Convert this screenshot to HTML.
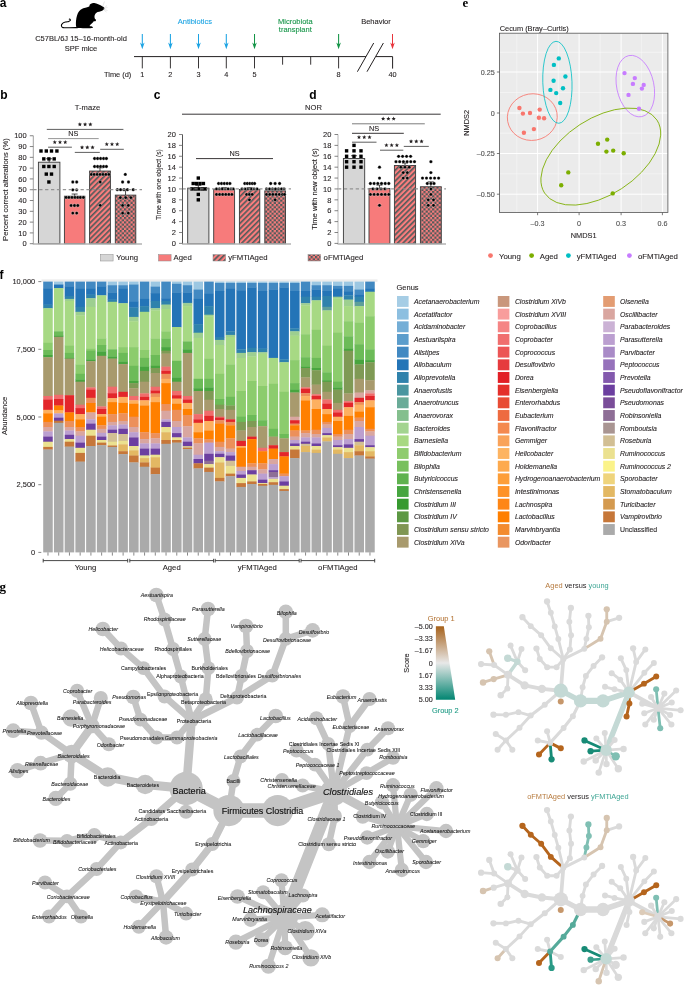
<!DOCTYPE html>
<html><head><meta charset="utf-8"><title>Figure</title>
<style>
html,body{margin:0;padding:0;background:#fff;}
body{width:685px;height:986px;overflow:hidden;}
svg{display:block;will-change:transform;}
text{font-family:"Liberation Sans",sans-serif;}
</style></head><body>
<svg width="685" height="986" viewBox="0 0 685 986" font-family="Liberation Sans, sans-serif" fill="#231f20">
<defs>
<pattern id="hatch" patternUnits="userSpaceOnUse" width="3.8" height="3.8" patternTransform="rotate(45)">
<rect width="3.8" height="3.8" fill="#fb7d7d"/><rect width="1.65" height="3.8" fill="#545b5b"/></pattern>
<pattern id="check" patternUnits="userSpaceOnUse" width="4.34" height="4.34" x="115.3" y="0">
<rect width="4.34" height="4.34" fill="#fb7d7d"/><rect width="2.17" height="2.17" fill="#505a5a"/><rect x="2.17" y="2.17" width="2.17" height="2.17" fill="#505a5a"/></pattern>
</defs>
<text x="-0.30" y="6.80" font-size="12" fill="#000" font-weight="bold">a</text>
<path d="M76.30,26.90 C75.78,25.70 75.87,22.83 76.00,20.90 C76.13,18.97 76.58,16.92 77.10,15.30 C77.62,13.68 78.23,12.30 79.10,11.20 C79.97,10.10 81.10,9.30 82.30,8.70 C83.50,8.10 85.17,7.95 86.30,7.60 C87.43,7.25 88.50,7.13 89.10,6.60 C89.70,6.07 89.37,4.97 89.90,4.40 C90.43,3.83 91.42,3.40 92.30,3.20 C93.18,3.00 93.92,2.90 95.20,3.20 C96.48,3.50 98.67,4.40 100.00,5.00 C101.33,5.60 102.47,6.23 103.20,6.80 C103.93,7.37 104.40,7.87 104.40,8.40 C104.40,8.93 103.80,9.53 103.20,10.00 C102.60,10.47 101.73,10.87 100.80,11.20 C99.87,11.53 98.47,11.62 97.60,12.00 C96.73,12.38 96.12,12.82 95.60,13.50 C95.08,14.18 94.63,15.27 94.50,16.10 C94.37,16.93 94.55,17.90 94.80,18.50 C95.05,19.10 95.90,19.25 96.00,19.70 C96.10,20.15 95.80,20.92 95.40,21.20 C95.00,21.48 94.03,21.18 93.60,21.40 C93.17,21.62 93.35,21.92 92.80,22.50 C92.25,23.08 90.83,24.32 90.30,24.90 C89.77,25.48 89.33,25.73 89.60,26.00 C89.87,26.27 91.35,26.23 91.90,26.50 C92.45,26.77 93.17,27.30 92.90,27.60 C92.63,27.90 92.60,28.22 90.30,28.30 C88.00,28.38 81.43,28.33 79.10,28.10 C76.77,27.87 76.82,28.10 76.30,26.90 Z" fill="#000"/>
<path d="M77.50,27.60 C76.17,27.63 71.92,27.80 69.50,27.80 C67.08,27.80 64.35,27.95 63.00,27.60 C61.65,27.25 61.47,26.40 61.40,25.70 C61.33,25.00 61.93,24.00 62.60,23.40 C63.27,22.80 64.38,22.43 65.40,22.10 C66.42,21.77 67.88,21.67 68.70,21.40 C69.52,21.13 70.07,20.83 70.30,20.50 C70.53,20.17 70.27,19.63 70.10,19.40 C69.93,19.17 69.43,19.15 69.30,19.10" fill="none" stroke="#000" stroke-width="1.1" stroke-linecap="round"/>
<path d="M103.5,8.3 L107,5.5 M103.8,8.6 L107.5,7.4 M103.3,9.5 L106.5,12 M103.5,9.2 L107.5,10.5 M102.5,6.8 L104.5,1.5" stroke="#bbb" stroke-width="0.35" fill="none"/>
<text x="81.00" y="41.20" font-size="7.5" text-anchor="middle" stroke="#231f20" stroke-width="0.1">C57BL/6J 15–16-month-old</text>
<text x="81.00" y="50.50" font-size="7.5" text-anchor="middle" stroke="#231f20" stroke-width="0.1">SPF mice</text>
<path d="M134,56.6 H366 M376,56.6 H392.6 V68.6" stroke="#231f20" stroke-width="1" fill="none"/>
<path d="M142.3,56.6 V68.4" stroke="#231f20" stroke-width="0.9"/>
<path d="M170.4,56.6 V68.4" stroke="#231f20" stroke-width="0.9"/>
<path d="M198.5,56.6 V68.4" stroke="#231f20" stroke-width="0.9"/>
<path d="M226.3,56.6 V68.4" stroke="#231f20" stroke-width="0.9"/>
<path d="M254.5,56.6 V68.4" stroke="#231f20" stroke-width="0.9"/>
<path d="M282.6,56.6 V64.7" stroke="#231f20" stroke-width="0.9"/>
<path d="M310.7,56.6 V64.7" stroke="#231f20" stroke-width="0.9"/>
<path d="M338.6,56.6 V68.4" stroke="#231f20" stroke-width="0.9"/>
<text x="142.30" y="77.20" font-size="7.3" text-anchor="middle" stroke="#231f20" stroke-width="0.1">1</text>
<text x="170.40" y="77.20" font-size="7.3" text-anchor="middle" stroke="#231f20" stroke-width="0.1">2</text>
<text x="198.50" y="77.20" font-size="7.3" text-anchor="middle" stroke="#231f20" stroke-width="0.1">3</text>
<text x="226.30" y="77.20" font-size="7.3" text-anchor="middle" stroke="#231f20" stroke-width="0.1">4</text>
<text x="254.50" y="77.20" font-size="7.3" text-anchor="middle" stroke="#231f20" stroke-width="0.1">5</text>
<text x="338.60" y="77.20" font-size="7.3" text-anchor="middle" stroke="#231f20" stroke-width="0.1">8</text>
<text x="392.50" y="77.20" font-size="7.3" text-anchor="middle" stroke="#231f20" stroke-width="0.1">40</text>
<text x="104.00" y="77.20" font-size="7.4" stroke="#231f20" stroke-width="0.1">Time (d)</text>
<path d="M357.4,71.7 L373.7,43 M367,71.7 L383.4,43" stroke="#231f20" stroke-width="1" fill="none"/>
<path d="M142.3,34 V46" stroke="#1ba3e3" stroke-width="1.05"/><path d="M140.0,42.5 L142.3,49.3 L144.60000000000002,42.5 L142.3,44.5 Z" fill="#1ba3e3"/>
<path d="M170.4,34 V46" stroke="#1ba3e3" stroke-width="1.05"/><path d="M168.1,42.5 L170.4,49.3 L172.70000000000002,42.5 L170.4,44.5 Z" fill="#1ba3e3"/>
<path d="M198.5,34 V46" stroke="#1ba3e3" stroke-width="1.05"/><path d="M196.2,42.5 L198.5,49.3 L200.8,42.5 L198.5,44.5 Z" fill="#1ba3e3"/>
<path d="M226.3,34 V46" stroke="#1ba3e3" stroke-width="1.05"/><path d="M224.0,42.5 L226.3,49.3 L228.60000000000002,42.5 L226.3,44.5 Z" fill="#1ba3e3"/>
<path d="M254.5,34 V46" stroke="#149447" stroke-width="1.05"/><path d="M252.2,42.5 L254.5,49.3 L256.8,42.5 L254.5,44.5 Z" fill="#149447"/>
<path d="M338.6,34 V46" stroke="#149447" stroke-width="1.05"/><path d="M336.3,42.5 L338.6,49.3 L340.90000000000003,42.5 L338.6,44.5 Z" fill="#149447"/>
<path d="M392.5,34 V46" stroke="#e8343c" stroke-width="1.05"/><path d="M390.2,42.5 L392.5,49.3 L394.8,42.5 L392.5,44.5 Z" fill="#e8343c"/>
<text x="194.80" y="24.20" font-size="7.5" text-anchor="middle" fill="#1ba3e3" stroke="#1ba3e3" stroke-width="0.1">Antibiotics</text>
<text x="295.30" y="24.00" font-size="7.5" text-anchor="middle" fill="#149447" stroke="#149447" stroke-width="0.1">Microbiota</text>
<text x="295.30" y="32.30" font-size="7.5" text-anchor="middle" fill="#149447" stroke="#149447" stroke-width="0.1">transplant</text>
<text x="376.00" y="24.00" font-size="7.5" text-anchor="middle" stroke="#231f20" stroke-width="0.1">Behavior</text><text x="0.20" y="98.70" font-size="12" fill="#000" font-weight="bold">b</text><text x="153.80" y="98.60" font-size="12" fill="#000" font-weight="bold">c</text><text x="309.20" y="98.60" font-size="12" fill="#000" font-weight="bold">d</text><text x="87.50" y="110.30" font-size="7.6" text-anchor="middle" stroke="#231f20" stroke-width="0.1">T-maze</text><text x="313.50" y="110.30" font-size="7.6" text-anchor="middle" stroke="#231f20" stroke-width="0.1">NOR</text><path d="M182,114.2 H440.7" stroke="#231f20" stroke-width="0.9"/><rect x="38.4" y="162.20" width="21.50" height="81.50" fill="#d6d6d6" stroke="#3a3a3a" stroke-width="0.9"/><rect x="64.4" y="196.20" width="20.50" height="47.50" fill="#f77b7b" stroke="#3a3a3a" stroke-width="0.9"/><rect x="89.6" y="171.05" width="20.80" height="72.65" fill="url(#hatch)" stroke="#3a3a3a" stroke-width="0.9"/><rect x="115.3" y="195.12" width="20.50" height="48.58" fill="url(#check)" stroke="#3a3a3a" stroke-width="0.9"/><path d="M49.15,162.20 V158.74 M46.15,158.74 H52.15" stroke="#231f20" stroke-width="0.8"/><path d="M74.65,196.20 V194.04 M71.65,194.04 H77.65" stroke="#231f20" stroke-width="0.8"/><path d="M100.00,171.05 V167.81 M97.00,167.81 H103.00" stroke="#231f20" stroke-width="0.8"/><path d="M125.55,195.12 V189.94 M122.55,189.94 H128.55" stroke="#231f20" stroke-width="0.8"/><rect x="39.30" y="149.30" width="3.4" height="3.4" fill="#000"/><rect x="44.60" y="149.30" width="3.4" height="3.4" fill="#000"/><rect x="49.80" y="149.30" width="3.4" height="3.4" fill="#000"/><rect x="55.20" y="149.30" width="3.4" height="3.4" fill="#000"/><rect x="42.10" y="157.20" width="3.4" height="3.4" fill="#000"/><rect x="47.20" y="157.20" width="3.4" height="3.4" fill="#000"/><rect x="52.50" y="157.20" width="3.4" height="3.4" fill="#000"/><rect x="42.10" y="164.80" width="3.4" height="3.4" fill="#000"/><rect x="47.20" y="164.80" width="3.4" height="3.4" fill="#000"/><rect x="52.50" y="164.80" width="3.4" height="3.4" fill="#000"/><rect x="44.60" y="172.40" width="3.4" height="3.4" fill="#000"/><rect x="49.80" y="172.40" width="3.4" height="3.4" fill="#000"/><rect x="47.20" y="180.30" width="3.4" height="3.4" fill="#000"/><circle cx="72.80" cy="182.00" r="1.65" fill="#000" stroke="#fff" stroke-width="0.3"/><circle cx="76.70" cy="182.00" r="1.65" fill="#000" stroke="#fff" stroke-width="0.3"/><circle cx="72.80" cy="189.80" r="1.65" fill="#000" stroke="#fff" stroke-width="0.3"/><circle cx="76.70" cy="189.80" r="1.65" fill="#000" stroke="#fff" stroke-width="0.3"/><circle cx="66.10" cy="197.40" r="1.65" fill="#000" stroke="#fff" stroke-width="0.3"/><circle cx="68.90" cy="197.40" r="1.65" fill="#000" stroke="#fff" stroke-width="0.3"/><circle cx="72.00" cy="197.40" r="1.65" fill="#000" stroke="#fff" stroke-width="0.3"/><circle cx="75.00" cy="197.40" r="1.65" fill="#000" stroke="#fff" stroke-width="0.3"/><circle cx="77.80" cy="197.40" r="1.65" fill="#000" stroke="#fff" stroke-width="0.3"/><circle cx="80.40" cy="197.40" r="1.65" fill="#000" stroke="#fff" stroke-width="0.3"/><circle cx="83.40" cy="197.40" r="1.65" fill="#000" stroke="#fff" stroke-width="0.3"/><circle cx="71.10" cy="205.50" r="1.65" fill="#000" stroke="#fff" stroke-width="0.3"/><circle cx="74.50" cy="205.50" r="1.65" fill="#000" stroke="#fff" stroke-width="0.3"/><circle cx="77.80" cy="205.50" r="1.65" fill="#000" stroke="#fff" stroke-width="0.3"/><circle cx="72.80" cy="213.10" r="1.65" fill="#000" stroke="#fff" stroke-width="0.3"/><circle cx="76.70" cy="213.10" r="1.65" fill="#000" stroke="#fff" stroke-width="0.3"/><circle cx="94.60" cy="158.50" r="1.65" fill="#000" stroke="#fff" stroke-width="0.3"/><circle cx="97.60" cy="158.50" r="1.65" fill="#000" stroke="#fff" stroke-width="0.3"/><circle cx="100.60" cy="158.50" r="1.65" fill="#000" stroke="#fff" stroke-width="0.3"/><circle cx="103.60" cy="158.50" r="1.65" fill="#000" stroke="#fff" stroke-width="0.3"/><circle cx="106.40" cy="158.50" r="1.65" fill="#000" stroke="#fff" stroke-width="0.3"/><circle cx="94.60" cy="166.50" r="1.65" fill="#000" stroke="#fff" stroke-width="0.3"/><circle cx="97.60" cy="166.50" r="1.65" fill="#000" stroke="#fff" stroke-width="0.3"/><circle cx="100.60" cy="166.50" r="1.65" fill="#000" stroke="#fff" stroke-width="0.3"/><circle cx="103.60" cy="166.50" r="1.65" fill="#000" stroke="#fff" stroke-width="0.3"/><circle cx="106.40" cy="166.50" r="1.65" fill="#000" stroke="#fff" stroke-width="0.3"/><circle cx="91.30" cy="174.40" r="1.65" fill="#000" stroke="#fff" stroke-width="0.3"/><circle cx="94.10" cy="174.40" r="1.65" fill="#000" stroke="#fff" stroke-width="0.3"/><circle cx="97.10" cy="174.40" r="1.65" fill="#000" stroke="#fff" stroke-width="0.3"/><circle cx="100.00" cy="174.40" r="1.65" fill="#000" stroke="#fff" stroke-width="0.3"/><circle cx="103.00" cy="174.40" r="1.65" fill="#000" stroke="#fff" stroke-width="0.3"/><circle cx="105.90" cy="174.40" r="1.65" fill="#000" stroke="#fff" stroke-width="0.3"/><circle cx="108.90" cy="174.40" r="1.65" fill="#000" stroke="#fff" stroke-width="0.3"/><circle cx="100.20" cy="182.00" r="1.65" fill="#000" stroke="#fff" stroke-width="0.3"/><circle cx="100.20" cy="205.30" r="1.65" fill="#000" stroke="#fff" stroke-width="0.3"/><circle cx="125.30" cy="174.40" r="1.65" fill="#000" stroke="#fff" stroke-width="0.3"/><circle cx="122.60" cy="182.00" r="1.65" fill="#000" stroke="#fff" stroke-width="0.3"/><circle cx="128.50" cy="182.00" r="1.65" fill="#000" stroke="#fff" stroke-width="0.3"/><circle cx="117.30" cy="189.70" r="1.65" fill="#000" stroke="#fff" stroke-width="0.3"/><circle cx="120.60" cy="189.70" r="1.65" fill="#000" stroke="#fff" stroke-width="0.3"/><circle cx="124.00" cy="189.70" r="1.65" fill="#000" stroke="#fff" stroke-width="0.3"/><circle cx="127.40" cy="189.70" r="1.65" fill="#000" stroke="#fff" stroke-width="0.3"/><circle cx="133.20" cy="189.70" r="1.65" fill="#000" stroke="#fff" stroke-width="0.3"/><circle cx="120.30" cy="197.60" r="1.65" fill="#000" stroke="#fff" stroke-width="0.3"/><circle cx="125.70" cy="197.60" r="1.65" fill="#000" stroke="#fff" stroke-width="0.3"/><circle cx="130.90" cy="197.60" r="1.65" fill="#000" stroke="#fff" stroke-width="0.3"/><circle cx="122.60" cy="205.40" r="1.65" fill="#000" stroke="#fff" stroke-width="0.3"/><circle cx="128.30" cy="205.40" r="1.65" fill="#000" stroke="#fff" stroke-width="0.3"/><circle cx="122.60" cy="213.10" r="1.65" fill="#000" stroke="#fff" stroke-width="0.3"/><circle cx="128.30" cy="213.10" r="1.65" fill="#000" stroke="#fff" stroke-width="0.3"/><path d="M33.3,189.72 H142" stroke="#8c8c8c" stroke-width="1.3" stroke-dasharray="3.3,2.6" opacity="0.9"/><path d="M33.3,135.75 V244" stroke="#a0a0a0" stroke-width="1"/><path d="M32.8,244.1 H142" stroke="#b3b3b3" stroke-width="1.5"/><path d="M29.799999999999997,243.70 H33.3" stroke="#666" stroke-width="0.8"/><text x="26.70" y="246.40" font-size="7.5" text-anchor="end" stroke="#231f20" stroke-width="0.1">0</text><path d="M29.799999999999997,232.91 H33.3" stroke="#666" stroke-width="0.8"/><text x="26.70" y="235.60" font-size="7.5" text-anchor="end" stroke="#231f20" stroke-width="0.1">10</text><path d="M29.799999999999997,222.11 H33.3" stroke="#666" stroke-width="0.8"/><text x="26.70" y="224.81" font-size="7.5" text-anchor="end" stroke="#231f20" stroke-width="0.1">20</text><path d="M29.799999999999997,211.31 H33.3" stroke="#666" stroke-width="0.8"/><text x="26.70" y="214.01" font-size="7.5" text-anchor="end" stroke="#231f20" stroke-width="0.1">30</text><path d="M29.799999999999997,200.52 H33.3" stroke="#666" stroke-width="0.8"/><text x="26.70" y="203.22" font-size="7.5" text-anchor="end" stroke="#231f20" stroke-width="0.1">40</text><path d="M29.799999999999997,189.72 H33.3" stroke="#666" stroke-width="0.8"/><text x="26.70" y="192.42" font-size="7.5" text-anchor="end" stroke="#231f20" stroke-width="0.1">50</text><path d="M29.799999999999997,178.93 H33.3" stroke="#666" stroke-width="0.8"/><text x="26.70" y="181.63" font-size="7.5" text-anchor="end" stroke="#231f20" stroke-width="0.1">60</text><path d="M29.799999999999997,168.13 H33.3" stroke="#666" stroke-width="0.8"/><text x="26.70" y="170.83" font-size="7.5" text-anchor="end" stroke="#231f20" stroke-width="0.1">70</text><path d="M29.799999999999997,157.34 H33.3" stroke="#666" stroke-width="0.8"/><text x="26.70" y="160.04" font-size="7.5" text-anchor="end" stroke="#231f20" stroke-width="0.1">80</text><path d="M29.799999999999997,146.55 H33.3" stroke="#666" stroke-width="0.8"/><text x="26.70" y="149.25" font-size="7.5" text-anchor="end" stroke="#231f20" stroke-width="0.1">90</text><path d="M29.799999999999997,135.75 H33.3" stroke="#666" stroke-width="0.8"/><text x="26.70" y="138.45" font-size="7.5" text-anchor="end" stroke="#231f20" stroke-width="0.1">100</text><text x="8.40" y="189.60" font-size="7.6" text-anchor="middle" stroke="#231f20" stroke-width="0.1" transform="rotate(-90 8.4 189.6)">Percent correct alterations (%)</text><path d="M46.8,129.4 H123.4" stroke="#4d4d4d" stroke-width="0.9"/><polygon points="79.85,122.15 80.43,123.61 81.99,123.70 80.78,124.70 81.17,126.22 79.85,125.38 78.53,126.22 78.92,124.70 77.71,123.70 79.27,123.61" fill="#231f20"/><polygon points="85.10,122.15 85.68,123.61 87.24,123.70 86.03,124.70 86.42,126.22 85.10,125.38 83.78,126.22 84.17,124.70 82.96,123.70 84.52,123.61" fill="#231f20"/><polygon points="90.35,122.15 90.93,123.61 92.49,123.70 91.28,124.70 91.67,126.22 90.35,125.38 89.03,126.22 89.42,124.70 88.21,123.70 89.77,123.61" fill="#231f20"/><path d="M48.1,138.6 H98.7" stroke="#8a8a8a" stroke-width="0.9"/><text x="73.40" y="136.40" font-size="7.3" text-anchor="middle" stroke="#231f20" stroke-width="0.1">NS</text><path d="M48.1,147.2 H71.9" stroke="#4d4d4d" stroke-width="0.9"/><polygon points="54.75,139.95 55.33,141.41 56.89,141.50 55.68,142.50 56.07,144.02 54.75,143.18 53.43,144.02 53.82,142.50 52.61,141.50 54.17,141.41" fill="#231f20"/><polygon points="60.00,139.95 60.58,141.41 62.14,141.50 60.93,142.50 61.32,144.02 60.00,143.18 58.68,144.02 59.07,142.50 57.86,141.50 59.42,141.41" fill="#231f20"/><polygon points="65.25,139.95 65.83,141.41 67.39,141.50 66.18,142.50 66.57,144.02 65.25,143.18 63.93,144.02 64.32,142.50 63.11,141.50 64.67,141.41" fill="#231f20"/><path d="M74.8,152.4 H99.8" stroke="#4d4d4d" stroke-width="0.9"/><polygon points="82.05,145.15 82.63,146.61 84.19,146.70 82.98,147.70 83.37,149.22 82.05,148.38 80.73,149.22 81.12,147.70 79.91,146.70 81.47,146.61" fill="#231f20"/><polygon points="87.30,145.15 87.88,146.61 89.44,146.70 88.23,147.70 88.62,149.22 87.30,148.38 85.98,149.22 86.37,147.70 85.16,146.70 86.72,146.61" fill="#231f20"/><polygon points="92.55,145.15 93.13,146.61 94.69,146.70 93.48,147.70 93.87,149.22 92.55,148.38 91.23,149.22 91.62,147.70 90.41,146.70 91.97,146.61" fill="#231f20"/><path d="M100.2,149.3 H123.8" stroke="#4d4d4d" stroke-width="0.9"/><polygon points="106.75,142.05 107.33,143.51 108.89,143.60 107.68,144.60 108.07,146.12 106.75,145.28 105.43,146.12 105.82,144.60 104.61,143.60 106.17,143.51" fill="#231f20"/><polygon points="112.00,142.05 112.58,143.51 114.14,143.60 112.93,144.60 113.32,146.12 112.00,145.28 110.68,146.12 111.07,144.60 109.86,143.60 111.42,143.51" fill="#231f20"/><polygon points="117.25,142.05 117.83,143.51 119.39,143.60 118.18,144.60 118.57,146.12 117.25,145.28 115.93,146.12 116.32,144.60 115.11,143.60 116.67,143.51" fill="#231f20"/><rect x="187.7" y="188.13" width="21.20" height="55.57" fill="#d6d6d6" stroke="#3a3a3a" stroke-width="0.9"/><rect x="213.7" y="189.49" width="20.90" height="54.21" fill="#f77b7b" stroke="#3a3a3a" stroke-width="0.9"/><rect x="239.4" y="189.49" width="20.40" height="54.21" fill="url(#hatch)" stroke="#3a3a3a" stroke-width="0.9"/><rect x="264.8" y="190.86" width="20.70" height="52.84" fill="url(#check)" stroke="#3a3a3a" stroke-width="0.9"/><path d="M198.30,188.13 V185.41 M195.30,185.41 H201.30" stroke="#231f20" stroke-width="0.8"/><path d="M224.15,189.49 V187.59 M221.15,187.59 H227.15" stroke="#231f20" stroke-width="0.8"/><path d="M249.60,189.49 V187.59 M246.60,187.59 H252.60" stroke="#231f20" stroke-width="0.8"/><path d="M275.15,190.86 V188.95 M272.15,188.95 H278.15" stroke="#231f20" stroke-width="0.8"/><rect x="196.60" y="176.36" width="3.4" height="3.4" fill="#000"/><rect x="191.50" y="181.81" width="3.4" height="3.4" fill="#000"/><rect x="194.90" y="181.81" width="3.4" height="3.4" fill="#000"/><rect x="198.30" y="181.81" width="3.4" height="3.4" fill="#000"/><rect x="201.70" y="181.81" width="3.4" height="3.4" fill="#000"/><rect x="190.30" y="187.25" width="3.4" height="3.4" fill="#000"/><rect x="193.70" y="187.25" width="3.4" height="3.4" fill="#000"/><rect x="197.10" y="187.25" width="3.4" height="3.4" fill="#000"/><rect x="200.50" y="187.25" width="3.4" height="3.4" fill="#000"/><rect x="203.50" y="187.25" width="3.4" height="3.4" fill="#000"/><rect x="196.60" y="192.70" width="3.4" height="3.4" fill="#000"/><rect x="196.60" y="198.14" width="3.4" height="3.4" fill="#000"/><circle cx="218.60" cy="183.50" r="1.65" fill="#000" stroke="#fff" stroke-width="0.3"/><circle cx="221.50" cy="183.50" r="1.65" fill="#000" stroke="#fff" stroke-width="0.3"/><circle cx="224.30" cy="183.50" r="1.65" fill="#000" stroke="#fff" stroke-width="0.3"/><circle cx="227.10" cy="183.50" r="1.65" fill="#000" stroke="#fff" stroke-width="0.3"/><circle cx="229.90" cy="183.50" r="1.65" fill="#000" stroke="#fff" stroke-width="0.3"/><circle cx="216.50" cy="188.95" r="1.65" fill="#000" stroke="#fff" stroke-width="0.3"/><circle cx="219.40" cy="188.95" r="1.65" fill="#000" stroke="#fff" stroke-width="0.3"/><circle cx="222.30" cy="188.95" r="1.65" fill="#000" stroke="#fff" stroke-width="0.3"/><circle cx="225.20" cy="188.95" r="1.65" fill="#000" stroke="#fff" stroke-width="0.3"/><circle cx="228.10" cy="188.95" r="1.65" fill="#000" stroke="#fff" stroke-width="0.3"/><circle cx="231.00" cy="188.95" r="1.65" fill="#000" stroke="#fff" stroke-width="0.3"/><circle cx="233.20" cy="188.95" r="1.65" fill="#000" stroke="#fff" stroke-width="0.3"/><circle cx="216.50" cy="194.40" r="1.65" fill="#000" stroke="#fff" stroke-width="0.3"/><circle cx="219.60" cy="194.40" r="1.65" fill="#000" stroke="#fff" stroke-width="0.3"/><circle cx="222.70" cy="194.40" r="1.65" fill="#000" stroke="#fff" stroke-width="0.3"/><circle cx="225.80" cy="194.40" r="1.65" fill="#000" stroke="#fff" stroke-width="0.3"/><circle cx="228.90" cy="194.40" r="1.65" fill="#000" stroke="#fff" stroke-width="0.3"/><circle cx="231.90" cy="194.40" r="1.65" fill="#000" stroke="#fff" stroke-width="0.3"/><circle cx="244.80" cy="183.50" r="1.65" fill="#000" stroke="#fff" stroke-width="0.3"/><circle cx="247.30" cy="183.50" r="1.65" fill="#000" stroke="#fff" stroke-width="0.3"/><circle cx="249.80" cy="183.50" r="1.65" fill="#000" stroke="#fff" stroke-width="0.3"/><circle cx="252.30" cy="183.50" r="1.65" fill="#000" stroke="#fff" stroke-width="0.3"/><circle cx="254.60" cy="183.50" r="1.65" fill="#000" stroke="#fff" stroke-width="0.3"/><circle cx="242.00" cy="188.95" r="1.65" fill="#000" stroke="#fff" stroke-width="0.3"/><circle cx="245.00" cy="188.95" r="1.65" fill="#000" stroke="#fff" stroke-width="0.3"/><circle cx="248.00" cy="188.95" r="1.65" fill="#000" stroke="#fff" stroke-width="0.3"/><circle cx="251.00" cy="188.95" r="1.65" fill="#000" stroke="#fff" stroke-width="0.3"/><circle cx="254.00" cy="188.95" r="1.65" fill="#000" stroke="#fff" stroke-width="0.3"/><circle cx="257.00" cy="188.95" r="1.65" fill="#000" stroke="#fff" stroke-width="0.3"/><circle cx="246.60" cy="194.40" r="1.65" fill="#000" stroke="#fff" stroke-width="0.3"/><circle cx="249.40" cy="194.40" r="1.65" fill="#000" stroke="#fff" stroke-width="0.3"/><circle cx="252.20" cy="194.40" r="1.65" fill="#000" stroke="#fff" stroke-width="0.3"/><circle cx="249.40" cy="199.84" r="1.65" fill="#000" stroke="#fff" stroke-width="0.3"/><circle cx="270.70" cy="183.50" r="1.65" fill="#000" stroke="#fff" stroke-width="0.3"/><circle cx="275.10" cy="183.50" r="1.65" fill="#000" stroke="#fff" stroke-width="0.3"/><circle cx="279.60" cy="183.50" r="1.65" fill="#000" stroke="#fff" stroke-width="0.3"/><circle cx="266.50" cy="188.95" r="1.65" fill="#000" stroke="#fff" stroke-width="0.3"/><circle cx="269.50" cy="188.95" r="1.65" fill="#000" stroke="#fff" stroke-width="0.3"/><circle cx="272.50" cy="188.95" r="1.65" fill="#000" stroke="#fff" stroke-width="0.3"/><circle cx="275.50" cy="188.95" r="1.65" fill="#000" stroke="#fff" stroke-width="0.3"/><circle cx="278.50" cy="188.95" r="1.65" fill="#000" stroke="#fff" stroke-width="0.3"/><circle cx="281.50" cy="188.95" r="1.65" fill="#000" stroke="#fff" stroke-width="0.3"/><circle cx="284.00" cy="188.95" r="1.65" fill="#000" stroke="#fff" stroke-width="0.3"/><circle cx="266.50" cy="194.40" r="1.65" fill="#000" stroke="#fff" stroke-width="0.3"/><circle cx="269.70" cy="194.40" r="1.65" fill="#000" stroke="#fff" stroke-width="0.3"/><circle cx="272.90" cy="194.40" r="1.65" fill="#000" stroke="#fff" stroke-width="0.3"/><circle cx="276.10" cy="194.40" r="1.65" fill="#000" stroke="#fff" stroke-width="0.3"/><circle cx="279.30" cy="194.40" r="1.65" fill="#000" stroke="#fff" stroke-width="0.3"/><circle cx="282.50" cy="194.40" r="1.65" fill="#000" stroke="#fff" stroke-width="0.3"/><circle cx="284.50" cy="194.40" r="1.65" fill="#000" stroke="#fff" stroke-width="0.3"/><circle cx="275.10" cy="199.84" r="1.65" fill="#000" stroke="#fff" stroke-width="0.3"/><path d="M182.5,188.95 H291" stroke="#8c8c8c" stroke-width="1.3" stroke-dasharray="3.3,2.6" opacity="0.9"/><path d="M182.5,134.50 V244" stroke="#555" stroke-width="1"/><path d="M182.0,244.1 H291" stroke="#b3b3b3" stroke-width="1.5"/><path d="M179.0,243.40 H182.5" stroke="#666" stroke-width="0.8"/><text x="175.90" y="246.10" font-size="7.5" text-anchor="end" stroke="#231f20" stroke-width="0.1">0</text><path d="M179.0,232.51 H182.5" stroke="#666" stroke-width="0.8"/><text x="175.90" y="235.21" font-size="7.5" text-anchor="end" stroke="#231f20" stroke-width="0.1">2</text><path d="M179.0,221.62 H182.5" stroke="#666" stroke-width="0.8"/><text x="175.90" y="224.32" font-size="7.5" text-anchor="end" stroke="#231f20" stroke-width="0.1">4</text><path d="M179.0,210.73 H182.5" stroke="#666" stroke-width="0.8"/><text x="175.90" y="213.43" font-size="7.5" text-anchor="end" stroke="#231f20" stroke-width="0.1">6</text><path d="M179.0,199.84 H182.5" stroke="#666" stroke-width="0.8"/><text x="175.90" y="202.54" font-size="7.5" text-anchor="end" stroke="#231f20" stroke-width="0.1">8</text><path d="M179.0,188.95 H182.5" stroke="#666" stroke-width="0.8"/><text x="175.90" y="191.65" font-size="7.5" text-anchor="end" stroke="#231f20" stroke-width="0.1">10</text><path d="M179.0,178.06 H182.5" stroke="#666" stroke-width="0.8"/><text x="175.90" y="180.76" font-size="7.5" text-anchor="end" stroke="#231f20" stroke-width="0.1">12</text><path d="M179.0,167.17 H182.5" stroke="#666" stroke-width="0.8"/><text x="175.90" y="169.87" font-size="7.5" text-anchor="end" stroke="#231f20" stroke-width="0.1">14</text><path d="M179.0,156.28 H182.5" stroke="#666" stroke-width="0.8"/><text x="175.90" y="158.98" font-size="7.5" text-anchor="end" stroke="#231f20" stroke-width="0.1">16</text><path d="M179.0,145.39 H182.5" stroke="#666" stroke-width="0.8"/><text x="175.90" y="148.09" font-size="7.5" text-anchor="end" stroke="#231f20" stroke-width="0.1">18</text><path d="M179.0,134.50 H182.5" stroke="#666" stroke-width="0.8"/><text x="175.90" y="137.20" font-size="7.5" text-anchor="end" stroke="#231f20" stroke-width="0.1">20</text><text x="161.20" y="184.50" font-size="6.7" text-anchor="middle" stroke="#231f20" stroke-width="0.1" transform="rotate(-90 161.2 184.5)">Time with one object (s)</text><path d="M196,158.6 H273" stroke="#231f20" stroke-width="0.9"/><text x="234.50" y="156.40" font-size="7.3" text-anchor="middle" stroke="#231f20" stroke-width="0.1">NS</text><rect x="343.4" y="158.46" width="21.30" height="85.24" fill="#d6d6d6" stroke="#3a3a3a" stroke-width="0.9"/><rect x="369" y="188.41" width="20.90" height="55.29" fill="#f77b7b" stroke="#3a3a3a" stroke-width="0.9"/><rect x="394.4" y="165.54" width="21.20" height="78.16" fill="url(#hatch)" stroke="#3a3a3a" stroke-width="0.9"/><rect x="420.4" y="186.77" width="20.90" height="56.93" fill="url(#check)" stroke="#3a3a3a" stroke-width="0.9"/><path d="M354.05,158.46 V155.74 M351.05,155.74 H357.05" stroke="#231f20" stroke-width="0.8"/><path d="M379.45,188.41 V185.14 M376.45,185.14 H382.45" stroke="#231f20" stroke-width="0.8"/><path d="M405.00,165.54 V163.09 M402.00,163.09 H408.00" stroke="#231f20" stroke-width="0.8"/><path d="M430.85,186.77 V181.87 M427.85,181.87 H433.85" stroke="#231f20" stroke-width="0.8"/><rect x="352.30" y="143.69" width="3.4" height="3.4" fill="#000"/><rect x="344.90" y="149.14" width="3.4" height="3.4" fill="#000"/><rect x="352.30" y="149.14" width="3.4" height="3.4" fill="#000"/><rect x="359.30" y="149.14" width="3.4" height="3.4" fill="#000"/><rect x="344.90" y="154.58" width="3.4" height="3.4" fill="#000"/><rect x="352.30" y="154.58" width="3.4" height="3.4" fill="#000"/><rect x="359.30" y="154.58" width="3.4" height="3.4" fill="#000"/><rect x="344.90" y="160.03" width="3.4" height="3.4" fill="#000"/><rect x="352.30" y="160.03" width="3.4" height="3.4" fill="#000"/><rect x="359.30" y="160.03" width="3.4" height="3.4" fill="#000"/><rect x="344.90" y="165.47" width="3.4" height="3.4" fill="#000"/><rect x="352.30" y="165.47" width="3.4" height="3.4" fill="#000"/><rect x="359.30" y="165.47" width="3.4" height="3.4" fill="#000"/><circle cx="379.50" cy="167.17" r="1.65" fill="#000" stroke="#fff" stroke-width="0.3"/><circle cx="379.50" cy="178.06" r="1.65" fill="#000" stroke="#fff" stroke-width="0.3"/><circle cx="370.40" cy="183.50" r="1.65" fill="#000" stroke="#fff" stroke-width="0.3"/><circle cx="374.10" cy="183.50" r="1.65" fill="#000" stroke="#fff" stroke-width="0.3"/><circle cx="377.80" cy="183.50" r="1.65" fill="#000" stroke="#fff" stroke-width="0.3"/><circle cx="381.50" cy="183.50" r="1.65" fill="#000" stroke="#fff" stroke-width="0.3"/><circle cx="385.20" cy="183.50" r="1.65" fill="#000" stroke="#fff" stroke-width="0.3"/><circle cx="388.80" cy="183.50" r="1.65" fill="#000" stroke="#fff" stroke-width="0.3"/><circle cx="373.00" cy="188.95" r="1.65" fill="#000" stroke="#fff" stroke-width="0.3"/><circle cx="377.00" cy="188.95" r="1.65" fill="#000" stroke="#fff" stroke-width="0.3"/><circle cx="381.00" cy="188.95" r="1.65" fill="#000" stroke="#fff" stroke-width="0.3"/><circle cx="385.00" cy="188.95" r="1.65" fill="#000" stroke="#fff" stroke-width="0.3"/><circle cx="370.40" cy="194.40" r="1.65" fill="#000" stroke="#fff" stroke-width="0.3"/><circle cx="374.10" cy="194.40" r="1.65" fill="#000" stroke="#fff" stroke-width="0.3"/><circle cx="377.80" cy="194.40" r="1.65" fill="#000" stroke="#fff" stroke-width="0.3"/><circle cx="381.50" cy="194.40" r="1.65" fill="#000" stroke="#fff" stroke-width="0.3"/><circle cx="385.20" cy="194.40" r="1.65" fill="#000" stroke="#fff" stroke-width="0.3"/><circle cx="388.80" cy="194.40" r="1.65" fill="#000" stroke="#fff" stroke-width="0.3"/><circle cx="379.50" cy="205.28" r="1.65" fill="#000" stroke="#fff" stroke-width="0.3"/><circle cx="398.60" cy="156.28" r="1.65" fill="#000" stroke="#fff" stroke-width="0.3"/><circle cx="402.60" cy="156.28" r="1.65" fill="#000" stroke="#fff" stroke-width="0.3"/><circle cx="406.60" cy="156.28" r="1.65" fill="#000" stroke="#fff" stroke-width="0.3"/><circle cx="410.60" cy="156.28" r="1.65" fill="#000" stroke="#fff" stroke-width="0.3"/><circle cx="396.00" cy="161.72" r="1.65" fill="#000" stroke="#fff" stroke-width="0.3"/><circle cx="399.70" cy="161.72" r="1.65" fill="#000" stroke="#fff" stroke-width="0.3"/><circle cx="403.40" cy="161.72" r="1.65" fill="#000" stroke="#fff" stroke-width="0.3"/><circle cx="407.10" cy="161.72" r="1.65" fill="#000" stroke="#fff" stroke-width="0.3"/><circle cx="410.80" cy="161.72" r="1.65" fill="#000" stroke="#fff" stroke-width="0.3"/><circle cx="414.50" cy="161.72" r="1.65" fill="#000" stroke="#fff" stroke-width="0.3"/><circle cx="400.80" cy="167.17" r="1.65" fill="#000" stroke="#fff" stroke-width="0.3"/><circle cx="405.00" cy="167.17" r="1.65" fill="#000" stroke="#fff" stroke-width="0.3"/><circle cx="409.20" cy="167.17" r="1.65" fill="#000" stroke="#fff" stroke-width="0.3"/><circle cx="403.20" cy="172.62" r="1.65" fill="#000" stroke="#fff" stroke-width="0.3"/><circle cx="407.30" cy="172.62" r="1.65" fill="#000" stroke="#fff" stroke-width="0.3"/><circle cx="403.20" cy="178.06" r="1.65" fill="#000" stroke="#fff" stroke-width="0.3"/><circle cx="407.30" cy="178.06" r="1.65" fill="#000" stroke="#fff" stroke-width="0.3"/><circle cx="430.90" cy="161.72" r="1.65" fill="#000" stroke="#fff" stroke-width="0.3"/><circle cx="430.90" cy="172.62" r="1.65" fill="#000" stroke="#fff" stroke-width="0.3"/><circle cx="422.50" cy="178.06" r="1.65" fill="#000" stroke="#fff" stroke-width="0.3"/><circle cx="426.50" cy="178.06" r="1.65" fill="#000" stroke="#fff" stroke-width="0.3"/><circle cx="430.60" cy="178.06" r="1.65" fill="#000" stroke="#fff" stroke-width="0.3"/><circle cx="434.60" cy="178.06" r="1.65" fill="#000" stroke="#fff" stroke-width="0.3"/><circle cx="438.60" cy="178.06" r="1.65" fill="#000" stroke="#fff" stroke-width="0.3"/><circle cx="427.30" cy="183.50" r="1.65" fill="#000" stroke="#fff" stroke-width="0.3"/><circle cx="430.90" cy="183.50" r="1.65" fill="#000" stroke="#fff" stroke-width="0.3"/><circle cx="434.00" cy="183.50" r="1.65" fill="#000" stroke="#fff" stroke-width="0.3"/><circle cx="430.90" cy="188.95" r="1.65" fill="#000" stroke="#fff" stroke-width="0.3"/><circle cx="430.90" cy="194.40" r="1.65" fill="#000" stroke="#fff" stroke-width="0.3"/><circle cx="428.20" cy="199.84" r="1.65" fill="#000" stroke="#fff" stroke-width="0.3"/><circle cx="433.50" cy="199.84" r="1.65" fill="#000" stroke="#fff" stroke-width="0.3"/><circle cx="428.20" cy="205.28" r="1.65" fill="#000" stroke="#fff" stroke-width="0.3"/><circle cx="433.50" cy="205.28" r="1.65" fill="#000" stroke="#fff" stroke-width="0.3"/><path d="M338,188.95 H446" stroke="#8c8c8c" stroke-width="1.3" stroke-dasharray="3.3,2.6" opacity="0.9"/><path d="M338,134.50 V244" stroke="#b5b5b5" stroke-width="1"/><path d="M337.5,244.1 H446" stroke="#b3b3b3" stroke-width="1.5"/><path d="M334.5,243.40 H338" stroke="#666" stroke-width="0.8"/><text x="331.40" y="246.10" font-size="7.5" text-anchor="end" stroke="#231f20" stroke-width="0.1">0</text><path d="M334.5,232.51 H338" stroke="#666" stroke-width="0.8"/><text x="331.40" y="235.21" font-size="7.5" text-anchor="end" stroke="#231f20" stroke-width="0.1">2</text><path d="M334.5,221.62 H338" stroke="#666" stroke-width="0.8"/><text x="331.40" y="224.32" font-size="7.5" text-anchor="end" stroke="#231f20" stroke-width="0.1">4</text><path d="M334.5,210.73 H338" stroke="#666" stroke-width="0.8"/><text x="331.40" y="213.43" font-size="7.5" text-anchor="end" stroke="#231f20" stroke-width="0.1">6</text><path d="M334.5,199.84 H338" stroke="#666" stroke-width="0.8"/><text x="331.40" y="202.54" font-size="7.5" text-anchor="end" stroke="#231f20" stroke-width="0.1">8</text><path d="M334.5,188.95 H338" stroke="#666" stroke-width="0.8"/><text x="331.40" y="191.65" font-size="7.5" text-anchor="end" stroke="#231f20" stroke-width="0.1">10</text><path d="M334.5,178.06 H338" stroke="#666" stroke-width="0.8"/><text x="331.40" y="180.76" font-size="7.5" text-anchor="end" stroke="#231f20" stroke-width="0.1">12</text><path d="M334.5,167.17 H338" stroke="#666" stroke-width="0.8"/><text x="331.40" y="169.87" font-size="7.5" text-anchor="end" stroke="#231f20" stroke-width="0.1">14</text><path d="M334.5,156.28 H338" stroke="#666" stroke-width="0.8"/><text x="331.40" y="158.98" font-size="7.5" text-anchor="end" stroke="#231f20" stroke-width="0.1">16</text><path d="M334.5,145.39 H338" stroke="#666" stroke-width="0.8"/><text x="331.40" y="148.09" font-size="7.5" text-anchor="end" stroke="#231f20" stroke-width="0.1">18</text><path d="M334.5,134.50 H338" stroke="#666" stroke-width="0.8"/><text x="331.40" y="137.20" font-size="7.5" text-anchor="end" stroke="#231f20" stroke-width="0.1">20</text><text x="316.80" y="189.00" font-size="7.6" text-anchor="middle" stroke="#231f20" stroke-width="0.1" transform="rotate(-90 316.8 189)">Time with new object (s)</text><path d="M352,123.8 H424.8" stroke="#6e6e6e" stroke-width="0.9"/><polygon points="383.15,116.55 383.73,118.01 385.29,118.10 384.08,119.10 384.47,120.62 383.15,119.78 381.83,120.62 382.22,119.10 381.01,118.10 382.57,118.01" fill="#231f20"/><polygon points="388.40,116.55 388.98,118.01 390.54,118.10 389.33,119.10 389.72,120.62 388.40,119.78 387.08,120.62 387.47,119.10 386.26,118.10 387.82,118.01" fill="#231f20"/><polygon points="393.65,116.55 394.23,118.01 395.79,118.10 394.58,119.10 394.97,120.62 393.65,119.78 392.33,120.62 392.72,119.10 391.51,118.10 393.07,118.01" fill="#231f20"/><path d="M352,133.3 H403.8" stroke="#231f20" stroke-width="0.9"/><text x="374.10" y="131.10" font-size="7.3" text-anchor="middle" stroke="#231f20" stroke-width="0.1">NS</text><path d="M352,142.2 H376.5" stroke="#4d4d4d" stroke-width="0.9"/><polygon points="359.00,134.95 359.58,136.41 361.14,136.50 359.93,137.50 360.32,139.02 359.00,138.18 357.68,139.02 358.07,137.50 356.86,136.50 358.42,136.41" fill="#231f20"/><polygon points="364.25,134.95 364.83,136.41 366.39,136.50 365.18,137.50 365.57,139.02 364.25,138.18 362.93,139.02 363.32,137.50 362.11,136.50 363.67,136.41" fill="#231f20"/><polygon points="369.50,134.95 370.08,136.41 371.64,136.50 370.43,137.50 370.82,139.02 369.50,138.18 368.18,139.02 368.57,137.50 367.36,136.50 368.92,136.41" fill="#231f20"/><path d="M380,150.2 H403.3" stroke="#4d4d4d" stroke-width="0.9"/><polygon points="386.40,142.95 386.98,144.41 388.54,144.50 387.33,145.50 387.72,147.02 386.40,146.18 385.08,147.02 385.47,145.50 384.26,144.50 385.82,144.41" fill="#231f20"/><polygon points="391.65,142.95 392.23,144.41 393.79,144.50 392.58,145.50 392.97,147.02 391.65,146.18 390.33,147.02 390.72,145.50 389.51,144.50 391.07,144.41" fill="#231f20"/><polygon points="396.90,142.95 397.48,144.41 399.04,144.50 397.83,145.50 398.22,147.02 396.90,146.18 395.58,147.02 395.97,145.50 394.76,144.50 396.32,144.41" fill="#231f20"/><path d="M403.8,146.4 H428.8" stroke="#4d4d4d" stroke-width="0.9"/><polygon points="411.05,139.15 411.63,140.61 413.19,140.70 411.98,141.70 412.37,143.22 411.05,142.38 409.73,143.22 410.12,141.70 408.91,140.70 410.47,140.61" fill="#231f20"/><polygon points="416.30,139.15 416.88,140.61 418.44,140.70 417.23,141.70 417.62,143.22 416.30,142.38 414.98,143.22 415.37,141.70 414.16,140.70 415.72,140.61" fill="#231f20"/><polygon points="421.55,139.15 422.13,140.61 423.69,140.70 422.48,141.70 422.87,143.22 421.55,142.38 420.23,143.22 420.62,141.70 419.41,140.70 420.97,140.61" fill="#231f20"/><rect x="100.5" y="254.6" width="12.6" height="6.4" fill="#d6d6d6" stroke="#8a8a8a" stroke-width="0.5"/><text x="116.30" y="260.30" font-size="7.75" stroke="#231f20" stroke-width="0.1">Young</text><rect x="158.5" y="254.6" width="12.6" height="6.4" fill="#f77b7b" stroke="#8a8a8a" stroke-width="0.5"/><text x="173.60" y="260.30" font-size="7.75" stroke="#231f20" stroke-width="0.1">Aged</text><rect x="213" y="254.6" width="12.6" height="6.4" fill="url(#hatch)" stroke="#8a8a8a" stroke-width="0.5"/><text x="228.20" y="260.30" font-size="7.75" stroke="#231f20" stroke-width="0.1">yFMTiAged</text><rect x="308" y="254.6" width="12.6" height="6.4" fill="url(#check)" stroke="#8a8a8a" stroke-width="0.5"/><text x="323.60" y="260.30" font-size="7.75" stroke="#231f20" stroke-width="0.1">oFMTiAged</text><text x="462.4" y="6.9" font-size="12.8" font-weight="bold" style="font-family:Liberation Serif,serif" fill="#000">e</text><text x="499.70" y="30.90" font-size="7.4" stroke="#231f20" stroke-width="0.1">Cecum (Bray–Curtis)</text><rect x="499.5" y="33.2" width="168.39999999999998" height="179.39999999999998" fill="#ebebeb"/><path d="M516.8,33.2 V212.6" stroke="#fafafa" stroke-width="0.5"/><path d="M558.3,33.2 V212.6" stroke="#fafafa" stroke-width="0.5"/><path d="M600.1,33.2 V212.6" stroke="#fafafa" stroke-width="0.5"/><path d="M641.7,33.2 V212.6" stroke="#fafafa" stroke-width="0.5"/><path d="M499.5,52.3 H667.9" stroke="#fafafa" stroke-width="0.5"/><path d="M499.5,92.5 H667.9" stroke="#fafafa" stroke-width="0.5"/><path d="M499.5,133.2 H667.9" stroke="#fafafa" stroke-width="0.5"/><path d="M499.5,173.8 H667.9" stroke="#fafafa" stroke-width="0.5"/><path d="M537.6,33.2 V212.6" stroke="#fff" stroke-width="1"/><path d="M579.1,33.2 V212.6" stroke="#fff" stroke-width="1"/><path d="M621.1,33.2 V212.6" stroke="#fff" stroke-width="1"/><path d="M662.4,33.2 V212.6" stroke="#fff" stroke-width="1"/><path d="M499.5,72 H667.9" stroke="#fff" stroke-width="1"/><path d="M499.5,113 H667.9" stroke="#fff" stroke-width="1"/><path d="M499.5,153.5 H667.9" stroke="#fff" stroke-width="1"/><path d="M499.5,194.2 H667.9" stroke="#fff" stroke-width="1"/><rect x="499.5" y="33.2" width="168.39999999999998" height="179.39999999999998" fill="none" stroke="#555" stroke-width="0.8"/><path d="M537.6,212.6 V215.2" stroke="#444" stroke-width="0.7"/><path d="M579.1,212.6 V215.2" stroke="#444" stroke-width="0.7"/><path d="M621.1,212.6 V215.2" stroke="#444" stroke-width="0.7"/><path d="M662.4,212.6 V215.2" stroke="#444" stroke-width="0.7"/><path d="M496.9,72 H499.5" stroke="#444" stroke-width="0.7"/><path d="M496.9,113 H499.5" stroke="#444" stroke-width="0.7"/><path d="M496.9,153.5 H499.5" stroke="#444" stroke-width="0.7"/><path d="M496.9,194.2 H499.5" stroke="#444" stroke-width="0.7"/><text x="537.60" y="225.60" font-size="7.2" text-anchor="middle" fill="#4d4d4d" stroke="#4d4d4d" stroke-width="0.1">–0.3</text><text x="579.10" y="225.60" font-size="7.2" text-anchor="middle" fill="#4d4d4d" stroke="#4d4d4d" stroke-width="0.1">0</text><text x="621.10" y="225.60" font-size="7.2" text-anchor="middle" fill="#4d4d4d" stroke="#4d4d4d" stroke-width="0.1">0.3</text><text x="662.40" y="225.60" font-size="7.2" text-anchor="middle" fill="#4d4d4d" stroke="#4d4d4d" stroke-width="0.1">0.6</text><text x="494.80" y="74.60" font-size="7.2" text-anchor="end" fill="#4d4d4d" stroke="#4d4d4d" stroke-width="0.1">0.25</text><text x="494.80" y="115.60" font-size="7.2" text-anchor="end" fill="#4d4d4d" stroke="#4d4d4d" stroke-width="0.1">0</text><text x="494.80" y="156.10" font-size="7.2" text-anchor="end" fill="#4d4d4d" stroke="#4d4d4d" stroke-width="0.1">–0.25</text><text x="494.80" y="196.80" font-size="7.2" text-anchor="end" fill="#4d4d4d" stroke="#4d4d4d" stroke-width="0.1">–0.50</text><text x="583.70" y="238.40" font-size="7.4" text-anchor="middle" stroke="#231f20" stroke-width="0.1">NMDS1</text><text x="469.30" y="122.90" font-size="7.4" text-anchor="middle" stroke="#231f20" stroke-width="0.1" transform="rotate(-90 469.3 122.9)">NMDS2</text><ellipse cx="532.3" cy="117.1" rx="25" ry="23.3" transform="rotate(-10 532.3 117.1)" fill="none" stroke="#f8766d" stroke-width="0.8"/><ellipse cx="557.4" cy="82.3" rx="14.6" ry="41" transform="rotate(-2 557.4 82.3)" fill="none" stroke="#00bfc4" stroke-width="0.8"/><ellipse cx="635.3" cy="86.1" rx="18.6" ry="31.2" transform="rotate(-12 635.3 86.1)" fill="none" stroke="#c77cff" stroke-width="0.8"/><ellipse cx="600.8" cy="156.6" rx="67" ry="38.2" transform="rotate(-33 600.8 156.6)" fill="none" stroke="#7cae00" stroke-width="0.8"/><circle cx="519.4" cy="108" r="2.2" fill="#f8766d"/><circle cx="522.9" cy="113.6" r="2.2" fill="#f8766d"/><circle cx="530" cy="113" r="2.2" fill="#f8766d"/><circle cx="539.7" cy="109.6" r="2.2" fill="#f8766d"/><circle cx="538.9" cy="117.8" r="2.2" fill="#f8766d"/><circle cx="544.1" cy="118.3" r="2.2" fill="#f8766d"/><circle cx="533.9" cy="129.1" r="2.2" fill="#f8766d"/><circle cx="523.9" cy="132.7" r="2.2" fill="#f8766d"/><circle cx="558.8" cy="58.4" r="2.2" fill="#00bfc4"/><circle cx="553.9" cy="64.9" r="2.2" fill="#00bfc4"/><circle cx="565.4" cy="76.5" r="2.2" fill="#00bfc4"/><circle cx="553.6" cy="80.7" r="2.2" fill="#00bfc4"/><circle cx="563" cy="88.3" r="2.2" fill="#00bfc4"/><circle cx="550.4" cy="89.9" r="2.2" fill="#00bfc4"/><circle cx="556.2" cy="93.1" r="2.2" fill="#00bfc4"/><circle cx="560.2" cy="103" r="2.2" fill="#00bfc4"/><circle cx="624.5" cy="73.1" r="2.2" fill="#c77cff"/><circle cx="634.8" cy="78.1" r="2.2" fill="#c77cff"/><circle cx="632.9" cy="83.9" r="2.2" fill="#c77cff"/><circle cx="643.7" cy="84.9" r="2.2" fill="#c77cff"/><circle cx="641.9" cy="88.6" r="2.2" fill="#c77cff"/><circle cx="628.5" cy="94.9" r="2.2" fill="#c77cff"/><circle cx="639" cy="108.8" r="2.2" fill="#c77cff"/><circle cx="598" cy="143.8" r="2.2" fill="#7cae00"/><circle cx="607.2" cy="139.6" r="2.2" fill="#7cae00"/><circle cx="606.4" cy="151.6" r="2.2" fill="#7cae00"/><circle cx="613.2" cy="150.6" r="2.2" fill="#7cae00"/><circle cx="623.7" cy="153.2" r="2.2" fill="#7cae00"/><circle cx="568.3" cy="172.4" r="2.2" fill="#7cae00"/><circle cx="561.2" cy="185.3" r="2.2" fill="#7cae00"/><circle cx="612.7" cy="193.4" r="2.2" fill="#7cae00"/><circle cx="490.5" cy="255.6" r="2.4" fill="#f8766d"/><text x="498.90" y="258.80" font-size="7.8" stroke="#231f20" stroke-width="0.1">Young</text><circle cx="531.6" cy="255.6" r="2.4" fill="#7cae00"/><text x="539.70" y="258.80" font-size="7.8" stroke="#231f20" stroke-width="0.1">Aged</text><circle cx="568.4" cy="255.6" r="2.4" fill="#00bfc4"/><text x="576.70" y="258.80" font-size="7.8" stroke="#231f20" stroke-width="0.1">yFMTiAged</text><circle cx="629.4" cy="255.6" r="2.4" fill="#c77cff"/><text x="637.90" y="258.80" font-size="7.8" stroke="#231f20" stroke-width="0.1">oFMTiAged</text><text x="-0.40" y="279.40" font-size="12" fill="#000" font-weight="bold">f</text><rect x="41.5" y="279.4" width="336" height="2.4" fill="#ececec"/><rect x="43.20" y="281.60" width="9.55" height="7.50" fill="#4289c2"/><rect x="43.20" y="288.80" width="9.55" height="16.10" fill="#2474b7"/><rect x="43.20" y="304.60" width="9.55" height="3.90" fill="#2f82ac"/><rect x="43.20" y="308.20" width="9.55" height="34.90" fill="#a7d984"/><rect x="43.20" y="342.80" width="9.55" height="7.50" fill="#8ccc6d"/><rect x="43.20" y="350.00" width="9.55" height="5.30" fill="#6cbb58"/><rect x="43.20" y="355.00" width="9.55" height="2.50" fill="#48a53f"/><rect x="43.20" y="357.20" width="9.55" height="39.10" fill="#a89a6d"/><rect x="43.20" y="396.00" width="9.55" height="3.80" fill="#f06c6c"/><rect x="43.20" y="399.50" width="9.55" height="10.60" fill="#e3262a"/><rect x="43.20" y="409.80" width="9.55" height="3.80" fill="#fdb060"/><rect x="43.20" y="413.30" width="9.55" height="8.90" fill="#ff8000"/><rect x="43.20" y="421.90" width="9.55" height="5.40" fill="#ec905a"/><rect x="43.20" y="427.00" width="9.55" height="4.70" fill="#d9a6a0"/><rect x="43.20" y="431.40" width="9.55" height="5.50" fill="#bb9fd0"/><rect x="43.20" y="436.60" width="9.55" height="5.40" fill="#6c3fa0"/><rect x="43.20" y="441.70" width="9.55" height="5.50" fill="#ebe190"/><rect x="43.20" y="446.90" width="9.55" height="2.90" fill="#c67739"/><rect x="43.20" y="449.50" width="9.55" height="102.90" fill="#aaaaaa"/><path d="M47.98,552.4 V555.6" stroke="#555" stroke-width="0.7"/><rect x="53.93" y="281.60" width="9.55" height="3.20" fill="#9cc7e2"/><rect x="53.93" y="284.50" width="9.55" height="3.90" fill="#2474b7"/><rect x="53.93" y="288.10" width="9.55" height="43.50" fill="#a7d984"/><rect x="53.93" y="331.30" width="9.55" height="4.60" fill="#6cbb58"/><rect x="53.93" y="335.60" width="9.55" height="1.50" fill="#48a53f"/><rect x="53.93" y="336.80" width="9.55" height="58.30" fill="#a89a6d"/><rect x="53.93" y="394.80" width="9.55" height="4.50" fill="#f06c6c"/><rect x="53.93" y="399.00" width="9.55" height="6.80" fill="#e3262a"/><rect x="53.93" y="405.50" width="9.55" height="5.20" fill="#ff8000"/><rect x="53.93" y="410.40" width="9.55" height="3.30" fill="#fdb060"/><rect x="53.93" y="413.40" width="9.55" height="4.60" fill="#bb9fd0"/><rect x="53.93" y="417.70" width="9.55" height="3.30" fill="#6c3fa0"/><rect x="53.93" y="420.70" width="9.55" height="2.40" fill="#c67739"/><rect x="53.93" y="422.80" width="9.55" height="129.60" fill="#aaaaaa"/><path d="M58.71,552.4 V555.6" stroke="#555" stroke-width="0.7"/><rect x="64.67" y="281.60" width="9.55" height="5.30" fill="#4289c2"/><rect x="64.67" y="286.60" width="9.55" height="9.70" fill="#2474b7"/><rect x="64.67" y="296.00" width="9.55" height="3.20" fill="#2f82ac"/><rect x="64.67" y="298.90" width="9.55" height="2.40" fill="#9dcf90"/><rect x="64.67" y="301.00" width="9.55" height="45.00" fill="#a7d984"/><rect x="64.67" y="345.70" width="9.55" height="7.50" fill="#8ccc6d"/><rect x="64.67" y="352.90" width="9.55" height="5.30" fill="#6cbb58"/><rect x="64.67" y="357.90" width="9.55" height="1.00" fill="#48a53f"/><rect x="64.67" y="358.60" width="9.55" height="36.90" fill="#a89a6d"/><rect x="64.67" y="395.20" width="9.55" height="17.50" fill="#e3262a"/><rect x="64.67" y="412.40" width="9.55" height="8.90" fill="#ff8000"/><rect x="64.67" y="421.00" width="9.55" height="6.30" fill="#ec905a"/><rect x="64.67" y="427.00" width="9.55" height="3.80" fill="#d9a6a0"/><rect x="64.67" y="430.50" width="9.55" height="4.60" fill="#bb9fd0"/><rect x="64.67" y="434.80" width="9.55" height="4.60" fill="#6c3fa0"/><rect x="64.67" y="439.10" width="9.55" height="2.90" fill="#ebe190"/><rect x="64.67" y="441.70" width="9.55" height="5.20" fill="#c67739"/><rect x="64.67" y="446.60" width="9.55" height="105.80" fill="#aaaaaa"/><path d="M69.44,552.4 V555.6" stroke="#555" stroke-width="0.7"/><rect x="75.40" y="281.60" width="9.55" height="7.50" fill="#4289c2"/><rect x="75.40" y="288.80" width="9.55" height="18.30" fill="#2474b7"/><rect x="75.40" y="306.80" width="9.55" height="5.30" fill="#2f82ac"/><rect x="75.40" y="311.80" width="9.55" height="3.90" fill="#9dcf90"/><rect x="75.40" y="315.40" width="9.55" height="49.30" fill="#a7d984"/><rect x="75.40" y="364.40" width="9.55" height="9.70" fill="#8ccc6d"/><rect x="75.40" y="373.80" width="9.55" height="6.00" fill="#6cbb58"/><rect x="75.40" y="379.50" width="9.55" height="2.50" fill="#48a53f"/><rect x="75.40" y="381.70" width="9.55" height="23.30" fill="#a89a6d"/><rect x="75.40" y="404.70" width="9.55" height="3.70" fill="#f06c6c"/><rect x="75.40" y="408.10" width="9.55" height="6.30" fill="#e3262a"/><rect x="75.40" y="414.10" width="9.55" height="5.50" fill="#fdb060"/><rect x="75.40" y="419.30" width="9.55" height="8.00" fill="#ff8000"/><rect x="75.40" y="427.00" width="9.55" height="4.70" fill="#ec905a"/><rect x="75.40" y="431.40" width="9.55" height="4.60" fill="#d9a6a0"/><rect x="75.40" y="435.70" width="9.55" height="7.20" fill="#bb9fd0"/><rect x="75.40" y="442.60" width="9.55" height="5.50" fill="#6c3fa0"/><rect x="75.40" y="447.80" width="9.55" height="5.40" fill="#ebe190"/><rect x="75.40" y="452.90" width="9.55" height="9.00" fill="#c67739"/><rect x="75.40" y="461.60" width="9.55" height="90.80" fill="#aaaaaa"/><path d="M80.17,552.4 V555.6" stroke="#555" stroke-width="0.7"/><rect x="86.13" y="281.60" width="9.55" height="7.50" fill="#4289c2"/><rect x="86.13" y="288.80" width="9.55" height="6.10" fill="#2474b7"/><rect x="86.13" y="294.60" width="9.55" height="3.90" fill="#2f82ac"/><rect x="86.13" y="298.20" width="9.55" height="8.90" fill="#9dcf90"/><rect x="86.13" y="306.80" width="9.55" height="42.10" fill="#a7d984"/><rect x="86.13" y="348.60" width="9.55" height="2.40" fill="#8ccc6d"/><rect x="86.13" y="350.70" width="9.55" height="9.00" fill="#6cbb58"/><rect x="86.13" y="359.40" width="9.55" height="2.10" fill="#48a53f"/><rect x="86.13" y="361.20" width="9.55" height="26.50" fill="#a89a6d"/><rect x="86.13" y="387.40" width="9.55" height="2.50" fill="#f06c6c"/><rect x="86.13" y="389.60" width="9.55" height="8.50" fill="#e3262a"/><rect x="86.13" y="397.80" width="9.55" height="5.50" fill="#ec905a"/><rect x="86.13" y="403.00" width="9.55" height="9.70" fill="#ff8000"/><rect x="86.13" y="412.40" width="9.55" height="7.20" fill="#d9a6a0"/><rect x="86.13" y="419.30" width="9.55" height="4.60" fill="#bb9fd0"/><rect x="86.13" y="423.60" width="9.55" height="6.40" fill="#6c3fa0"/><rect x="86.13" y="429.70" width="9.55" height="6.30" fill="#ebe190"/><rect x="86.13" y="435.70" width="9.55" height="10.60" fill="#c67739"/><rect x="86.13" y="446.00" width="9.55" height="106.40" fill="#aaaaaa"/><path d="M90.91,552.4 V555.6" stroke="#555" stroke-width="0.7"/><rect x="96.87" y="281.60" width="9.55" height="5.30" fill="#4289c2"/><rect x="96.87" y="286.60" width="9.55" height="9.00" fill="#2474b7"/><rect x="96.87" y="295.30" width="9.55" height="43.50" fill="#a7d984"/><rect x="96.87" y="338.50" width="9.55" height="6.80" fill="#8ccc6d"/><rect x="96.87" y="345.00" width="9.55" height="6.70" fill="#6cbb58"/><rect x="96.87" y="351.40" width="9.55" height="4.70" fill="#48a53f"/><rect x="96.87" y="355.80" width="9.55" height="50.90" fill="#a89a6d"/><rect x="96.87" y="406.40" width="9.55" height="2.90" fill="#f06c6c"/><rect x="96.87" y="409.00" width="9.55" height="5.40" fill="#e3262a"/><rect x="96.87" y="414.10" width="9.55" height="2.90" fill="#fdb060"/><rect x="96.87" y="416.70" width="9.55" height="8.90" fill="#ff8000"/><rect x="96.87" y="425.30" width="9.55" height="3.80" fill="#ec905a"/><rect x="96.87" y="428.80" width="9.55" height="4.30" fill="#d9a6a0"/><rect x="96.87" y="432.80" width="9.55" height="4.10" fill="#bb9fd0"/><rect x="96.87" y="436.60" width="9.55" height="3.70" fill="#6c3fa0"/><rect x="96.87" y="440.00" width="9.55" height="2.90" fill="#ebe190"/><rect x="96.87" y="442.60" width="9.55" height="2.90" fill="#c67739"/><rect x="96.87" y="445.20" width="9.55" height="107.20" fill="#aaaaaa"/><path d="M101.64,552.4 V555.6" stroke="#555" stroke-width="0.7"/><rect x="107.60" y="281.60" width="9.55" height="3.90" fill="#9cc7e2"/><rect x="107.60" y="285.20" width="9.55" height="7.50" fill="#4289c2"/><rect x="107.60" y="292.40" width="9.55" height="7.50" fill="#2474b7"/><rect x="107.60" y="299.60" width="9.55" height="2.50" fill="#2f82ac"/><rect x="107.60" y="301.80" width="9.55" height="47.80" fill="#a7d984"/><rect x="107.60" y="349.30" width="9.55" height="7.50" fill="#6cbb58"/><rect x="107.60" y="356.50" width="9.55" height="2.40" fill="#48a53f"/><rect x="107.60" y="358.60" width="9.55" height="28.40" fill="#a89a6d"/><rect x="107.60" y="386.70" width="9.55" height="6.80" fill="#f06c6c"/><rect x="107.60" y="393.20" width="9.55" height="5.30" fill="#e3262a"/><rect x="107.60" y="398.20" width="9.55" height="4.20" fill="#fdb060"/><rect x="107.60" y="402.10" width="9.55" height="12.30" fill="#ff8000"/><rect x="107.60" y="414.10" width="9.55" height="8.10" fill="#ec905a"/><rect x="107.60" y="421.90" width="9.55" height="3.70" fill="#d9a6a0"/><rect x="107.60" y="425.30" width="9.55" height="4.70" fill="#bb9fd0"/><rect x="107.60" y="429.70" width="9.55" height="3.70" fill="#6c3fa0"/><rect x="107.60" y="433.10" width="9.55" height="8.90" fill="#d2bf94"/><rect x="107.60" y="441.70" width="9.55" height="4.10" fill="#ebe190"/><rect x="107.60" y="445.50" width="9.55" height="1.70" fill="#c67739"/><rect x="107.60" y="446.90" width="9.55" height="105.50" fill="#aaaaaa"/><path d="M112.37,552.4 V555.6" stroke="#555" stroke-width="0.7"/><rect x="118.33" y="281.60" width="9.55" height="3.90" fill="#9cc7e2"/><rect x="118.33" y="285.20" width="9.55" height="3.90" fill="#4289c2"/><rect x="118.33" y="288.80" width="9.55" height="14.70" fill="#2474b7"/><rect x="118.33" y="303.20" width="9.55" height="44.20" fill="#a7d984"/><rect x="118.33" y="347.10" width="9.55" height="6.10" fill="#8ccc6d"/><rect x="118.33" y="352.90" width="9.55" height="8.90" fill="#6cbb58"/><rect x="118.33" y="361.50" width="9.55" height="2.90" fill="#48a53f"/><rect x="118.33" y="364.10" width="9.55" height="28.00" fill="#a89a6d"/><rect x="118.33" y="391.80" width="9.55" height="5.40" fill="#e3262a"/><rect x="118.33" y="396.90" width="9.55" height="6.30" fill="#fdb060"/><rect x="118.33" y="402.90" width="9.55" height="10.70" fill="#ff8000"/><rect x="118.33" y="413.30" width="9.55" height="8.00" fill="#ec905a"/><rect x="118.33" y="421.00" width="9.55" height="3.80" fill="#d9a6a0"/><rect x="118.33" y="424.50" width="9.55" height="4.60" fill="#bb9fd0"/><rect x="118.33" y="428.80" width="9.55" height="5.50" fill="#6c3fa0"/><rect x="118.33" y="434.00" width="9.55" height="7.20" fill="#d2bf94"/><rect x="118.33" y="440.90" width="9.55" height="3.70" fill="#ebe190"/><rect x="118.33" y="444.30" width="9.55" height="7.20" fill="#e3b863"/><rect x="118.33" y="451.20" width="9.55" height="3.20" fill="#c67739"/><rect x="118.33" y="454.10" width="9.55" height="98.30" fill="#aaaaaa"/><path d="M123.11,552.4 V555.6" stroke="#555" stroke-width="0.7"/><rect x="129.06" y="281.60" width="9.55" height="3.20" fill="#9cc7e2"/><rect x="129.06" y="284.50" width="9.55" height="17.60" fill="#4289c2"/><rect x="129.06" y="301.80" width="9.55" height="6.00" fill="#2474b7"/><rect x="129.06" y="307.50" width="9.55" height="9.70" fill="#2f82ac"/><rect x="129.06" y="316.90" width="9.55" height="4.60" fill="#9dcf90"/><rect x="129.06" y="321.20" width="9.55" height="26.20" fill="#a7d984"/><rect x="129.06" y="347.10" width="9.55" height="19.00" fill="#8ccc6d"/><rect x="129.06" y="365.80" width="9.55" height="15.50" fill="#6cbb58"/><rect x="129.06" y="381.00" width="9.55" height="2.40" fill="#48a53f"/><rect x="129.06" y="383.10" width="9.55" height="5.40" fill="#7f9a55"/><rect x="129.06" y="388.20" width="9.55" height="8.10" fill="#a89a6d"/><rect x="129.06" y="396.00" width="9.55" height="4.60" fill="#f06c6c"/><rect x="129.06" y="400.30" width="9.55" height="3.80" fill="#fdb060"/><rect x="129.06" y="403.80" width="9.55" height="13.20" fill="#ff8000"/><rect x="129.06" y="416.70" width="9.55" height="10.60" fill="#ec905a"/><rect x="129.06" y="427.00" width="9.55" height="5.50" fill="#d9a6a0"/><rect x="129.06" y="432.20" width="9.55" height="5.50" fill="#bb9fd0"/><rect x="129.06" y="437.40" width="9.55" height="8.90" fill="#6c3fa0"/><rect x="129.06" y="446.00" width="9.55" height="4.60" fill="#ebe190"/><rect x="129.06" y="450.30" width="9.55" height="5.50" fill="#e3b863"/><rect x="129.06" y="455.50" width="9.55" height="7.20" fill="#c67739"/><rect x="129.06" y="462.40" width="9.55" height="90.00" fill="#aaaaaa"/><path d="M133.84,552.4 V555.6" stroke="#555" stroke-width="0.7"/><rect x="139.80" y="281.60" width="9.55" height="17.60" fill="#4289c2"/><rect x="139.80" y="298.90" width="9.55" height="7.50" fill="#2474b7"/><rect x="139.80" y="306.10" width="9.55" height="6.00" fill="#2f82ac"/><rect x="139.80" y="311.80" width="9.55" height="38.50" fill="#a7d984"/><rect x="139.80" y="350.00" width="9.55" height="8.20" fill="#8ccc6d"/><rect x="139.80" y="357.90" width="9.55" height="9.00" fill="#6cbb58"/><rect x="139.80" y="366.60" width="9.55" height="4.60" fill="#48a53f"/><rect x="139.80" y="370.90" width="9.55" height="11.10" fill="#7f9a55"/><rect x="139.80" y="381.70" width="9.55" height="12.00" fill="#a89a6d"/><rect x="139.80" y="393.40" width="9.55" height="3.80" fill="#f06c6c"/><rect x="139.80" y="396.90" width="9.55" height="3.70" fill="#e3262a"/><rect x="139.80" y="400.30" width="9.55" height="5.50" fill="#fdb060"/><rect x="139.80" y="405.50" width="9.55" height="27.00" fill="#ff8000"/><rect x="139.80" y="432.20" width="9.55" height="7.20" fill="#ec905a"/><rect x="139.80" y="439.10" width="9.55" height="4.60" fill="#d9a6a0"/><rect x="139.80" y="443.40" width="9.55" height="5.50" fill="#bb9fd0"/><rect x="139.80" y="448.60" width="9.55" height="7.20" fill="#6c3fa0"/><rect x="139.80" y="455.50" width="9.55" height="2.90" fill="#ebe190"/><rect x="139.80" y="458.10" width="9.55" height="4.60" fill="#e3b863"/><rect x="139.80" y="462.40" width="9.55" height="4.60" fill="#c67739"/><rect x="139.80" y="466.70" width="9.55" height="85.70" fill="#aaaaaa"/><path d="M144.57,552.4 V555.6" stroke="#555" stroke-width="0.7"/><rect x="150.53" y="281.60" width="9.55" height="5.30" fill="#9cc7e2"/><rect x="150.53" y="286.60" width="9.55" height="6.80" fill="#4289c2"/><rect x="150.53" y="293.10" width="9.55" height="8.20" fill="#2474b7"/><rect x="150.53" y="301.00" width="9.55" height="7.50" fill="#2f82ac"/><rect x="150.53" y="308.20" width="9.55" height="2.50" fill="#9dcf90"/><rect x="150.53" y="310.40" width="9.55" height="28.40" fill="#a7d984"/><rect x="150.53" y="338.50" width="9.55" height="16.80" fill="#8ccc6d"/><rect x="150.53" y="355.00" width="9.55" height="11.10" fill="#6cbb58"/><rect x="150.53" y="365.80" width="9.55" height="2.50" fill="#48a53f"/><rect x="150.53" y="368.00" width="9.55" height="5.30" fill="#7f9a55"/><rect x="150.53" y="373.00" width="9.55" height="14.00" fill="#a89a6d"/><rect x="150.53" y="386.70" width="9.55" height="4.10" fill="#f06c6c"/><rect x="150.53" y="390.50" width="9.55" height="3.30" fill="#e3262a"/><rect x="150.53" y="393.50" width="9.55" height="3.70" fill="#ec905a"/><rect x="150.53" y="396.90" width="9.55" height="5.50" fill="#fdb060"/><rect x="150.53" y="402.10" width="9.55" height="31.30" fill="#ff8000"/><rect x="150.53" y="433.10" width="9.55" height="5.50" fill="#ec905a"/><rect x="150.53" y="438.30" width="9.55" height="5.40" fill="#d9a6a0"/><rect x="150.53" y="443.40" width="9.55" height="5.50" fill="#bb9fd0"/><rect x="150.53" y="448.60" width="9.55" height="6.40" fill="#6c3fa0"/><rect x="150.53" y="454.70" width="9.55" height="2.80" fill="#ebe190"/><rect x="150.53" y="457.20" width="9.55" height="10.70" fill="#e3b863"/><rect x="150.53" y="467.60" width="9.55" height="6.80" fill="#c67739"/><rect x="150.53" y="474.10" width="9.55" height="78.30" fill="#aaaaaa"/><path d="M155.31,552.4 V555.6" stroke="#555" stroke-width="0.7"/><rect x="161.26" y="281.60" width="9.55" height="16.90" fill="#4289c2"/><rect x="161.26" y="298.20" width="9.55" height="3.10" fill="#2474b7"/><rect x="161.26" y="301.00" width="9.55" height="3.90" fill="#2f82ac"/><rect x="161.26" y="304.60" width="9.55" height="4.70" fill="#9dcf90"/><rect x="161.26" y="309.00" width="9.55" height="22.60" fill="#a7d984"/><rect x="161.26" y="331.30" width="9.55" height="7.50" fill="#8ccc6d"/><rect x="161.26" y="338.50" width="9.55" height="8.90" fill="#6cbb58"/><rect x="161.26" y="347.10" width="9.55" height="3.90" fill="#48a53f"/><rect x="161.26" y="350.70" width="9.55" height="3.20" fill="#7f9a55"/><rect x="161.26" y="353.60" width="9.55" height="13.30" fill="#a89a6d"/><rect x="161.26" y="366.60" width="9.55" height="4.60" fill="#f06c6c"/><rect x="161.26" y="370.90" width="9.55" height="3.20" fill="#e3262a"/><rect x="161.26" y="373.80" width="9.55" height="5.30" fill="#ec905a"/><rect x="161.26" y="378.80" width="9.55" height="4.60" fill="#fdb060"/><rect x="161.26" y="383.10" width="9.55" height="21.20" fill="#ff8000"/><rect x="161.26" y="404.00" width="9.55" height="7.00" fill="#ec905a"/><rect x="161.26" y="410.70" width="9.55" height="8.90" fill="#d9a6a0"/><rect x="161.26" y="419.30" width="9.55" height="2.90" fill="#bb9fd0"/><rect x="161.26" y="421.90" width="9.55" height="5.40" fill="#6c3fa0"/><rect x="161.26" y="427.00" width="9.55" height="5.50" fill="#ebe190"/><rect x="161.26" y="432.20" width="9.55" height="8.10" fill="#e3b863"/><rect x="161.26" y="440.00" width="9.55" height="4.10" fill="#c67739"/><rect x="161.26" y="443.80" width="9.55" height="108.60" fill="#aaaaaa"/><path d="M166.04,552.4 V555.6" stroke="#555" stroke-width="0.7"/><rect x="172.00" y="281.60" width="9.55" height="2.50" fill="#9cc7e2"/><rect x="172.00" y="283.80" width="9.55" height="8.90" fill="#4289c2"/><rect x="172.00" y="292.40" width="9.55" height="34.90" fill="#2474b7"/><rect x="172.00" y="327.00" width="9.55" height="34.10" fill="#a7d984"/><rect x="172.00" y="360.80" width="9.55" height="16.90" fill="#6cbb58"/><rect x="172.00" y="377.40" width="9.55" height="4.60" fill="#48a53f"/><rect x="172.00" y="381.70" width="9.55" height="9.60" fill="#a89a6d"/><rect x="172.00" y="391.00" width="9.55" height="4.50" fill="#f06c6c"/><rect x="172.00" y="395.20" width="9.55" height="3.70" fill="#e3262a"/><rect x="172.00" y="398.60" width="9.55" height="5.50" fill="#fdb060"/><rect x="172.00" y="403.80" width="9.55" height="6.30" fill="#ff8000"/><rect x="172.00" y="409.80" width="9.55" height="11.50" fill="#ec905a"/><rect x="172.00" y="421.00" width="9.55" height="6.30" fill="#d9a6a0"/><rect x="172.00" y="427.00" width="9.55" height="6.40" fill="#bb9fd0"/><rect x="172.00" y="433.10" width="9.55" height="4.60" fill="#6c3fa0"/><rect x="172.00" y="437.40" width="9.55" height="2.90" fill="#ebe190"/><rect x="172.00" y="440.00" width="9.55" height="2.90" fill="#c67739"/><rect x="172.00" y="442.60" width="9.55" height="109.80" fill="#aaaaaa"/><path d="M176.77,552.4 V555.6" stroke="#555" stroke-width="0.7"/><rect x="182.73" y="281.60" width="9.55" height="3.90" fill="#9cc7e2"/><rect x="182.73" y="285.20" width="9.55" height="7.50" fill="#4289c2"/><rect x="182.73" y="292.40" width="9.55" height="9.70" fill="#2474b7"/><rect x="182.73" y="301.80" width="9.55" height="1.70" fill="#2f82ac"/><rect x="182.73" y="303.20" width="9.55" height="3.20" fill="#9dcf90"/><rect x="182.73" y="306.10" width="9.55" height="35.60" fill="#a7d984"/><rect x="182.73" y="341.40" width="9.55" height="8.20" fill="#6cbb58"/><rect x="182.73" y="349.30" width="9.55" height="3.90" fill="#48a53f"/><rect x="182.73" y="352.90" width="9.55" height="43.40" fill="#a89a6d"/><rect x="182.73" y="396.00" width="9.55" height="3.80" fill="#f06c6c"/><rect x="182.73" y="399.50" width="9.55" height="3.70" fill="#e3262a"/><rect x="182.73" y="402.90" width="9.55" height="6.40" fill="#fdb060"/><rect x="182.73" y="409.00" width="9.55" height="6.30" fill="#ff8000"/><rect x="182.73" y="415.00" width="9.55" height="11.50" fill="#ec905a"/><rect x="182.73" y="426.20" width="9.55" height="11.50" fill="#d9a6a0"/><rect x="182.73" y="437.40" width="9.55" height="4.60" fill="#bb9fd0"/><rect x="182.73" y="441.70" width="9.55" height="4.60" fill="#6c3fa0"/><rect x="182.73" y="446.00" width="9.55" height="2.10" fill="#d2bf94"/><rect x="182.73" y="447.80" width="9.55" height="1.60" fill="#c67739"/><rect x="182.73" y="449.10" width="9.55" height="103.30" fill="#aaaaaa"/><path d="M187.50,552.4 V555.6" stroke="#555" stroke-width="0.7"/><rect x="193.46" y="281.60" width="9.55" height="8.20" fill="#9cc7e2"/><rect x="193.46" y="289.50" width="9.55" height="9.70" fill="#4289c2"/><rect x="193.46" y="298.90" width="9.55" height="25.50" fill="#2474b7"/><rect x="193.46" y="324.10" width="9.55" height="8.90" fill="#2f82ac"/><rect x="193.46" y="332.70" width="9.55" height="5.40" fill="#9dcf90"/><rect x="193.46" y="337.80" width="9.55" height="41.30" fill="#a7d984"/><rect x="193.46" y="378.80" width="9.55" height="9.70" fill="#6cbb58"/><rect x="193.46" y="388.20" width="9.55" height="3.10" fill="#48a53f"/><rect x="193.46" y="391.00" width="9.55" height="23.40" fill="#a89a6d"/><rect x="193.46" y="414.10" width="9.55" height="5.50" fill="#f06c6c"/><rect x="193.46" y="419.30" width="9.55" height="3.80" fill="#e3262a"/><rect x="193.46" y="422.80" width="9.55" height="9.70" fill="#fdb060"/><rect x="193.46" y="432.20" width="9.55" height="6.40" fill="#ff8000"/><rect x="193.46" y="438.30" width="9.55" height="5.40" fill="#ec905a"/><rect x="193.46" y="443.40" width="9.55" height="11.60" fill="#d9a6a0"/><rect x="193.46" y="454.70" width="9.55" height="4.60" fill="#bb9fd0"/><rect x="193.46" y="459.00" width="9.55" height="4.60" fill="#6c3fa0"/><rect x="193.46" y="463.30" width="9.55" height="5.40" fill="#c67739"/><rect x="193.46" y="468.40" width="9.55" height="84.00" fill="#aaaaaa"/><path d="M198.24,552.4 V555.6" stroke="#555" stroke-width="0.7"/><rect x="204.19" y="281.60" width="9.55" height="12.50" fill="#4289c2"/><rect x="204.19" y="293.80" width="9.55" height="12.60" fill="#2474b7"/><rect x="204.19" y="306.10" width="9.55" height="8.90" fill="#2f82ac"/><rect x="204.19" y="314.70" width="9.55" height="1.80" fill="#9dcf90"/><rect x="204.19" y="316.20" width="9.55" height="42.70" fill="#a7d984"/><rect x="204.19" y="358.60" width="9.55" height="20.50" fill="#8ccc6d"/><rect x="204.19" y="378.80" width="9.55" height="8.90" fill="#6cbb58"/><rect x="204.19" y="387.40" width="9.55" height="3.90" fill="#48a53f"/><rect x="204.19" y="391.00" width="9.55" height="9.00" fill="#7f9a55"/><rect x="204.19" y="399.70" width="9.55" height="11.30" fill="#a89a6d"/><rect x="204.19" y="410.70" width="9.55" height="5.50" fill="#f06c6c"/><rect x="204.19" y="415.90" width="9.55" height="5.40" fill="#e3262a"/><rect x="204.19" y="421.00" width="9.55" height="9.80" fill="#fdb060"/><rect x="204.19" y="430.50" width="9.55" height="8.90" fill="#ff8000"/><rect x="204.19" y="439.10" width="9.55" height="3.80" fill="#ec905a"/><rect x="204.19" y="442.60" width="9.55" height="11.50" fill="#bb9fd0"/><rect x="204.19" y="453.80" width="9.55" height="7.20" fill="#6c3fa0"/><rect x="204.19" y="460.70" width="9.55" height="3.70" fill="#8e6e96"/><rect x="204.19" y="464.10" width="9.55" height="3.80" fill="#ebe190"/><rect x="204.19" y="467.60" width="9.55" height="4.60" fill="#c67739"/><rect x="204.19" y="471.90" width="9.55" height="80.50" fill="#aaaaaa"/><path d="M208.97,552.4 V555.6" stroke="#555" stroke-width="0.7"/><rect x="214.93" y="281.60" width="9.55" height="1.70" fill="#9cc7e2"/><rect x="214.93" y="283.00" width="9.55" height="8.30" fill="#4289c2"/><rect x="214.93" y="291.00" width="9.55" height="46.30" fill="#2474b7"/><rect x="214.93" y="337.00" width="9.55" height="3.20" fill="#2f82ac"/><rect x="214.93" y="339.90" width="9.55" height="5.40" fill="#9dcf90"/><rect x="214.93" y="345.00" width="9.55" height="29.10" fill="#a7d984"/><rect x="214.93" y="373.80" width="9.55" height="25.50" fill="#8ccc6d"/><rect x="214.93" y="399.00" width="9.55" height="6.00" fill="#6cbb58"/><rect x="214.93" y="404.70" width="9.55" height="4.60" fill="#7f9a55"/><rect x="214.93" y="409.00" width="9.55" height="8.00" fill="#a89a6d"/><rect x="214.93" y="416.70" width="9.55" height="1.20" fill="#f06c6c"/><rect x="214.93" y="417.60" width="9.55" height="2.90" fill="#e3262a"/><rect x="214.93" y="420.20" width="9.55" height="3.70" fill="#ec905a"/><rect x="214.93" y="423.60" width="9.55" height="18.40" fill="#ff8000"/><rect x="214.93" y="441.70" width="9.55" height="5.50" fill="#ec905a"/><rect x="214.93" y="446.90" width="9.55" height="4.60" fill="#d9a6a0"/><rect x="214.93" y="451.20" width="9.55" height="2.90" fill="#bb9fd0"/><rect x="214.93" y="453.80" width="9.55" height="3.70" fill="#6c3fa0"/><rect x="214.93" y="457.20" width="9.55" height="5.50" fill="#ebe190"/><rect x="214.93" y="462.40" width="9.55" height="15.80" fill="#e3b863"/><rect x="214.93" y="477.90" width="9.55" height="3.80" fill="#c67739"/><rect x="214.93" y="481.40" width="9.55" height="71.00" fill="#aaaaaa"/><path d="M219.70,552.4 V555.6" stroke="#555" stroke-width="0.7"/><rect x="225.66" y="281.60" width="9.55" height="1.70" fill="#9cc7e2"/><rect x="225.66" y="283.00" width="9.55" height="6.10" fill="#4289c2"/><rect x="225.66" y="288.80" width="9.55" height="42.80" fill="#2474b7"/><rect x="225.66" y="331.30" width="9.55" height="3.90" fill="#2f82ac"/><rect x="225.66" y="334.90" width="9.55" height="2.40" fill="#9dcf90"/><rect x="225.66" y="337.00" width="9.55" height="27.70" fill="#a7d984"/><rect x="225.66" y="364.40" width="9.55" height="32.70" fill="#8ccc6d"/><rect x="225.66" y="396.80" width="9.55" height="9.00" fill="#6cbb58"/><rect x="225.66" y="405.50" width="9.55" height="4.60" fill="#7f9a55"/><rect x="225.66" y="409.80" width="9.55" height="9.80" fill="#a89a6d"/><rect x="225.66" y="419.30" width="9.55" height="2.90" fill="#e3262a"/><rect x="225.66" y="421.90" width="9.55" height="3.70" fill="#ec905a"/><rect x="225.66" y="425.30" width="9.55" height="13.30" fill="#ff8000"/><rect x="225.66" y="438.30" width="9.55" height="10.60" fill="#ec905a"/><rect x="225.66" y="448.60" width="9.55" height="3.80" fill="#d9a6a0"/><rect x="225.66" y="452.10" width="9.55" height="3.70" fill="#bb9fd0"/><rect x="225.66" y="455.50" width="9.55" height="5.50" fill="#6c3fa0"/><rect x="225.66" y="460.70" width="9.55" height="5.50" fill="#d2bf94"/><rect x="225.66" y="465.90" width="9.55" height="8.00" fill="#ebe190"/><rect x="225.66" y="473.60" width="9.55" height="2.90" fill="#c67739"/><rect x="225.66" y="476.20" width="9.55" height="76.20" fill="#aaaaaa"/><path d="M230.44,552.4 V555.6" stroke="#555" stroke-width="0.7"/><rect x="236.39" y="281.60" width="9.55" height="1.70" fill="#9cc7e2"/><rect x="236.39" y="283.00" width="9.55" height="7.50" fill="#4289c2"/><rect x="236.39" y="290.20" width="9.55" height="59.40" fill="#2474b7"/><rect x="236.39" y="349.30" width="9.55" height="3.90" fill="#2f82ac"/><rect x="236.39" y="352.90" width="9.55" height="5.30" fill="#9dcf90"/><rect x="236.39" y="357.90" width="9.55" height="33.40" fill="#a7d984"/><rect x="236.39" y="391.00" width="9.55" height="26.00" fill="#8ccc6d"/><rect x="236.39" y="416.70" width="9.55" height="5.50" fill="#6cbb58"/><rect x="236.39" y="421.90" width="9.55" height="8.90" fill="#7f9a55"/><rect x="236.39" y="430.50" width="9.55" height="10.70" fill="#a89a6d"/><rect x="236.39" y="440.90" width="9.55" height="5.40" fill="#e3262a"/><rect x="236.39" y="446.00" width="9.55" height="2.10" fill="#fdb060"/><rect x="236.39" y="447.80" width="9.55" height="19.20" fill="#ff8000"/><rect x="236.39" y="466.70" width="9.55" height="4.60" fill="#d9a6a0"/><rect x="236.39" y="471.00" width="9.55" height="3.80" fill="#bb9fd0"/><rect x="236.39" y="474.50" width="9.55" height="3.70" fill="#6c3fa0"/><rect x="236.39" y="477.90" width="9.55" height="5.50" fill="#ebe190"/><rect x="236.39" y="483.10" width="9.55" height="4.10" fill="#c67739"/><rect x="236.39" y="486.90" width="9.55" height="65.50" fill="#aaaaaa"/><path d="M241.17,552.4 V555.6" stroke="#555" stroke-width="0.7"/><rect x="247.13" y="281.60" width="9.55" height="1.70" fill="#9cc7e2"/><rect x="247.13" y="283.00" width="9.55" height="4.70" fill="#4289c2"/><rect x="247.13" y="287.40" width="9.55" height="60.70" fill="#2474b7"/><rect x="247.13" y="347.80" width="9.55" height="4.70" fill="#2f82ac"/><rect x="247.13" y="352.20" width="9.55" height="4.60" fill="#9dcf90"/><rect x="247.13" y="356.50" width="9.55" height="24.80" fill="#a7d984"/><rect x="247.13" y="381.00" width="9.55" height="34.30" fill="#8ccc6d"/><rect x="247.13" y="415.00" width="9.55" height="6.30" fill="#6cbb58"/><rect x="247.13" y="421.00" width="9.55" height="6.30" fill="#7f9a55"/><rect x="247.13" y="427.00" width="9.55" height="9.90" fill="#a89a6d"/><rect x="247.13" y="436.60" width="9.55" height="2.80" fill="#e3262a"/><rect x="247.13" y="439.10" width="9.55" height="24.50" fill="#ff8000"/><rect x="247.13" y="463.30" width="9.55" height="3.70" fill="#ec905a"/><rect x="247.13" y="466.70" width="9.55" height="3.80" fill="#d9a6a0"/><rect x="247.13" y="470.20" width="9.55" height="4.60" fill="#6c3fa0"/><rect x="247.13" y="474.50" width="9.55" height="7.20" fill="#ebe190"/><rect x="247.13" y="481.40" width="9.55" height="2.90" fill="#c67739"/><rect x="247.13" y="484.00" width="9.55" height="68.40" fill="#aaaaaa"/><path d="M251.90,552.4 V555.6" stroke="#555" stroke-width="0.7"/><rect x="257.86" y="281.60" width="9.55" height="1.70" fill="#9cc7e2"/><rect x="257.86" y="283.00" width="9.55" height="8.30" fill="#4289c2"/><rect x="257.86" y="291.00" width="9.55" height="57.90" fill="#2474b7"/><rect x="257.86" y="348.60" width="9.55" height="3.90" fill="#2f82ac"/><rect x="257.86" y="352.20" width="9.55" height="1.70" fill="#9dcf90"/><rect x="257.86" y="353.60" width="9.55" height="32.70" fill="#a7d984"/><rect x="257.86" y="386.00" width="9.55" height="34.50" fill="#8ccc6d"/><rect x="257.86" y="420.20" width="9.55" height="6.30" fill="#6cbb58"/><rect x="257.86" y="426.20" width="9.55" height="21.90" fill="#a89a6d"/><rect x="257.86" y="447.80" width="9.55" height="3.70" fill="#f06c6c"/><rect x="257.86" y="451.20" width="9.55" height="12.40" fill="#ff8000"/><rect x="257.86" y="463.30" width="9.55" height="6.30" fill="#ec905a"/><rect x="257.86" y="469.30" width="9.55" height="4.60" fill="#d9a6a0"/><rect x="257.86" y="473.60" width="9.55" height="6.40" fill="#bb9fd0"/><rect x="257.86" y="479.70" width="9.55" height="3.70" fill="#6c3fa0"/><rect x="257.86" y="483.10" width="9.55" height="1.20" fill="#ebe190"/><rect x="257.86" y="484.00" width="9.55" height="2.00" fill="#c67739"/><rect x="257.86" y="485.70" width="9.55" height="66.70" fill="#aaaaaa"/><path d="M262.63,552.4 V555.6" stroke="#555" stroke-width="0.7"/><rect x="268.59" y="281.60" width="9.55" height="1.70" fill="#9cc7e2"/><rect x="268.59" y="283.00" width="9.55" height="6.80" fill="#4289c2"/><rect x="268.59" y="289.50" width="9.55" height="68.70" fill="#2474b7"/><rect x="268.59" y="357.90" width="9.55" height="26.20" fill="#a7d984"/><rect x="268.59" y="383.80" width="9.55" height="45.30" fill="#8ccc6d"/><rect x="268.59" y="428.80" width="9.55" height="8.10" fill="#6cbb58"/><rect x="268.59" y="436.60" width="9.55" height="8.90" fill="#a89a6d"/><rect x="268.59" y="445.20" width="9.55" height="3.70" fill="#e3262a"/><rect x="268.59" y="448.60" width="9.55" height="10.70" fill="#ff8000"/><rect x="268.59" y="459.00" width="9.55" height="5.40" fill="#d9a6a0"/><rect x="268.59" y="464.10" width="9.55" height="6.40" fill="#bb9fd0"/><rect x="268.59" y="470.20" width="9.55" height="2.00" fill="#6c3fa0"/><rect x="268.59" y="471.90" width="9.55" height="5.50" fill="#8e6e96"/><rect x="268.59" y="477.10" width="9.55" height="2.00" fill="#bb9fd0"/><rect x="268.59" y="478.80" width="9.55" height="3.70" fill="#ebe190"/><rect x="268.59" y="482.20" width="9.55" height="2.90" fill="#c67739"/><rect x="268.59" y="484.80" width="9.55" height="67.60" fill="#aaaaaa"/><path d="M273.37,552.4 V555.6" stroke="#555" stroke-width="0.7"/><rect x="279.33" y="281.60" width="9.55" height="1.70" fill="#9cc7e2"/><rect x="279.33" y="283.00" width="9.55" height="4.70" fill="#4289c2"/><rect x="279.33" y="287.40" width="9.55" height="72.30" fill="#2474b7"/><rect x="279.33" y="359.40" width="9.55" height="3.10" fill="#2f82ac"/><rect x="279.33" y="362.20" width="9.55" height="29.90" fill="#a7d984"/><rect x="279.33" y="391.80" width="9.55" height="42.50" fill="#8ccc6d"/><rect x="279.33" y="434.00" width="9.55" height="4.60" fill="#6cbb58"/><rect x="279.33" y="438.30" width="9.55" height="14.10" fill="#a89a6d"/><rect x="279.33" y="452.10" width="9.55" height="4.60" fill="#e3262a"/><rect x="279.33" y="456.40" width="9.55" height="17.50" fill="#ff8000"/><rect x="279.33" y="473.60" width="9.55" height="2.90" fill="#ec905a"/><rect x="279.33" y="476.20" width="9.55" height="5.50" fill="#bb9fd0"/><rect x="279.33" y="481.40" width="9.55" height="4.60" fill="#6c3fa0"/><rect x="279.33" y="485.70" width="9.55" height="3.70" fill="#ebe190"/><rect x="279.33" y="489.10" width="9.55" height="2.10" fill="#c67739"/><rect x="279.33" y="490.90" width="9.55" height="61.50" fill="#aaaaaa"/><path d="M284.10,552.4 V555.6" stroke="#555" stroke-width="0.7"/><rect x="290.06" y="281.60" width="9.55" height="1.70" fill="#9cc7e2"/><rect x="290.06" y="283.00" width="9.55" height="8.30" fill="#4289c2"/><rect x="290.06" y="291.00" width="9.55" height="37.70" fill="#2474b7"/><rect x="290.06" y="328.40" width="9.55" height="3.20" fill="#2f82ac"/><rect x="290.06" y="331.30" width="9.55" height="4.60" fill="#9dcf90"/><rect x="290.06" y="335.60" width="9.55" height="24.80" fill="#a7d984"/><rect x="290.06" y="360.10" width="9.55" height="23.30" fill="#8ccc6d"/><rect x="290.06" y="383.10" width="9.55" height="6.80" fill="#6cbb58"/><rect x="290.06" y="389.60" width="9.55" height="3.20" fill="#48a53f"/><rect x="290.06" y="392.50" width="9.55" height="24.50" fill="#a89a6d"/><rect x="290.06" y="416.70" width="9.55" height="3.80" fill="#d9a6a0"/><rect x="290.06" y="420.20" width="9.55" height="3.70" fill="#e3262a"/><rect x="290.06" y="423.60" width="9.55" height="2.00" fill="#ec905a"/><rect x="290.06" y="425.30" width="9.55" height="5.50" fill="#ff8000"/><rect x="290.06" y="430.50" width="9.55" height="6.40" fill="#ec905a"/><rect x="290.06" y="436.60" width="9.55" height="3.70" fill="#d9a6a0"/><rect x="290.06" y="440.00" width="9.55" height="3.70" fill="#bb9fd0"/><rect x="290.06" y="443.40" width="9.55" height="2.90" fill="#6c3fa0"/><rect x="290.06" y="446.00" width="9.55" height="3.80" fill="#ebe190"/><rect x="290.06" y="449.50" width="9.55" height="8.90" fill="#c67739"/><rect x="290.06" y="458.10" width="9.55" height="94.30" fill="#aaaaaa"/><path d="M294.83,552.4 V555.6" stroke="#555" stroke-width="0.7"/><rect x="300.79" y="281.60" width="9.55" height="9.70" fill="#4289c2"/><rect x="300.79" y="291.00" width="9.55" height="6.00" fill="#2474b7"/><rect x="300.79" y="296.70" width="9.55" height="6.80" fill="#2f82ac"/><rect x="300.79" y="303.20" width="9.55" height="2.50" fill="#9dcf90"/><rect x="300.79" y="305.40" width="9.55" height="29.10" fill="#a7d984"/><rect x="300.79" y="334.20" width="9.55" height="23.30" fill="#8ccc6d"/><rect x="300.79" y="357.20" width="9.55" height="9.70" fill="#6cbb58"/><rect x="300.79" y="366.60" width="9.55" height="1.70" fill="#48a53f"/><rect x="300.79" y="368.00" width="9.55" height="9.70" fill="#7f9a55"/><rect x="300.79" y="377.40" width="9.55" height="10.30" fill="#a89a6d"/><rect x="300.79" y="387.40" width="9.55" height="1.80" fill="#f06c6c"/><rect x="300.79" y="388.90" width="9.55" height="4.60" fill="#e3262a"/><rect x="300.79" y="393.20" width="9.55" height="3.20" fill="#ec905a"/><rect x="300.79" y="396.10" width="9.55" height="4.60" fill="#fdb060"/><rect x="300.79" y="400.40" width="9.55" height="30.40" fill="#ff8000"/><rect x="300.79" y="430.50" width="9.55" height="2.90" fill="#ec905a"/><rect x="300.79" y="433.10" width="9.55" height="4.60" fill="#d9a6a0"/><rect x="300.79" y="437.40" width="9.55" height="4.60" fill="#bb9fd0"/><rect x="300.79" y="441.70" width="9.55" height="2.40" fill="#6c3fa0"/><rect x="300.79" y="443.80" width="9.55" height="2.50" fill="#d2bf94"/><rect x="300.79" y="446.00" width="9.55" height="6.40" fill="#e3b863"/><rect x="300.79" y="452.10" width="9.55" height="100.30" fill="#aaaaaa"/><path d="M305.57,552.4 V555.6" stroke="#555" stroke-width="0.7"/><rect x="311.52" y="281.60" width="9.55" height="3.90" fill="#9cc7e2"/><rect x="311.52" y="285.20" width="9.55" height="4.60" fill="#4289c2"/><rect x="311.52" y="289.50" width="9.55" height="7.50" fill="#2474b7"/><rect x="311.52" y="296.70" width="9.55" height="3.90" fill="#2f82ac"/><rect x="311.52" y="300.30" width="9.55" height="29.80" fill="#a7d984"/><rect x="311.52" y="329.80" width="9.55" height="28.40" fill="#8ccc6d"/><rect x="311.52" y="357.90" width="9.55" height="10.40" fill="#6cbb58"/><rect x="311.52" y="368.00" width="9.55" height="2.50" fill="#48a53f"/><rect x="311.52" y="370.20" width="9.55" height="14.70" fill="#7f9a55"/><rect x="311.52" y="384.60" width="9.55" height="10.00" fill="#a89a6d"/><rect x="311.52" y="394.30" width="9.55" height="2.00" fill="#f06c6c"/><rect x="311.52" y="396.00" width="9.55" height="3.80" fill="#e3262a"/><rect x="311.52" y="399.50" width="9.55" height="9.80" fill="#fdb060"/><rect x="311.52" y="409.00" width="9.55" height="21.00" fill="#ff8000"/><rect x="311.52" y="429.70" width="9.55" height="4.60" fill="#ec905a"/><rect x="311.52" y="434.00" width="9.55" height="3.70" fill="#d9a6a0"/><rect x="311.52" y="437.40" width="9.55" height="6.30" fill="#bb9fd0"/><rect x="311.52" y="443.40" width="9.55" height="2.90" fill="#6c3fa0"/><rect x="311.52" y="446.00" width="9.55" height="3.80" fill="#ebe190"/><rect x="311.52" y="449.50" width="9.55" height="3.70" fill="#e3b863"/><rect x="311.52" y="452.90" width="9.55" height="99.50" fill="#aaaaaa"/><path d="M316.30,552.4 V555.6" stroke="#555" stroke-width="0.7"/><rect x="322.26" y="281.60" width="9.55" height="3.90" fill="#9cc7e2"/><rect x="322.26" y="285.20" width="9.55" height="6.10" fill="#4289c2"/><rect x="322.26" y="291.00" width="9.55" height="5.30" fill="#2474b7"/><rect x="322.26" y="296.00" width="9.55" height="11.10" fill="#2f82ac"/><rect x="322.26" y="306.80" width="9.55" height="3.90" fill="#5e9f9a"/><rect x="322.26" y="310.40" width="9.55" height="35.60" fill="#a7d984"/><rect x="322.26" y="345.70" width="9.55" height="26.90" fill="#8ccc6d"/><rect x="322.26" y="372.30" width="9.55" height="8.20" fill="#6cbb58"/><rect x="322.26" y="380.20" width="9.55" height="1.80" fill="#48a53f"/><rect x="322.26" y="381.70" width="9.55" height="10.40" fill="#7f9a55"/><rect x="322.26" y="391.80" width="9.55" height="8.00" fill="#a89a6d"/><rect x="322.26" y="399.50" width="9.55" height="4.60" fill="#f06c6c"/><rect x="322.26" y="403.80" width="9.55" height="5.50" fill="#e3262a"/><rect x="322.26" y="409.00" width="9.55" height="5.40" fill="#fdb060"/><rect x="322.26" y="414.10" width="9.55" height="8.10" fill="#ff8000"/><rect x="322.26" y="421.90" width="9.55" height="2.90" fill="#ec905a"/><rect x="322.26" y="424.50" width="9.55" height="3.70" fill="#d9a6a0"/><rect x="322.26" y="427.90" width="9.55" height="5.50" fill="#bb9fd0"/><rect x="322.26" y="433.10" width="9.55" height="2.40" fill="#6c3fa0"/><rect x="322.26" y="435.20" width="9.55" height="2.50" fill="#ebe190"/><rect x="322.26" y="437.40" width="9.55" height="4.30" fill="#e3b863"/><rect x="322.26" y="441.40" width="9.55" height="111.00" fill="#aaaaaa"/><path d="M327.03,552.4 V555.6" stroke="#555" stroke-width="0.7"/><rect x="332.99" y="281.60" width="9.55" height="4.60" fill="#9cc7e2"/><rect x="332.99" y="285.90" width="9.55" height="3.20" fill="#4289c2"/><rect x="332.99" y="288.80" width="9.55" height="8.20" fill="#2474b7"/><rect x="332.99" y="296.70" width="9.55" height="1.80" fill="#9dcf90"/><rect x="332.99" y="298.20" width="9.55" height="34.80" fill="#a7d984"/><rect x="332.99" y="332.70" width="9.55" height="49.30" fill="#8ccc6d"/><rect x="332.99" y="381.70" width="9.55" height="6.00" fill="#6cbb58"/><rect x="332.99" y="387.40" width="9.55" height="2.50" fill="#48a53f"/><rect x="332.99" y="389.60" width="9.55" height="13.60" fill="#7f9a55"/><rect x="332.99" y="402.90" width="9.55" height="7.20" fill="#a89a6d"/><rect x="332.99" y="409.80" width="9.55" height="2.90" fill="#f06c6c"/><rect x="332.99" y="412.40" width="9.55" height="4.60" fill="#e3262a"/><rect x="332.99" y="416.70" width="9.55" height="4.60" fill="#fdb060"/><rect x="332.99" y="421.00" width="9.55" height="13.30" fill="#ff8000"/><rect x="332.99" y="434.00" width="9.55" height="2.90" fill="#ec905a"/><rect x="332.99" y="436.60" width="9.55" height="3.70" fill="#d9a6a0"/><rect x="332.99" y="440.00" width="9.55" height="5.50" fill="#bb9fd0"/><rect x="332.99" y="445.20" width="9.55" height="2.30" fill="#6c3fa0"/><rect x="332.99" y="447.20" width="9.55" height="2.60" fill="#ebe190"/><rect x="332.99" y="449.50" width="9.55" height="4.60" fill="#e3b863"/><rect x="332.99" y="453.80" width="9.55" height="98.60" fill="#aaaaaa"/><path d="M337.77,552.4 V555.6" stroke="#555" stroke-width="0.7"/><rect x="343.72" y="281.60" width="9.55" height="4.60" fill="#9cc7e2"/><rect x="343.72" y="285.90" width="9.55" height="6.10" fill="#4289c2"/><rect x="343.72" y="291.70" width="9.55" height="3.90" fill="#2474b7"/><rect x="343.72" y="295.30" width="9.55" height="4.60" fill="#2f82ac"/><rect x="343.72" y="299.60" width="9.55" height="6.80" fill="#9dcf90"/><rect x="343.72" y="306.10" width="9.55" height="15.40" fill="#a7d984"/><rect x="343.72" y="321.20" width="9.55" height="15.40" fill="#8ccc6d"/><rect x="343.72" y="336.30" width="9.55" height="12.60" fill="#6cbb58"/><rect x="343.72" y="348.60" width="9.55" height="2.40" fill="#48a53f"/><rect x="343.72" y="350.70" width="9.55" height="43.00" fill="#7f9a55"/><rect x="343.72" y="393.40" width="9.55" height="8.10" fill="#a89a6d"/><rect x="343.72" y="401.20" width="9.55" height="2.00" fill="#f06c6c"/><rect x="343.72" y="402.90" width="9.55" height="4.60" fill="#e3262a"/><rect x="343.72" y="407.20" width="9.55" height="9.00" fill="#fdb060"/><rect x="343.72" y="415.90" width="9.55" height="14.10" fill="#ff8000"/><rect x="343.72" y="429.70" width="9.55" height="4.60" fill="#ec905a"/><rect x="343.72" y="434.00" width="9.55" height="5.40" fill="#d9a6a0"/><rect x="343.72" y="439.10" width="9.55" height="5.50" fill="#bb9fd0"/><rect x="343.72" y="444.30" width="9.55" height="3.80" fill="#6c3fa0"/><rect x="343.72" y="447.80" width="9.55" height="4.60" fill="#ebe190"/><rect x="343.72" y="452.10" width="9.55" height="6.30" fill="#e3b863"/><rect x="343.72" y="458.10" width="9.55" height="94.30" fill="#aaaaaa"/><path d="M348.50,552.4 V555.6" stroke="#555" stroke-width="0.7"/><rect x="354.46" y="281.60" width="9.55" height="8.20" fill="#9cc7e2"/><rect x="354.46" y="289.50" width="9.55" height="5.40" fill="#4289c2"/><rect x="354.46" y="294.60" width="9.55" height="2.40" fill="#2474b7"/><rect x="354.46" y="296.70" width="9.55" height="5.40" fill="#2f82ac"/><rect x="354.46" y="301.80" width="9.55" height="4.60" fill="#5e9f9a"/><rect x="354.46" y="306.10" width="9.55" height="16.80" fill="#a7d984"/><rect x="354.46" y="322.60" width="9.55" height="21.90" fill="#8ccc6d"/><rect x="354.46" y="344.20" width="9.55" height="15.50" fill="#6cbb58"/><rect x="354.46" y="359.40" width="9.55" height="5.30" fill="#48a53f"/><rect x="354.46" y="364.40" width="9.55" height="14.70" fill="#7f9a55"/><rect x="354.46" y="378.80" width="9.55" height="14.10" fill="#a89a6d"/><rect x="354.46" y="392.60" width="9.55" height="5.50" fill="#d9a6a0"/><rect x="354.46" y="397.80" width="9.55" height="4.60" fill="#e3262a"/><rect x="354.46" y="402.10" width="9.55" height="2.90" fill="#ec905a"/><rect x="354.46" y="404.70" width="9.55" height="7.20" fill="#fdb060"/><rect x="354.46" y="411.60" width="9.55" height="6.30" fill="#ff8000"/><rect x="354.46" y="417.60" width="9.55" height="3.70" fill="#ec905a"/><rect x="354.46" y="421.00" width="9.55" height="6.30" fill="#d9a6a0"/><rect x="354.46" y="427.00" width="9.55" height="12.40" fill="#bb9fd0"/><rect x="354.46" y="439.10" width="9.55" height="2.90" fill="#6c3fa0"/><rect x="354.46" y="441.70" width="9.55" height="3.80" fill="#d2bf94"/><rect x="354.46" y="445.20" width="9.55" height="6.30" fill="#e3b863"/><rect x="354.46" y="451.20" width="9.55" height="4.60" fill="#c67739"/><rect x="354.46" y="455.50" width="9.55" height="96.90" fill="#aaaaaa"/><path d="M359.23,552.4 V555.6" stroke="#555" stroke-width="0.7"/><rect x="365.19" y="281.60" width="9.55" height="7.50" fill="#4289c2"/><rect x="365.19" y="288.80" width="9.55" height="3.20" fill="#2474b7"/><rect x="365.19" y="291.70" width="9.55" height="24.80" fill="#a7d984"/><rect x="365.19" y="316.20" width="9.55" height="33.40" fill="#8ccc6d"/><rect x="365.19" y="349.30" width="9.55" height="11.10" fill="#6cbb58"/><rect x="365.19" y="360.10" width="9.55" height="2.40" fill="#48a53f"/><rect x="365.19" y="362.20" width="9.55" height="18.30" fill="#7f9a55"/><rect x="365.19" y="380.20" width="9.55" height="10.40" fill="#a89a6d"/><rect x="365.19" y="390.30" width="9.55" height="3.40" fill="#d9a6a0"/><rect x="365.19" y="393.40" width="9.55" height="2.90" fill="#f06c6c"/><rect x="365.19" y="396.00" width="9.55" height="4.60" fill="#e3262a"/><rect x="365.19" y="400.30" width="9.55" height="7.20" fill="#fdb060"/><rect x="365.19" y="407.20" width="9.55" height="21.90" fill="#ff8000"/><rect x="365.19" y="428.80" width="9.55" height="2.90" fill="#ec905a"/><rect x="365.19" y="431.40" width="9.55" height="4.60" fill="#d9a6a0"/><rect x="365.19" y="435.70" width="9.55" height="9.80" fill="#bb9fd0"/><rect x="365.19" y="445.20" width="9.55" height="2.30" fill="#6c3fa0"/><rect x="365.19" y="447.20" width="9.55" height="4.30" fill="#ebe190"/><rect x="365.19" y="451.20" width="9.55" height="5.50" fill="#e3b863"/><rect x="365.19" y="456.40" width="9.55" height="2.50" fill="#c67739"/><rect x="365.19" y="458.60" width="9.55" height="93.80" fill="#aaaaaa"/><path d="M369.96,552.4 V555.6" stroke="#555" stroke-width="0.7"/><text x="35.20" y="284.30" font-size="7.45" text-anchor="end" stroke="#231f20" stroke-width="0.1">10,000</text><path d="M38.3,281.6 H41.3" stroke="#555" stroke-width="0.7"/><text x="35.20" y="352.00" font-size="7.45" text-anchor="end" stroke="#231f20" stroke-width="0.1">7,500</text><path d="M38.3,349.3 H41.3" stroke="#555" stroke-width="0.7"/><text x="35.20" y="419.70" font-size="7.45" text-anchor="end" stroke="#231f20" stroke-width="0.1">5,000</text><path d="M38.3,417 H41.3" stroke="#555" stroke-width="0.7"/><text x="35.20" y="487.40" font-size="7.45" text-anchor="end" stroke="#231f20" stroke-width="0.1">2,500</text><path d="M38.3,484.7 H41.3" stroke="#555" stroke-width="0.7"/><text x="35.20" y="555.10" font-size="7.45" text-anchor="end" stroke="#231f20" stroke-width="0.1">0</text><path d="M38.3,552.4 H41.3" stroke="#555" stroke-width="0.7"/><text x="7.00" y="415.90" font-size="7.6" text-anchor="middle" stroke="#231f20" stroke-width="0.1" transform="rotate(-90 7 415.9)">Abundance</text><path d="M43.2,560.6 H127.7 M43.2,558.8 V562.5 M127.7,558.8 V562.5" stroke="#333" stroke-width="0.9" fill="none"/><text x="85.45" y="569.90" font-size="7.7" text-anchor="middle" stroke="#231f20" stroke-width="0.1">Young</text><path d="M129.8,560.6 H213.6 M129.8,558.8 V562.5 M213.6,558.8 V562.5" stroke="#333" stroke-width="0.9" fill="none"/><text x="171.70" y="569.90" font-size="7.7" text-anchor="middle" stroke="#231f20" stroke-width="0.1">Aged</text><path d="M215.2,560.6 H299.2 M215.2,558.8 V562.5 M299.2,558.8 V562.5" stroke="#333" stroke-width="0.9" fill="none"/><text x="257.20" y="569.90" font-size="7.7" text-anchor="middle" stroke="#231f20" stroke-width="0.1">yFMTiAged</text><path d="M301,560.6 H374.7 M301,558.8 V562.5 M374.7,558.8 V562.5" stroke="#333" stroke-width="0.9" fill="none"/><text x="337.85" y="569.90" font-size="7.7" text-anchor="middle" stroke="#231f20" stroke-width="0.1">oFMTiAged</text><text x="396.50" y="290.30" font-size="7.5" stroke="#231f20" stroke-width="0.1">Genus</text><rect x="397" y="296.00" width="11.6" height="10.9" fill="#a6cde5"/><text x="413.90" y="304.00" font-size="6.9" font-style="italic" stroke="#231f20" stroke-width="0.1">Acetanaerobacterium</text><rect x="397" y="308.67" width="11.6" height="10.9" fill="#8dbfe0"/><text x="413.90" y="316.67" font-size="6.9" font-style="italic" stroke="#231f20" stroke-width="0.1">Acetatifactor</text><rect x="397" y="321.34" width="11.6" height="10.9" fill="#74aed6"/><text x="413.90" y="329.34" font-size="6.9" font-style="italic" stroke="#231f20" stroke-width="0.1">Acidaminobacter</text><rect x="397" y="334.01" width="11.6" height="10.9" fill="#5b9dcc"/><text x="413.90" y="342.01" font-size="6.9" font-style="italic" stroke="#231f20" stroke-width="0.1">Aestuariispira</text><rect x="397" y="346.68" width="11.6" height="10.9" fill="#4289c2"/><text x="413.90" y="354.68" font-size="6.9" font-style="italic" stroke="#231f20" stroke-width="0.1">Alistipes</text><rect x="397" y="359.35" width="11.6" height="10.9" fill="#2475b7"/><text x="413.90" y="367.35" font-size="6.9" font-style="italic" stroke="#231f20" stroke-width="0.1">Allobaculum</text><rect x="397" y="372.02" width="11.6" height="10.9" fill="#2f82ac"/><text x="413.90" y="380.02" font-size="6.9" font-style="italic" stroke="#231f20" stroke-width="0.1">Alloprevotella</text><rect x="397" y="384.69" width="11.6" height="10.9" fill="#4a96a0"/><text x="413.90" y="392.69" font-size="6.9" font-style="italic" stroke="#231f20" stroke-width="0.1">Anaerofustis</text><rect x="397" y="397.36" width="11.6" height="10.9" fill="#6aab98"/><text x="413.90" y="405.36" font-size="6.9" font-style="italic" stroke="#231f20" stroke-width="0.1">Anaerotruncus</text><rect x="397" y="410.03" width="11.6" height="10.9" fill="#84bf8e"/><text x="413.90" y="418.03" font-size="6.9" font-style="italic" stroke="#231f20" stroke-width="0.1">Anaerovorax</text><rect x="397" y="422.70" width="11.6" height="10.9" fill="#a3d490"/><text x="413.90" y="430.70" font-size="6.9" font-style="italic" stroke="#231f20" stroke-width="0.1">Bacteroides</text><rect x="397" y="435.37" width="11.6" height="10.9" fill="#a8d982"/><text x="413.90" y="443.37" font-size="6.9" font-style="italic" stroke="#231f20" stroke-width="0.1">Barnesiella</text><rect x="397" y="448.04" width="11.6" height="10.9" fill="#8fcc6e"/><text x="413.90" y="456.04" font-size="6.9" font-style="italic" stroke="#231f20" stroke-width="0.1">Bifidobacterium</text><rect x="397" y="460.71" width="11.6" height="10.9" fill="#78c05e"/><text x="413.90" y="468.71" font-size="6.9" font-style="italic" stroke="#231f20" stroke-width="0.1">Bilophila</text><rect x="397" y="473.38" width="11.6" height="10.9" fill="#5fb24f"/><text x="413.90" y="481.38" font-size="6.9" font-style="italic" stroke="#231f20" stroke-width="0.1">Butyricicoccus</text><rect x="397" y="486.05" width="11.6" height="10.9" fill="#47a640"/><text x="413.90" y="494.05" font-size="6.9" font-style="italic" stroke="#231f20" stroke-width="0.1">Christensenella</text><rect x="397" y="498.72" width="11.6" height="10.9" fill="#379a30"/><text x="413.90" y="506.72" font-size="6.9" font-style="italic" stroke="#231f20" stroke-width="0.1">Clostridium III</text><rect x="397" y="511.39" width="11.6" height="10.9" fill="#5c9843"/><text x="413.90" y="519.39" font-size="6.9" font-style="italic" stroke="#231f20" stroke-width="0.1">Clostridium IV</text><rect x="397" y="524.06" width="11.6" height="10.9" fill="#809653"/><text x="413.90" y="532.06" font-size="6.9" font-style="italic" stroke="#231f20" stroke-width="0.1">Clostridium sensu stricto</text><rect x="397" y="536.73" width="11.6" height="10.9" fill="#a89a6d"/><text x="413.90" y="544.73" font-size="6.9" font-style="italic" stroke="#231f20" stroke-width="0.1">Clostridium XlVa</text><rect x="497.8" y="296.00" width="11.6" height="10.9" fill="#c9977c"/><text x="514.90" y="304.00" font-size="6.9" font-style="italic" stroke="#231f20" stroke-width="0.1">Clostridium XlVb</text><rect x="497.8" y="308.67" width="11.6" height="10.9" fill="#f89d9c"/><text x="514.90" y="316.67" font-size="6.9" font-style="italic" stroke="#231f20" stroke-width="0.1">Clostridium XVIII</text><rect x="497.8" y="321.34" width="11.6" height="10.9" fill="#f58585"/><text x="514.90" y="329.34" font-size="6.9" font-style="italic" stroke="#231f20" stroke-width="0.1">Coprobacillus</text><rect x="497.8" y="334.01" width="11.6" height="10.9" fill="#f06e6e"/><text x="514.90" y="342.01" font-size="6.9" font-style="italic" stroke="#231f20" stroke-width="0.1">Coprobacter</text><rect x="497.8" y="346.68" width="11.6" height="10.9" fill="#ec5556"/><text x="514.90" y="354.68" font-size="6.9" font-style="italic" stroke="#231f20" stroke-width="0.1">Coprococcus</text><rect x="497.8" y="359.35" width="11.6" height="10.9" fill="#e63b3e"/><text x="514.90" y="367.35" font-size="6.9" font-style="italic" stroke="#231f20" stroke-width="0.1">Desulfovibrio</text><rect x="497.8" y="372.02" width="11.6" height="10.9" fill="#e21f26"/><text x="514.90" y="380.02" font-size="6.9" font-style="italic" stroke="#231f20" stroke-width="0.1">Dorea</text><rect x="497.8" y="384.69" width="11.6" height="10.9" fill="#e4302b"/><text x="514.90" y="392.69" font-size="6.9" font-style="italic" stroke="#231f20" stroke-width="0.1">Eisenbergiella</text><rect x="497.8" y="397.36" width="11.6" height="10.9" fill="#e84c35"/><text x="514.90" y="405.36" font-size="6.9" font-style="italic" stroke="#231f20" stroke-width="0.1">Enterorhabdus</text><rect x="497.8" y="410.03" width="11.6" height="10.9" fill="#ee6b40"/><text x="514.90" y="418.03" font-size="6.9" font-style="italic" stroke="#231f20" stroke-width="0.1">Eubacterium</text><rect x="497.8" y="422.70" width="11.6" height="10.9" fill="#f4894f"/><text x="514.90" y="430.70" font-size="6.9" font-style="italic" stroke="#231f20" stroke-width="0.1">Flavonifractor</text><rect x="497.8" y="435.37" width="11.6" height="10.9" fill="#f9a35a"/><text x="514.90" y="443.37" font-size="6.9" font-style="italic" stroke="#231f20" stroke-width="0.1">Gemmiger</text><rect x="497.8" y="448.04" width="11.6" height="10.9" fill="#fdb462"/><text x="514.90" y="456.04" font-size="6.9" font-style="italic" stroke="#231f20" stroke-width="0.1">Helicobacter</text><rect x="497.8" y="460.71" width="11.6" height="10.9" fill="#fdaa4e"/><text x="514.90" y="468.71" font-size="6.9" font-style="italic" stroke="#231f20" stroke-width="0.1">Holdemanella</text><rect x="497.8" y="473.38" width="11.6" height="10.9" fill="#fd9e38"/><text x="514.90" y="481.38" font-size="6.9" font-style="italic" stroke="#231f20" stroke-width="0.1">Hydrogenoanaerobacterium</text><rect x="497.8" y="486.05" width="11.6" height="10.9" fill="#fe9227"/><text x="514.90" y="494.05" font-size="6.9" font-style="italic" stroke="#231f20" stroke-width="0.1">Intestinimonas</text><rect x="497.8" y="498.72" width="11.6" height="10.9" fill="#fe8616"/><text x="514.90" y="506.72" font-size="6.9" font-style="italic" stroke="#231f20" stroke-width="0.1">Lachnospira</text><rect x="497.8" y="511.39" width="11.6" height="10.9" fill="#ff7f00"/><text x="514.90" y="519.39" font-size="6.9" font-style="italic" stroke="#231f20" stroke-width="0.1">Lactobacillus</text><rect x="497.8" y="524.06" width="11.6" height="10.9" fill="#f38b2e"/><text x="514.90" y="532.06" font-size="6.9" font-style="italic" stroke="#231f20" stroke-width="0.1">Marvinbryantia</text><rect x="497.8" y="536.73" width="11.6" height="10.9" fill="#e99660"/><text x="514.90" y="544.73" font-size="6.9" font-style="italic" stroke="#231f20" stroke-width="0.1">Odoribacter</text><rect x="603.2" y="296.00" width="11.6" height="10.9" fill="#e39c72"/><text x="620.00" y="304.00" font-size="6.9" font-style="italic" stroke="#231f20" stroke-width="0.1">Olsenella</text><rect x="603.2" y="308.67" width="11.6" height="10.9" fill="#d9a6a0"/><text x="620.00" y="316.67" font-size="6.9" font-style="italic" stroke="#231f20" stroke-width="0.1">Oscillibacter</text><rect x="603.2" y="321.34" width="11.6" height="10.9" fill="#cbb2d5"/><text x="620.00" y="329.34" font-size="6.9" font-style="italic" stroke="#231f20" stroke-width="0.1">Parabacteroides</text><rect x="603.2" y="334.01" width="11.6" height="10.9" fill="#bb9fd0"/><text x="620.00" y="342.01" font-size="6.9" font-style="italic" stroke="#231f20" stroke-width="0.1">Parasutterella</text><rect x="603.2" y="346.68" width="11.6" height="10.9" fill="#a98bc7"/><text x="620.00" y="354.68" font-size="6.9" font-style="italic" stroke="#231f20" stroke-width="0.1">Parvibacter</text><rect x="603.2" y="359.35" width="11.6" height="10.9" fill="#9672bb"/><text x="620.00" y="367.35" font-size="6.9" font-style="italic" stroke="#231f20" stroke-width="0.1">Peptococcus</text><rect x="603.2" y="372.02" width="11.6" height="10.9" fill="#8359ad"/><text x="620.00" y="380.02" font-size="6.9" font-style="italic" stroke="#231f20" stroke-width="0.1">Prevotella</text><rect x="603.2" y="384.69" width="11.6" height="10.9" fill="#6c3fa0"/><text x="620.00" y="392.69" font-size="6.9" font-style="italic" stroke="#231f20" stroke-width="0.1">Pseudoflavonifractor</text><rect x="603.2" y="397.36" width="11.6" height="10.9" fill="#7a4d99"/><text x="620.00" y="405.36" font-size="6.9" font-style="italic" stroke="#231f20" stroke-width="0.1">Pseudomonas</text><rect x="603.2" y="410.03" width="11.6" height="10.9" fill="#8e6e96"/><text x="620.00" y="418.03" font-size="6.9" font-style="italic" stroke="#231f20" stroke-width="0.1">Robinsoniella</text><rect x="603.2" y="422.70" width="11.6" height="10.9" fill="#a99592"/><text x="620.00" y="430.70" font-size="6.9" font-style="italic" stroke="#231f20" stroke-width="0.1">Romboutsia</text><rect x="603.2" y="435.37" width="11.6" height="10.9" fill="#d2bf94"/><text x="620.00" y="443.37" font-size="6.9" font-style="italic" stroke="#231f20" stroke-width="0.1">Roseburia</text><rect x="603.2" y="448.04" width="11.6" height="10.9" fill="#ebe190"/><text x="620.00" y="456.04" font-size="6.9" font-style="italic" stroke="#231f20" stroke-width="0.1">Ruminococcus</text><rect x="603.2" y="460.71" width="11.6" height="10.9" fill="#fbf38a"/><text x="620.00" y="468.71" font-size="6.9" font-style="italic" stroke="#231f20" stroke-width="0.1">Ruminococcus 2</text><rect x="603.2" y="473.38" width="11.6" height="10.9" fill="#efd47c"/><text x="620.00" y="481.38" font-size="6.9" font-style="italic" stroke="#231f20" stroke-width="0.1">Sporobacter</text><rect x="603.2" y="486.05" width="11.6" height="10.9" fill="#e3b863"/><text x="620.00" y="494.05" font-size="6.9" font-style="italic" stroke="#231f20" stroke-width="0.1">Stomatobaculum</text><rect x="603.2" y="498.72" width="11.6" height="10.9" fill="#d49a4f"/><text x="620.00" y="506.72" font-size="6.9" font-style="italic" stroke="#231f20" stroke-width="0.1">Turicibacter</text><rect x="603.2" y="511.39" width="11.6" height="10.9" fill="#c67739"/><text x="620.00" y="519.39" font-size="6.9" font-style="italic" stroke="#231f20" stroke-width="0.1">Vampirovibrio</text><rect x="603.2" y="524.06" width="11.6" height="10.9" fill="#aaaaaa"/><text x="620.00" y="532.06" font-size="6.9" stroke="#231f20" stroke-width="0.1">Unclassified</text><text x="-0.6" y="590.9" font-size="13" font-weight="bold" style="font-family:Liberation Serif,serif" fill="#000">g</text><path d="M186.20,788.50 L228.90,810.60" stroke="#c4c4c4" stroke-width="12.00" stroke-linecap="round"/><path d="M228.90,810.60 L277.70,810.60" stroke="#c4c4c4" stroke-width="14.50" stroke-linecap="round"/><path d="M277.70,810.60 L334.00,792.00" stroke="#c4c4c4" stroke-width="13.00" stroke-linecap="round"/><path d="M186.20,788.50 L191.60,720.30" stroke="#c4c4c4" stroke-width="8.50" stroke-linecap="round"/><path d="M191.60,720.30 L164.50,696.50" stroke="#c4c4c4" stroke-width="6.50" stroke-linecap="round"/><path d="M164.50,696.50 L143.50,668.10" stroke="#c4c4c4" stroke-width="6.50" stroke-linecap="round"/><path d="M143.50,668.10 L121.00,648.50" stroke="#c4c4c4" stroke-width="6.50" stroke-linecap="round"/><path d="M121.00,648.50 L102.90,629.00" stroke="#c4c4c4" stroke-width="6.50" stroke-linecap="round"/><path d="M191.60,720.30 L180.80,676.50" stroke="#c4c4c4" stroke-width="6.50" stroke-linecap="round"/><path d="M180.80,676.50 L173.00,649.00" stroke="#c4c4c4" stroke-width="6.50" stroke-linecap="round"/><path d="M173.00,649.00 L164.50,619.50" stroke="#c4c4c4" stroke-width="6.50" stroke-linecap="round"/><path d="M164.50,619.50 L156.30,595.00" stroke="#c4c4c4" stroke-width="6.50" stroke-linecap="round"/><path d="M191.60,720.30 L205.80,699.20" stroke="#c4c4c4" stroke-width="6.50" stroke-linecap="round"/><path d="M205.80,699.20 L208.40,668.10" stroke="#c4c4c4" stroke-width="6.50" stroke-linecap="round"/><path d="M208.40,668.10 L204.70,639.00" stroke="#c4c4c4" stroke-width="6.50" stroke-linecap="round"/><path d="M204.70,639.00 L208.00,609.00" stroke="#c4c4c4" stroke-width="6.50" stroke-linecap="round"/><path d="M191.60,720.30 L237.00,697.70" stroke="#c4c4c4" stroke-width="6.89" stroke-linecap="round"/><path d="M237.00,697.70 L241.70,676.00" stroke="#c4c4c4" stroke-width="6.50" stroke-linecap="round"/><path d="M241.70,676.00 L247.00,651.00" stroke="#c4c4c4" stroke-width="6.50" stroke-linecap="round"/><path d="M247.00,651.00 L246.00,626.00" stroke="#c4c4c4" stroke-width="6.50" stroke-linecap="round"/><path d="M237.00,697.70 L272.30,675.70" stroke="#c4c4c4" stroke-width="6.50" stroke-linecap="round"/><path d="M272.30,675.70 L285.80,638.80" stroke="#c4c4c4" stroke-width="6.50" stroke-linecap="round"/><path d="M285.80,638.80 L285.80,611.90" stroke="#c4c4c4" stroke-width="6.50" stroke-linecap="round"/><path d="M285.80,638.80 L312.60,630.40" stroke="#c4c4c4" stroke-width="6.50" stroke-linecap="round"/><path d="M191.60,720.30 L177.00,737.50" stroke="#c4c4c4" stroke-width="6.50" stroke-linecap="round"/><path d="M177.00,737.50 L156.50,737.50" stroke="#c4c4c4" stroke-width="6.50" stroke-linecap="round"/><path d="M156.50,737.50 L140.50,719.60" stroke="#c4c4c4" stroke-width="6.50" stroke-linecap="round"/><path d="M140.50,719.60 L133.30,697.00" stroke="#c4c4c4" stroke-width="6.50" stroke-linecap="round"/><path d="M186.20,788.50 L145.20,784.50" stroke="#c4c4c4" stroke-width="9.00" stroke-linecap="round"/><path d="M145.20,784.50 L107.70,777.00" stroke="#c4c4c4" stroke-width="9.00" stroke-linecap="round"/><path d="M107.70,777.00 L71.70,754.00" stroke="#c4c4c4" stroke-width="8.50" stroke-linecap="round"/><path d="M71.70,754.00 L41.50,732.70" stroke="#c4c4c4" stroke-width="6.50" stroke-linecap="round"/><path d="M41.50,732.70 L13.20,730.70" stroke="#c4c4c4" stroke-width="6.50" stroke-linecap="round"/><path d="M41.50,732.70 L30.90,703.00" stroke="#c4c4c4" stroke-width="6.50" stroke-linecap="round"/><path d="M71.70,754.00 L92.00,725.80" stroke="#c4c4c4" stroke-width="8.10" stroke-linecap="round"/><path d="M92.00,725.80 L77.10,690.70" stroke="#c4c4c4" stroke-width="6.50" stroke-linecap="round"/><path d="M92.00,725.80 L100.80,698.00" stroke="#c4c4c4" stroke-width="6.50" stroke-linecap="round"/><path d="M92.00,725.80 L71.00,718.00" stroke="#c4c4c4" stroke-width="7.15" stroke-linecap="round"/><path d="M92.00,725.80 L108.80,744.30" stroke="#c4c4c4" stroke-width="6.50" stroke-linecap="round"/><path d="M71.70,754.00 L40.60,763.20" stroke="#c4c4c4" stroke-width="6.50" stroke-linecap="round"/><path d="M40.60,763.20 L17.50,770.60" stroke="#c4c4c4" stroke-width="6.50" stroke-linecap="round"/><path d="M71.70,754.00 L70.30,783.80" stroke="#c4c4c4" stroke-width="6.50" stroke-linecap="round"/><path d="M70.30,783.80 L55.80,798.40" stroke="#c4c4c4" stroke-width="6.50" stroke-linecap="round"/><path d="M186.20,788.50 L151.30,819.00" stroke="#c4c4c4" stroke-width="7.15" stroke-linecap="round"/><path d="M151.30,819.00 L120.80,842.40" stroke="#c4c4c4" stroke-width="7.15" stroke-linecap="round"/><path d="M120.80,842.40 L94.30,835.00" stroke="#c4c4c4" stroke-width="6.50" stroke-linecap="round"/><path d="M94.30,835.00 L67.00,840.80" stroke="#c4c4c4" stroke-width="6.50" stroke-linecap="round"/><path d="M67.00,840.80 L40.00,840.50" stroke="#c4c4c4" stroke-width="6.50" stroke-linecap="round"/><path d="M120.80,842.40 L96.60,869.00" stroke="#c4c4c4" stroke-width="6.50" stroke-linecap="round"/><path d="M96.60,869.00 L67.00,896.30" stroke="#c4c4c4" stroke-width="6.50" stroke-linecap="round"/><path d="M67.00,896.30 L45.00,882.50" stroke="#c4c4c4" stroke-width="6.50" stroke-linecap="round"/><path d="M67.00,896.30 L49.00,916.50" stroke="#c4c4c4" stroke-width="6.50" stroke-linecap="round"/><path d="M67.00,896.30 L81.00,916.50" stroke="#c4c4c4" stroke-width="6.50" stroke-linecap="round"/><path d="M228.90,810.60 L233.40,781.00" stroke="#c4c4c4" stroke-width="6.50" stroke-linecap="round"/><path d="M233.40,781.00 L240.50,756.50" stroke="#c4c4c4" stroke-width="6.50" stroke-linecap="round"/><path d="M240.50,756.50 L257.20,734.70" stroke="#c4c4c4" stroke-width="6.50" stroke-linecap="round"/><path d="M257.20,734.70 L275.70,716.00" stroke="#c4c4c4" stroke-width="6.50" stroke-linecap="round"/><path d="M228.90,810.60 L212.30,844.00" stroke="#c4c4c4" stroke-width="7.15" stroke-linecap="round"/><path d="M212.30,844.00 L192.20,869.50" stroke="#c4c4c4" stroke-width="7.15" stroke-linecap="round"/><path d="M192.20,869.50 L163.00,901.70" stroke="#c4c4c4" stroke-width="7.15" stroke-linecap="round"/><path d="M163.00,901.70 L156.40,876.30" stroke="#c4c4c4" stroke-width="6.50" stroke-linecap="round"/><path d="M163.00,901.70 L136.10,896.50" stroke="#c4c4c4" stroke-width="6.50" stroke-linecap="round"/><path d="M163.00,901.70 L186.10,913.60" stroke="#c4c4c4" stroke-width="6.50" stroke-linecap="round"/><path d="M163.00,901.70 L138.80,926.70" stroke="#c4c4c4" stroke-width="6.50" stroke-linecap="round"/><path d="M163.00,901.70 L166.10,937.40" stroke="#c4c4c4" stroke-width="6.50" stroke-linecap="round"/><path d="M334.00,792.00 L302.60,785.50" stroke="#c4c4c4" stroke-width="6.50" stroke-linecap="round"/><path d="M302.60,785.50 L282.00,780.00" stroke="#c4c4c4" stroke-width="6.50" stroke-linecap="round"/><path d="M334.00,792.00 L349.60,726.00" stroke="#c4c4c4" stroke-width="6.50" stroke-linecap="round"/><path d="M349.60,726.00 L343.00,696.50" stroke="#c4c4c4" stroke-width="6.50" stroke-linecap="round"/><path d="M349.60,726.00 L369.50,699.00" stroke="#c4c4c4" stroke-width="6.50" stroke-linecap="round"/><path d="M334.00,792.00 L328.20,743.80" stroke="#c4c4c4" stroke-width="6.50" stroke-linecap="round"/><path d="M328.20,743.80 L316.40,718.30" stroke="#c4c4c4" stroke-width="6.50" stroke-linecap="round"/><path d="M334.00,792.00 L367.30,749.60" stroke="#c4c4c4" stroke-width="6.50" stroke-linecap="round"/><path d="M367.30,749.60 L388.00,728.20" stroke="#c4c4c4" stroke-width="6.50" stroke-linecap="round"/><path d="M334.00,792.00 L315.00,764.60" stroke="#c4c4c4" stroke-width="6.50" stroke-linecap="round"/><path d="M315.00,764.60 L296.50,750.50" stroke="#c4c4c4" stroke-width="6.50" stroke-linecap="round"/><path d="M334.00,792.00 L366.50,773.20" stroke="#c4c4c4" stroke-width="6.50" stroke-linecap="round"/><path d="M366.50,773.20 L393.10,757.80" stroke="#c4c4c4" stroke-width="6.50" stroke-linecap="round"/><path d="M334.00,792.00 L335.00,816.00" stroke="#c4c4c4" stroke-width="6.50" stroke-linecap="round"/><path d="M335.00,816.00 L328.80,844.20" stroke="#c4c4c4" stroke-width="6.50" stroke-linecap="round"/><path d="M334.00,792.00 L397.00,826.40" stroke="#c4c4c4" stroke-width="9.00" stroke-linecap="round"/><path d="M397.00,826.40 L393.00,785.20" stroke="#c4c4c4" stroke-width="6.24" stroke-linecap="round"/><path d="M397.00,826.40 L410.70,794.80" stroke="#c4c4c4" stroke-width="6.24" stroke-linecap="round"/><path d="M397.00,826.40 L436.40,788.20" stroke="#c4c4c4" stroke-width="6.24" stroke-linecap="round"/><path d="M397.00,826.40 L382.00,802.30" stroke="#c4c4c4" stroke-width="6.24" stroke-linecap="round"/><path d="M397.00,826.40 L362.70,816.60" stroke="#c4c4c4" stroke-width="6.24" stroke-linecap="round"/><path d="M397.00,826.40 L426.80,814.00" stroke="#c4c4c4" stroke-width="6.24" stroke-linecap="round"/><path d="M397.00,826.40 L446.00,831.00" stroke="#c4c4c4" stroke-width="6.24" stroke-linecap="round"/><path d="M397.00,826.40 L367.20,837.50" stroke="#c4c4c4" stroke-width="6.24" stroke-linecap="round"/><path d="M397.00,826.40 L423.20,841.20" stroke="#c4c4c4" stroke-width="6.24" stroke-linecap="round"/><path d="M397.00,826.40 L387.80,851.50" stroke="#c4c4c4" stroke-width="6.24" stroke-linecap="round"/><path d="M397.00,826.40 L369.40,862.00" stroke="#c4c4c4" stroke-width="6.24" stroke-linecap="round"/><path d="M397.00,826.40 L426.00,862.00" stroke="#c4c4c4" stroke-width="6.24" stroke-linecap="round"/><path d="M397.00,826.40 L401.80,870.00" stroke="#c4c4c4" stroke-width="6.24" stroke-linecap="round"/><path d="M334.00,792.00 L284.40,917.50" stroke="#c4c4c4" stroke-width="12.50" stroke-linecap="round"/><path d="M284.40,917.50 L281.50,880.30" stroke="#c4c4c4" stroke-width="6.24" stroke-linecap="round"/><path d="M284.40,917.50 L263.20,892.30" stroke="#c4c4c4" stroke-width="6.24" stroke-linecap="round"/><path d="M284.40,917.50 L302.90,895.50" stroke="#c4c4c4" stroke-width="6.24" stroke-linecap="round"/><path d="M284.40,917.50 L237.50,896.50" stroke="#c4c4c4" stroke-width="6.24" stroke-linecap="round"/><path d="M284.40,917.50 L322.20,914.80" stroke="#c4c4c4" stroke-width="6.24" stroke-linecap="round"/><path d="M284.40,917.50 L250.70,919.60" stroke="#c4c4c4" stroke-width="6.24" stroke-linecap="round"/><path d="M284.40,917.50 L305.30,930.80" stroke="#c4c4c4" stroke-width="6.24" stroke-linecap="round"/><path d="M284.40,917.50 L235.90,942.10" stroke="#c4c4c4" stroke-width="6.24" stroke-linecap="round"/><path d="M284.40,917.50 L261.90,939.70" stroke="#c4c4c4" stroke-width="6.24" stroke-linecap="round"/><path d="M284.40,917.50 L285.20,947.70" stroke="#c4c4c4" stroke-width="6.24" stroke-linecap="round"/><path d="M284.40,917.50 L310.90,957.80" stroke="#c4c4c4" stroke-width="6.24" stroke-linecap="round"/><path d="M284.40,917.50 L268.40,966.20" stroke="#c4c4c4" stroke-width="6.24" stroke-linecap="round"/><circle cx="186.20" cy="788.50" r="16.63" fill="#c4c4c4"/><circle cx="228.90" cy="810.60" r="15.55" fill="#c4c4c4"/><circle cx="277.70" cy="810.60" r="15.55" fill="#c4c4c4"/><circle cx="334.00" cy="792.00" r="13.50" fill="#c4c4c4"/><circle cx="191.60" cy="720.30" r="7.02" fill="#c4c4c4"/><circle cx="164.50" cy="696.50" r="6.91" fill="#c4c4c4"/><circle cx="143.50" cy="668.10" r="6.91" fill="#c4c4c4"/><circle cx="121.00" cy="648.50" r="6.91" fill="#c4c4c4"/><circle cx="102.90" cy="629.00" r="7.34" fill="#c4c4c4"/><circle cx="180.80" cy="676.50" r="6.91" fill="#c4c4c4"/><circle cx="173.00" cy="649.00" r="6.91" fill="#c4c4c4"/><circle cx="164.50" cy="619.50" r="6.91" fill="#c4c4c4"/><circle cx="156.30" cy="595.00" r="7.34" fill="#c4c4c4"/><circle cx="205.80" cy="699.20" r="6.91" fill="#c4c4c4"/><circle cx="208.40" cy="668.10" r="6.91" fill="#c4c4c4"/><circle cx="204.70" cy="639.00" r="6.91" fill="#c4c4c4"/><circle cx="208.00" cy="609.00" r="7.34" fill="#c4c4c4"/><circle cx="237.00" cy="697.70" r="6.91" fill="#c4c4c4"/><circle cx="241.70" cy="676.00" r="6.91" fill="#c4c4c4"/><circle cx="247.00" cy="651.00" r="6.91" fill="#c4c4c4"/><circle cx="246.00" cy="626.00" r="7.34" fill="#c4c4c4"/><circle cx="272.30" cy="675.70" r="6.91" fill="#c4c4c4"/><circle cx="285.80" cy="638.80" r="6.91" fill="#c4c4c4"/><circle cx="285.80" cy="611.90" r="7.34" fill="#c4c4c4"/><circle cx="312.60" cy="630.40" r="7.34" fill="#c4c4c4"/><circle cx="177.00" cy="737.50" r="6.91" fill="#c4c4c4"/><circle cx="156.50" cy="737.50" r="6.91" fill="#c4c4c4"/><circle cx="140.50" cy="719.60" r="6.91" fill="#c4c4c4"/><circle cx="133.30" cy="697.00" r="7.34" fill="#c4c4c4"/><circle cx="145.20" cy="784.50" r="9.72" fill="#c4c4c4"/><circle cx="107.70" cy="777.00" r="9.72" fill="#c4c4c4"/><circle cx="71.70" cy="754.00" r="9.18" fill="#c4c4c4"/><circle cx="41.50" cy="732.70" r="7.13" fill="#c4c4c4"/><circle cx="13.20" cy="730.70" r="7.34" fill="#c4c4c4"/><circle cx="30.90" cy="703.00" r="7.34" fill="#c4c4c4"/><circle cx="92.00" cy="725.80" r="7.56" fill="#c4c4c4"/><circle cx="77.10" cy="690.70" r="7.02" fill="#c4c4c4"/><circle cx="100.80" cy="698.00" r="7.02" fill="#c4c4c4"/><circle cx="71.00" cy="718.00" r="8.64" fill="#c4c4c4"/><circle cx="108.80" cy="744.30" r="7.02" fill="#c4c4c4"/><circle cx="40.60" cy="763.20" r="7.34" fill="#c4c4c4"/><circle cx="17.50" cy="770.60" r="7.56" fill="#c4c4c4"/><circle cx="70.30" cy="783.80" r="7.02" fill="#c4c4c4"/><circle cx="55.80" cy="798.40" r="7.56" fill="#c4c4c4"/><circle cx="186.00" cy="811.70" r="7.02" fill="#c4c4c4"/><circle cx="151.30" cy="819.00" r="7.02" fill="#c4c4c4"/><circle cx="120.80" cy="842.40" r="7.02" fill="#c4c4c4"/><circle cx="94.30" cy="835.00" r="6.91" fill="#c4c4c4"/><circle cx="67.00" cy="840.80" r="6.91" fill="#c4c4c4"/><circle cx="40.00" cy="840.50" r="7.34" fill="#c4c4c4"/><circle cx="96.60" cy="869.00" r="6.91" fill="#c4c4c4"/><circle cx="67.00" cy="896.30" r="6.91" fill="#c4c4c4"/><circle cx="45.00" cy="882.50" r="7.02" fill="#c4c4c4"/><circle cx="49.00" cy="916.50" r="7.02" fill="#c4c4c4"/><circle cx="81.00" cy="916.50" r="7.02" fill="#c4c4c4"/><circle cx="233.40" cy="781.00" r="6.91" fill="#c4c4c4"/><circle cx="240.50" cy="756.50" r="6.91" fill="#c4c4c4"/><circle cx="257.20" cy="734.70" r="6.91" fill="#c4c4c4"/><circle cx="275.70" cy="716.00" r="7.34" fill="#c4c4c4"/><circle cx="212.30" cy="844.00" r="6.91" fill="#c4c4c4"/><circle cx="192.20" cy="869.50" r="6.91" fill="#c4c4c4"/><circle cx="163.00" cy="901.70" r="6.91" fill="#c4c4c4"/><circle cx="156.40" cy="876.30" r="7.02" fill="#c4c4c4"/><circle cx="136.10" cy="896.50" r="7.02" fill="#c4c4c4"/><circle cx="186.10" cy="913.60" r="7.02" fill="#c4c4c4"/><circle cx="138.80" cy="926.70" r="7.02" fill="#c4c4c4"/><circle cx="166.10" cy="937.40" r="7.34" fill="#c4c4c4"/><circle cx="302.60" cy="785.50" r="6.91" fill="#c4c4c4"/><circle cx="282.00" cy="780.00" r="7.02" fill="#c4c4c4"/><circle cx="349.60" cy="726.00" r="6.91" fill="#c4c4c4"/><circle cx="343.00" cy="696.50" r="7.34" fill="#c4c4c4"/><circle cx="369.50" cy="699.00" r="7.02" fill="#c4c4c4"/><circle cx="328.20" cy="743.80" r="6.91" fill="#c4c4c4"/><circle cx="316.40" cy="718.30" r="7.02" fill="#c4c4c4"/><circle cx="367.30" cy="749.60" r="6.91" fill="#c4c4c4"/><circle cx="388.00" cy="728.20" r="7.02" fill="#c4c4c4"/><circle cx="315.00" cy="764.60" r="6.91" fill="#c4c4c4"/><circle cx="296.50" cy="750.50" r="7.02" fill="#c4c4c4"/><circle cx="366.50" cy="773.20" r="6.91" fill="#c4c4c4"/><circle cx="393.10" cy="757.80" r="7.02" fill="#c4c4c4"/><circle cx="335.00" cy="816.00" r="6.91" fill="#c4c4c4"/><circle cx="328.80" cy="844.20" r="7.02" fill="#c4c4c4"/><circle cx="397.00" cy="826.40" r="8.64" fill="#c4c4c4"/><circle cx="393.00" cy="785.20" r="7.13" fill="#c4c4c4"/><circle cx="410.70" cy="794.80" r="7.13" fill="#c4c4c4"/><circle cx="436.40" cy="788.20" r="7.13" fill="#c4c4c4"/><circle cx="382.00" cy="802.30" r="7.13" fill="#c4c4c4"/><circle cx="362.70" cy="816.60" r="7.13" fill="#c4c4c4"/><circle cx="426.80" cy="814.00" r="7.13" fill="#c4c4c4"/><circle cx="446.00" cy="831.00" r="7.13" fill="#c4c4c4"/><circle cx="367.20" cy="837.50" r="7.13" fill="#c4c4c4"/><circle cx="423.20" cy="841.20" r="7.13" fill="#c4c4c4"/><circle cx="387.80" cy="851.50" r="7.13" fill="#c4c4c4"/><circle cx="369.40" cy="862.00" r="7.13" fill="#c4c4c4"/><circle cx="426.00" cy="862.00" r="7.13" fill="#c4c4c4"/><circle cx="401.80" cy="870.00" r="7.13" fill="#c4c4c4"/><circle cx="284.40" cy="917.50" r="13.50" fill="#c4c4c4"/><circle cx="281.50" cy="880.30" r="7.02" fill="#c4c4c4"/><circle cx="263.20" cy="892.30" r="7.02" fill="#c4c4c4"/><circle cx="302.90" cy="895.50" r="7.02" fill="#c4c4c4"/><circle cx="237.50" cy="896.50" r="7.34" fill="#c4c4c4"/><circle cx="322.20" cy="914.80" r="7.56" fill="#c4c4c4"/><circle cx="250.70" cy="919.60" r="7.34" fill="#c4c4c4"/><circle cx="305.30" cy="930.80" r="9.72" fill="#c4c4c4"/><circle cx="235.90" cy="942.10" r="7.56" fill="#c4c4c4"/><circle cx="261.90" cy="939.70" r="7.56" fill="#c4c4c4"/><circle cx="285.20" cy="947.70" r="7.56" fill="#c4c4c4"/><circle cx="310.90" cy="957.80" r="8.64" fill="#c4c4c4"/><circle cx="268.40" cy="966.20" r="7.56" fill="#c4c4c4"/><text x="156.80" y="596.90" font-size="5.3" text-anchor="middle" fill="#111" font-style="italic" stroke="#111" stroke-width="0.05">Aestuariispira</text><text x="208.30" y="611.30" font-size="5.3" text-anchor="middle" fill="#111" font-style="italic" stroke="#111" stroke-width="0.05">Parasutterella</text><text x="164.70" y="621.10" font-size="5.3" text-anchor="middle" fill="#111" font-style="italic" stroke="#111" stroke-width="0.05">Rhodospirillaceae</text><text x="103.20" y="631.20" font-size="5.3" text-anchor="middle" fill="#111" font-style="italic" stroke="#111" stroke-width="0.05">Helicobacter</text><text x="204.20" y="641.20" font-size="5.3" text-anchor="middle" fill="#111" font-style="italic" stroke="#111" stroke-width="0.05">Sutterellaceae</text><text x="121.70" y="650.60" font-size="5.3" text-anchor="middle" fill="#111" font-style="italic" stroke="#111" stroke-width="0.05">Helicobacteraceae</text><text x="173.20" y="650.60" font-size="5.3" text-anchor="middle" fill="#111" stroke="#111" stroke-width="0.05">Rhodospirillales</text><text x="143.60" y="669.80" font-size="5.3" text-anchor="middle" fill="#111" stroke="#111" stroke-width="0.05">Campylobacterales</text><text x="209.70" y="670.10" font-size="5.3" text-anchor="middle" fill="#111" stroke="#111" stroke-width="0.05">Burkholderiales</text><text x="180.00" y="678.20" font-size="5.3" text-anchor="middle" fill="#111" stroke="#111" stroke-width="0.05">Alphaproteobacteria</text><text x="77.60" y="692.60" font-size="5.3" text-anchor="middle" fill="#111" font-style="italic" stroke="#111" stroke-width="0.05">Coprobacter</text><text x="129.20" y="699.30" font-size="5.3" text-anchor="middle" fill="#111" font-style="italic" stroke="#111" stroke-width="0.05">Pseudomonas</text><text x="172.50" y="696.00" font-size="5.3" text-anchor="middle" fill="#111" stroke="#111" stroke-width="0.05">Epsilonproteobacteria</text><text x="92.00" y="704.20" font-size="5.3" text-anchor="middle" fill="#111" font-style="italic" stroke="#111" stroke-width="0.05">Parabacteroides</text><text x="32.10" y="705.00" font-size="5.3" text-anchor="middle" fill="#111" font-style="italic" stroke="#111" stroke-width="0.05">Alloprevotella</text><text x="203.50" y="704.10" font-size="5.3" text-anchor="middle" fill="#111" stroke="#111" stroke-width="0.05">Betaproteobacteria</text><text x="70.00" y="720.10" font-size="5.3" text-anchor="middle" fill="#111" font-style="italic" stroke="#111" stroke-width="0.05">Barnesiella</text><text x="143.00" y="721.20" font-size="5.3" text-anchor="middle" fill="#111" font-style="italic" stroke="#111" stroke-width="0.05">Pseudomonadaceae</text><text x="194.00" y="722.80" font-size="5.3" text-anchor="middle" fill="#111" stroke="#111" stroke-width="0.05">Proteobacteria</text><text x="98.90" y="727.90" font-size="5.3" text-anchor="middle" fill="#111" font-style="italic" stroke="#111" stroke-width="0.05">Porphyromonadaceae</text><text x="14.40" y="732.90" font-size="5.3" text-anchor="middle" fill="#111" font-style="italic" stroke="#111" stroke-width="0.05">Prevotella</text><text x="44.50" y="734.60" font-size="5.3" text-anchor="middle" fill="#111" font-style="italic" stroke="#111" stroke-width="0.05">Prevotellaceae</text><text x="142.00" y="739.60" font-size="5.3" text-anchor="middle" fill="#111" stroke="#111" stroke-width="0.05">Pseudomonadales</text><text x="191.00" y="739.60" font-size="5.3" text-anchor="middle" fill="#111" font-style="italic" stroke="#111" stroke-width="0.05">Gammaproteobacteria</text><text x="110.50" y="747.00" font-size="5.3" text-anchor="middle" fill="#111" font-style="italic" stroke="#111" stroke-width="0.05">Odoribacter</text><text x="73.50" y="757.80" font-size="5.3" text-anchor="middle" fill="#111" font-style="italic" stroke="#111" stroke-width="0.05">Bacteroidales</text><text x="41.60" y="765.80" font-size="5.3" text-anchor="middle" fill="#111" font-style="italic" stroke="#111" stroke-width="0.05">Rikenellaceae</text><text x="18.50" y="772.50" font-size="5.3" text-anchor="middle" fill="#111" font-style="italic" stroke="#111" stroke-width="0.05">Alistipes</text><text x="107.10" y="778.80" font-size="5.3" text-anchor="middle" fill="#111" stroke="#111" stroke-width="0.05">Bacteroidia</text><text x="69.70" y="785.50" font-size="5.3" text-anchor="middle" fill="#111" font-style="italic" stroke="#111" stroke-width="0.05">Bacteroidaceae</text><text x="142.90" y="786.50" font-size="5.3" text-anchor="middle" fill="#111" stroke="#111" stroke-width="0.05">Bacteroidetes</text><text x="56.40" y="800.60" font-size="5.3" text-anchor="middle" fill="#111" font-style="italic" stroke="#111" stroke-width="0.05">Bacteroides</text><text x="172.30" y="813.30" font-size="5.3" text-anchor="middle" fill="#111" stroke="#111" stroke-width="0.05">Candidatus Saccharibacteria</text><text x="151.40" y="820.70" font-size="5.3" text-anchor="middle" fill="#111" stroke="#111" stroke-width="0.05">Actinobacteria</text><text x="96.20" y="837.50" font-size="5.3" text-anchor="middle" fill="#111" stroke="#111" stroke-width="0.05">Bifidobacteriales</text><text x="31.60" y="841.90" font-size="5.3" text-anchor="middle" fill="#111" font-style="italic" stroke="#111" stroke-width="0.05">Bifidobacterium</text><text x="74.70" y="844.20" font-size="5.3" text-anchor="middle" fill="#111" font-style="italic" stroke="#111" stroke-width="0.05">Bifidobacteriaceae</text><text x="121.20" y="844.90" font-size="5.3" text-anchor="middle" fill="#111" stroke="#111" stroke-width="0.05">Actinobacteria</text><text x="213.30" y="845.90" font-size="5.3" text-anchor="middle" fill="#111" stroke="#111" stroke-width="0.05">Erysipelotrichia</text><text x="97.30" y="871.10" font-size="5.3" text-anchor="middle" fill="#111" font-style="italic" stroke="#111" stroke-width="0.05">Coriobacteriales</text><text x="192.60" y="872.80" font-size="5.3" text-anchor="middle" fill="#111" stroke="#111" stroke-width="0.05">Erysipelotrichales</text><text x="155.60" y="878.80" font-size="5.3" text-anchor="middle" fill="#111" font-style="italic" stroke="#111" stroke-width="0.05">Clostridium XVIII</text><text x="45.30" y="884.50" font-size="5.3" text-anchor="middle" fill="#111" font-style="italic" stroke="#111" stroke-width="0.05">Parvibacter</text><text x="68.20" y="898.60" font-size="5.3" text-anchor="middle" fill="#111" font-style="italic" stroke="#111" stroke-width="0.05">Coriobacteriaceae</text><text x="136.50" y="899.00" font-size="5.3" text-anchor="middle" fill="#111" font-style="italic" stroke="#111" stroke-width="0.05">Coprobacillus</text><text x="163.40" y="905.30" font-size="5.3" text-anchor="middle" fill="#111" font-style="italic" stroke="#111" stroke-width="0.05">Erysipelotrichaceae</text><text x="187.60" y="915.80" font-size="5.3" text-anchor="middle" fill="#111" font-style="italic" stroke="#111" stroke-width="0.05">Turicibacter</text><text x="49.40" y="918.80" font-size="5.3" text-anchor="middle" fill="#111" font-style="italic" stroke="#111" stroke-width="0.05">Enterorhabdus</text><text x="81.90" y="918.80" font-size="5.3" text-anchor="middle" fill="#111" font-style="italic" stroke="#111" stroke-width="0.05">Olsenella</text><text x="139.70" y="929.20" font-size="5.3" text-anchor="middle" fill="#111" font-style="italic" stroke="#111" stroke-width="0.05">Holdemanella</text><text x="165.40" y="939.90" font-size="5.3" text-anchor="middle" fill="#111" font-style="italic" stroke="#111" stroke-width="0.05">Allobaculum</text><text x="286.80" y="614.70" font-size="5.3" text-anchor="middle" fill="#111" font-style="italic" stroke="#111" stroke-width="0.05">Bilophila</text><text x="246.70" y="628.10" font-size="5.3" text-anchor="middle" fill="#111" font-style="italic" stroke="#111" stroke-width="0.05">Vampirovibrio</text><text x="314.00" y="634.00" font-size="5.3" text-anchor="middle" fill="#111" font-style="italic" stroke="#111" stroke-width="0.05">Desulfovibrio</text><text x="287.00" y="642.20" font-size="5.3" text-anchor="middle" fill="#111" font-style="italic" stroke="#111" stroke-width="0.05">Desulfovibrionaceae</text><text x="247.60" y="653.00" font-size="5.3" text-anchor="middle" fill="#111" font-style="italic" stroke="#111" stroke-width="0.05">Bdellovibrionaceae</text><text x="236.00" y="678.20" font-size="5.3" text-anchor="middle" fill="#111" stroke="#111" stroke-width="0.05">Bdellovibrionales</text><text x="279.40" y="677.50" font-size="5.3" text-anchor="middle" fill="#111" font-style="italic" stroke="#111" stroke-width="0.05">Desulfovibrionales</text><text x="243.30" y="698.00" font-size="5.3" text-anchor="middle" fill="#111" stroke="#111" stroke-width="0.05">Deltaproteobacteria</text><text x="341.50" y="699.00" font-size="5.3" text-anchor="middle" fill="#111" font-style="italic" stroke="#111" stroke-width="0.05">Eubacterium</text><text x="372.20" y="702.00" font-size="5.3" text-anchor="middle" fill="#111" font-style="italic" stroke="#111" stroke-width="0.05">Anaerofustis</text><text x="275.40" y="719.50" font-size="5.3" text-anchor="middle" fill="#111" font-style="italic" stroke="#111" stroke-width="0.05">Lactobacillus</text><text x="317.20" y="721.20" font-size="5.3" text-anchor="middle" fill="#111" font-style="italic" stroke="#111" stroke-width="0.05">Acidaminobacter</text><text x="350.90" y="728.60" font-size="5.3" text-anchor="middle" fill="#111" font-style="italic" stroke="#111" stroke-width="0.05">Eubacteriaceae</text><text x="389.00" y="730.90" font-size="5.3" text-anchor="middle" fill="#111" font-style="italic" stroke="#111" stroke-width="0.05">Anaerovorax</text><text x="258.10" y="737.00" font-size="5.3" text-anchor="middle" fill="#111" font-style="italic" stroke="#111" stroke-width="0.05">Lactobacillaceae</text><text x="324.20" y="746.00" font-size="5.3" text-anchor="middle" fill="#111" stroke="#111" stroke-width="0.05">Clostridiales Incertae Sedis XI</text><text x="363.30" y="751.70" font-size="5.3" text-anchor="middle" fill="#111" stroke="#111" stroke-width="0.05">Clostridiales Incertae Sedis XIII</text><text x="298.20" y="752.70" font-size="5.3" text-anchor="middle" fill="#111" font-style="italic" stroke="#111" stroke-width="0.05">Peptococcus</text><text x="241.30" y="759.10" font-size="5.3" text-anchor="middle" fill="#111" font-style="italic" stroke="#111" stroke-width="0.05">Lactobacillales</text><text x="393.30" y="759.40" font-size="5.3" text-anchor="middle" fill="#111" font-style="italic" stroke="#111" stroke-width="0.05">Romboutsia</text><text x="317.60" y="766.80" font-size="5.3" text-anchor="middle" fill="#111" font-style="italic" stroke="#111" stroke-width="0.05">Peptococcaceae 1</text><text x="366.90" y="774.90" font-size="5.3" text-anchor="middle" fill="#111" font-style="italic" stroke="#111" stroke-width="0.05">Peptostreptococcaceae</text><text x="233.40" y="783.30" font-size="5.3" text-anchor="middle" fill="#111" stroke="#111" stroke-width="0.05">Bacilli</text><text x="278.60" y="782.10" font-size="5.3" text-anchor="middle" fill="#111" font-style="italic" stroke="#111" stroke-width="0.05">Christensenella</text><text x="291.60" y="787.80" font-size="5.3" text-anchor="middle" fill="#111" font-style="italic" stroke="#111" stroke-width="0.05">Christensenellaceae</text><text x="397.30" y="787.50" font-size="5.3" text-anchor="middle" fill="#111" font-style="italic" stroke="#111" stroke-width="0.05">Ruminococcus</text><text x="436.60" y="792.20" font-size="5.3" text-anchor="middle" fill="#111" font-style="italic" stroke="#111" stroke-width="0.05">Flavonifractor</text><text x="411.20" y="798.20" font-size="5.3" text-anchor="middle" fill="#111" font-style="italic" stroke="#111" stroke-width="0.05">Hydrogenoanaerobacterium</text><text x="381.80" y="804.90" font-size="5.3" text-anchor="middle" fill="#111" font-style="italic" stroke="#111" stroke-width="0.05">Butyricicoccus</text><text x="369.80" y="818.40" font-size="5.3" text-anchor="middle" fill="#111" stroke="#111" stroke-width="0.05">Clostridium IV</text><text x="426.30" y="816.30" font-size="5.3" text-anchor="middle" fill="#111" stroke="#111" stroke-width="0.05">Clostridium III</text><text x="326.50" y="821.00" font-size="5.3" text-anchor="middle" fill="#111" font-style="italic" stroke="#111" stroke-width="0.05">Clostridiaceae 1</text><text x="393.20" y="827.80" font-size="5.3" text-anchor="middle" fill="#111" font-style="italic" stroke="#111" stroke-width="0.05">Ruminococcaceae</text><text x="445.20" y="833.40" font-size="5.3" text-anchor="middle" fill="#111" font-style="italic" stroke="#111" stroke-width="0.05">Acetanaerobacterium</text><text x="367.80" y="839.80" font-size="5.3" text-anchor="middle" fill="#111" font-style="italic" stroke="#111" stroke-width="0.05">Pseudoflavonifractor</text><text x="424.20" y="842.90" font-size="5.3" text-anchor="middle" fill="#111" font-style="italic" stroke="#111" stroke-width="0.05">Gemmiger</text><text x="327.20" y="846.20" font-size="5.3" text-anchor="middle" fill="#111" stroke="#111" stroke-width="0.05">Clostridium sensu stricto</text><text x="389.50" y="852.60" font-size="5.3" text-anchor="middle" fill="#111" font-style="italic" stroke="#111" stroke-width="0.05">Oscillibacter</text><text x="370.20" y="865.00" font-size="5.3" text-anchor="middle" fill="#111" font-style="italic" stroke="#111" stroke-width="0.05">Intestinimonas</text><text x="426.60" y="864.00" font-size="5.3" text-anchor="middle" fill="#111" font-style="italic" stroke="#111" stroke-width="0.05">Sporobacter</text><text x="402.80" y="872.80" font-size="5.3" text-anchor="middle" fill="#111" font-style="italic" stroke="#111" stroke-width="0.05">Anaerotruncus</text><text x="282.00" y="882.20" font-size="5.3" text-anchor="middle" fill="#111" font-style="italic" stroke="#111" stroke-width="0.05">Coprococcus</text><text x="267.80" y="894.20" font-size="5.3" text-anchor="middle" fill="#111" font-style="italic" stroke="#111" stroke-width="0.05">Stomatobaculum</text><text x="303.00" y="897.30" font-size="5.3" text-anchor="middle" fill="#111" font-style="italic" stroke="#111" stroke-width="0.05">Lachnospira</text><text x="234.40" y="899.60" font-size="5.3" text-anchor="middle" fill="#111" font-style="italic" stroke="#111" stroke-width="0.05">Eisenbergiella</text><text x="330.20" y="918.10" font-size="5.3" text-anchor="middle" fill="#111" font-style="italic" stroke="#111" stroke-width="0.05">Acetatifactor</text><text x="249.60" y="921.40" font-size="5.3" text-anchor="middle" fill="#111" font-style="italic" stroke="#111" stroke-width="0.05">Marvinbryantia</text><text x="306.90" y="933.20" font-size="5.3" text-anchor="middle" fill="#111" font-style="italic" stroke="#111" stroke-width="0.05">Clostridium XlVa</text><text x="237.40" y="943.50" font-size="5.3" text-anchor="middle" fill="#111" font-style="italic" stroke="#111" stroke-width="0.05">Roseburia</text><text x="261.10" y="941.90" font-size="5.3" text-anchor="middle" fill="#111" font-style="italic" stroke="#111" stroke-width="0.05">Dorea</text><text x="286.30" y="949.90" font-size="5.3" text-anchor="middle" fill="#111" font-style="italic" stroke="#111" stroke-width="0.05">Robinsoniella</text><text x="311.70" y="959.30" font-size="5.3" text-anchor="middle" fill="#111" font-style="italic" stroke="#111" stroke-width="0.05">Clostridium XlVb</text><text x="268.80" y="968.10" font-size="5.3" text-anchor="middle" fill="#111" font-style="italic" stroke="#111" stroke-width="0.05">Ruminococcus 2</text><text x="189.10" y="793.60" font-size="9.1" text-anchor="middle" fill="#111" stroke="#111" stroke-width="0.15">Bacteria</text><text x="262.60" y="814.10" font-size="9.0" text-anchor="middle" fill="#111" stroke="#111" stroke-width="0.15">Firmicutes Clostridia</text><text x="348.00" y="794.60" font-size="9.2" text-anchor="middle" fill="#111" font-style="italic" stroke="#111" stroke-width="0.15">Clostridiales</text><text x="277.40" y="913.20" font-size="9.0" text-anchor="middle" fill="#111" font-style="italic" stroke="#111" stroke-width="0.15">Lachnospiraceae</text><defs><linearGradient id="sc" x1="0" y1="0" x2="0" y2="1">
<stop offset="0" stop-color="#a6611a"/><stop offset="0.5" stop-color="#e8e8e8"/><stop offset="1" stop-color="#018571"/></linearGradient></defs><path d="M435.9,626.2 L443.8,626.2 L455.2,699.8 L435.9,699.8 Z" fill="url(#sc)"/><text x="441.20" y="620.60" font-size="7.4" text-anchor="middle" fill="#b77b3f" stroke="#b77b3f" stroke-width="0.1">Group 1</text><text x="445.30" y="713.00" font-size="7.4" text-anchor="middle" fill="#1f9a85" stroke="#1f9a85" stroke-width="0.1">Group 2</text><text x="432.80" y="628.80" font-size="7.2" text-anchor="end" stroke="#231f20" stroke-width="0.1">–5.00</text><text x="432.80" y="640.80" font-size="7.2" text-anchor="end" stroke="#231f20" stroke-width="0.1">–3.33</text><text x="432.80" y="653.20" font-size="7.2" text-anchor="end" stroke="#231f20" stroke-width="0.1">–1.67</text><text x="432.80" y="665.60" font-size="7.2" text-anchor="end" stroke="#231f20" stroke-width="0.1">0</text><text x="432.80" y="677.70" font-size="7.2" text-anchor="end" stroke="#231f20" stroke-width="0.1">1.67</text><text x="432.80" y="690.10" font-size="7.2" text-anchor="end" stroke="#231f20" stroke-width="0.1">3.33</text><text x="432.80" y="702.40" font-size="7.2" text-anchor="end" stroke="#231f20" stroke-width="0.1">5.00</text><text x="408.80" y="663.00" font-size="7.4" text-anchor="middle" stroke="#231f20" stroke-width="0.1" transform="rotate(-90 408.8 663)">Score</text><path d="M560.84,690.70 L580.52,700.89" stroke="#c4d9d5" stroke-width="5.26" stroke-linecap="round"/><path d="M580.52,700.89 L603.02,700.89" stroke="#c4d9d5" stroke-width="6.35" stroke-linecap="round"/><path d="M603.02,700.89 L628.97,692.31" stroke="#c4d9d5" stroke-width="5.69" stroke-linecap="round"/><path d="M560.84,690.70 L563.33,659.26" stroke="#dadada" stroke-width="3.72" stroke-linecap="round"/><path d="M563.33,659.26 L550.83,648.29" stroke="#dadada" stroke-width="2.85" stroke-linecap="round"/><path d="M550.83,648.29 L541.15,635.19" stroke="#dadada" stroke-width="2.85" stroke-linecap="round"/><path d="M541.15,635.19 L530.78,626.16" stroke="#dadada" stroke-width="2.85" stroke-linecap="round"/><path d="M530.78,626.16 L522.44,617.17" stroke="#dadada" stroke-width="2.85" stroke-linecap="round"/><path d="M563.33,659.26 L558.35,639.07" stroke="#dadada" stroke-width="2.85" stroke-linecap="round"/><path d="M558.35,639.07 L554.75,626.39" stroke="#dadada" stroke-width="2.85" stroke-linecap="round"/><path d="M554.75,626.39 L550.83,612.79" stroke="#dadada" stroke-width="2.85" stroke-linecap="round"/><path d="M550.83,612.79 L547.05,601.50" stroke="#dadada" stroke-width="2.85" stroke-linecap="round"/><path d="M563.33,659.26 L569.87,649.53" stroke="#dadada" stroke-width="2.85" stroke-linecap="round"/><path d="M569.87,649.53 L571.07,635.19" stroke="#dadada" stroke-width="2.85" stroke-linecap="round"/><path d="M571.07,635.19 L569.37,621.78" stroke="#dadada" stroke-width="2.85" stroke-linecap="round"/><path d="M569.37,621.78 L570.89,607.95" stroke="#dadada" stroke-width="2.85" stroke-linecap="round"/><path d="M563.33,659.26 L584.26,648.84" stroke="#dadada" stroke-width="3.02" stroke-linecap="round"/><path d="M584.26,648.84 L586.42,638.84" stroke="#dadada" stroke-width="2.85" stroke-linecap="round"/><path d="M586.42,638.84 L588.87,627.31" stroke="#dadada" stroke-width="2.85" stroke-linecap="round"/><path d="M588.87,627.31 L588.41,615.79" stroke="#dadada" stroke-width="2.85" stroke-linecap="round"/><path d="M584.26,648.84 L600.53,638.70" stroke="#d6c4b0" stroke-width="2.85" stroke-linecap="round"/><path d="M600.53,638.70 L606.75,621.69" stroke="#d6c4b0" stroke-width="2.85" stroke-linecap="round"/><path d="M606.75,621.69 L606.75,609.29" stroke="#d6c4b0" stroke-width="2.85" stroke-linecap="round"/><path d="M606.75,621.69 L619.11,617.81" stroke="#dadada" stroke-width="2.85" stroke-linecap="round"/><path d="M563.33,659.26 L556.60,667.19" stroke="#dadada" stroke-width="2.85" stroke-linecap="round"/><path d="M556.60,667.19 L547.15,667.19" stroke="#dadada" stroke-width="2.85" stroke-linecap="round"/><path d="M547.15,667.19 L539.77,658.94" stroke="#dadada" stroke-width="2.85" stroke-linecap="round"/><path d="M539.77,658.94 L536.45,648.52" stroke="#dadada" stroke-width="2.85" stroke-linecap="round"/><path d="M560.84,690.70 L541.94,688.85" stroke="#dadada" stroke-width="3.94" stroke-linecap="round"/><path d="M541.94,688.85 L524.65,685.40" stroke="#dadada" stroke-width="3.94" stroke-linecap="round"/><path d="M524.65,685.40 L508.05,674.79" stroke="#dadada" stroke-width="3.72" stroke-linecap="round"/><path d="M508.05,674.79 L494.13,664.97" stroke="#dadada" stroke-width="2.85" stroke-linecap="round"/><path d="M494.13,664.97 L481.09,664.05" stroke="#dadada" stroke-width="2.85" stroke-linecap="round"/><path d="M494.13,664.97 L489.24,651.28" stroke="#d6c4b0" stroke-width="2.85" stroke-linecap="round"/><path d="M508.05,674.79 L517.41,661.79" stroke="#c4d9d5" stroke-width="3.55" stroke-linecap="round"/><path d="M517.41,661.79 L510.54,645.61" stroke="#dadada" stroke-width="2.85" stroke-linecap="round"/><path d="M517.41,661.79 L521.47,648.98" stroke="#dadada" stroke-width="2.85" stroke-linecap="round"/><path d="M517.41,661.79 L507.73,658.20" stroke="#c4d9d5" stroke-width="3.13" stroke-linecap="round"/><path d="M517.41,661.79 L525.16,670.32" stroke="#dadada" stroke-width="2.85" stroke-linecap="round"/><path d="M508.05,674.79 L493.72,679.04" stroke="#d6c4b0" stroke-width="2.85" stroke-linecap="round"/><path d="M493.72,679.04 L483.07,682.45" stroke="#d6c4b0" stroke-width="2.85" stroke-linecap="round"/><path d="M508.05,674.79 L507.41,688.53" stroke="#dadada" stroke-width="2.85" stroke-linecap="round"/><path d="M507.41,688.53 L500.72,695.26" stroke="#dadada" stroke-width="2.85" stroke-linecap="round"/><path d="M560.84,690.70 L544.75,704.76" stroke="#dadada" stroke-width="3.13" stroke-linecap="round"/><path d="M544.75,704.76 L530.69,715.55" stroke="#dadada" stroke-width="3.13" stroke-linecap="round"/><path d="M530.69,715.55 L518.47,712.13" stroke="#dadada" stroke-width="2.85" stroke-linecap="round"/><path d="M518.47,712.13 L505.89,714.81" stroke="#dadada" stroke-width="2.85" stroke-linecap="round"/><path d="M505.89,714.81 L493.44,714.67" stroke="#dadada" stroke-width="2.85" stroke-linecap="round"/><path d="M530.69,715.55 L519.53,727.81" stroke="#dadada" stroke-width="2.85" stroke-linecap="round"/><path d="M519.53,727.81 L505.89,740.39" stroke="#dadada" stroke-width="2.85" stroke-linecap="round"/><path d="M505.89,740.39 L495.75,734.03" stroke="#dadada" stroke-width="2.85" stroke-linecap="round"/><path d="M505.89,740.39 L497.59,749.71" stroke="#dadada" stroke-width="2.85" stroke-linecap="round"/><path d="M505.89,740.39 L512.34,749.71" stroke="#dadada" stroke-width="2.85" stroke-linecap="round"/><path d="M580.52,700.89 L582.60,687.24" stroke="#dadada" stroke-width="2.85" stroke-linecap="round"/><path d="M582.60,687.24 L585.87,675.95" stroke="#dadada" stroke-width="2.85" stroke-linecap="round"/><path d="M585.87,675.95 L593.57,665.90" stroke="#dadada" stroke-width="2.85" stroke-linecap="round"/><path d="M593.57,665.90 L602.10,657.28" stroke="#dadada" stroke-width="2.85" stroke-linecap="round"/><path d="M580.52,700.89 L572.87,716.28" stroke="#dadada" stroke-width="3.13" stroke-linecap="round"/><path d="M572.87,716.28 L563.60,728.04" stroke="#dadada" stroke-width="3.13" stroke-linecap="round"/><path d="M563.60,728.04 L550.14,742.88" stroke="#dadada" stroke-width="3.13" stroke-linecap="round"/><path d="M550.14,742.88 L547.10,731.17" stroke="#dadada" stroke-width="2.85" stroke-linecap="round"/><path d="M550.14,742.88 L537.74,740.49" stroke="#dadada" stroke-width="2.85" stroke-linecap="round"/><path d="M550.14,742.88 L560.79,748.37" stroke="#b5651d" stroke-width="2.85" stroke-linecap="round"/><path d="M550.14,742.88 L538.99,754.41" stroke="#b5651d" stroke-width="2.85" stroke-linecap="round"/><path d="M550.14,742.88 L551.57,759.34" stroke="#178b76" stroke-width="2.85" stroke-linecap="round"/><path d="M628.97,692.31 L614.50,689.32" stroke="#dadada" stroke-width="2.85" stroke-linecap="round"/><path d="M614.50,689.32 L605.00,686.78" stroke="#dadada" stroke-width="2.85" stroke-linecap="round"/><path d="M628.97,692.31 L636.17,661.89" stroke="#dadada" stroke-width="2.85" stroke-linecap="round"/><path d="M636.17,661.89 L633.12,648.29" stroke="#dadada" stroke-width="2.85" stroke-linecap="round"/><path d="M636.17,661.89 L645.34,649.44" stroke="#dadada" stroke-width="2.85" stroke-linecap="round"/><path d="M628.97,692.31 L626.30,670.09" stroke="#dadada" stroke-width="2.85" stroke-linecap="round"/><path d="M626.30,670.09 L620.86,658.34" stroke="#dadada" stroke-width="2.85" stroke-linecap="round"/><path d="M628.97,692.31 L644.33,672.77" stroke="#dadada" stroke-width="2.85" stroke-linecap="round"/><path d="M644.33,672.77 L653.87,662.90" stroke="#dadada" stroke-width="2.85" stroke-linecap="round"/><path d="M628.97,692.31 L620.22,679.68" stroke="#dadada" stroke-width="2.85" stroke-linecap="round"/><path d="M620.22,679.68 L611.69,673.18" stroke="#dadada" stroke-width="2.85" stroke-linecap="round"/><path d="M628.97,692.31 L643.96,683.65" stroke="#b5651d" stroke-width="2.85" stroke-linecap="round"/><path d="M643.96,683.65 L656.22,676.55" stroke="#b5651d" stroke-width="2.85" stroke-linecap="round"/><path d="M628.97,692.31 L629.43,703.38" stroke="#b5651d" stroke-width="2.85" stroke-linecap="round"/><path d="M629.43,703.38 L626.58,716.38" stroke="#b5651d" stroke-width="2.85" stroke-linecap="round"/><path d="M628.97,692.31 L658.02,708.17" stroke="#dadada" stroke-width="3.94" stroke-linecap="round"/><path d="M658.02,708.17 L656.17,689.18" stroke="#7fbfb3" stroke-width="2.73" stroke-linecap="round"/><path d="M658.02,708.17 L664.33,693.60" stroke="#dadada" stroke-width="2.73" stroke-linecap="round"/><path d="M658.02,708.17 L676.18,690.56" stroke="#dadada" stroke-width="2.73" stroke-linecap="round"/><path d="M658.02,708.17 L651.10,697.06" stroke="#dadada" stroke-width="2.73" stroke-linecap="round"/><path d="M658.02,708.17 L642.20,703.65" stroke="#dadada" stroke-width="2.73" stroke-linecap="round"/><path d="M658.02,708.17 L671.75,702.45" stroke="#dadada" stroke-width="2.73" stroke-linecap="round"/><path d="M658.02,708.17 L680.61,710.29" stroke="#dadada" stroke-width="2.73" stroke-linecap="round"/><path d="M658.02,708.17 L644.28,713.29" stroke="#dadada" stroke-width="2.73" stroke-linecap="round"/><path d="M658.02,708.17 L670.10,714.99" stroke="#dadada" stroke-width="2.73" stroke-linecap="round"/><path d="M658.02,708.17 L653.78,719.74" stroke="#dadada" stroke-width="2.73" stroke-linecap="round"/><path d="M658.02,708.17 L645.29,724.58" stroke="#dadada" stroke-width="2.73" stroke-linecap="round"/><path d="M658.02,708.17 L671.39,724.58" stroke="#dadada" stroke-width="2.73" stroke-linecap="round"/><path d="M658.02,708.17 L660.23,728.27" stroke="#7fbfb3" stroke-width="2.73" stroke-linecap="round"/><path d="M628.97,692.31 L606.11,750.17" stroke="#c4d9d5" stroke-width="5.47" stroke-linecap="round"/><path d="M606.11,750.17 L604.77,733.02" stroke="#dadada" stroke-width="2.73" stroke-linecap="round"/><path d="M606.11,750.17 L596.34,738.55" stroke="#dadada" stroke-width="2.73" stroke-linecap="round"/><path d="M606.11,750.17 L614.64,740.03" stroke="#dadada" stroke-width="2.73" stroke-linecap="round"/><path d="M606.11,750.17 L584.49,740.49" stroke="#178b76" stroke-width="2.73" stroke-linecap="round"/><path d="M606.11,750.17 L623.53,748.92" stroke="#dadada" stroke-width="2.73" stroke-linecap="round"/><path d="M606.11,750.17 L590.57,751.14" stroke="#178b76" stroke-width="2.73" stroke-linecap="round"/><path d="M606.11,750.17 L615.74,756.30" stroke="#7fbfb3" stroke-width="2.73" stroke-linecap="round"/><path d="M606.11,750.17 L583.75,761.51" stroke="#dadada" stroke-width="2.73" stroke-linecap="round"/><path d="M606.11,750.17 L595.74,760.40" stroke="#dadada" stroke-width="2.73" stroke-linecap="round"/><path d="M606.11,750.17 L606.48,764.09" stroke="#dadada" stroke-width="2.73" stroke-linecap="round"/><path d="M606.11,750.17 L618.32,768.75" stroke="#dadada" stroke-width="2.73" stroke-linecap="round"/><path d="M606.11,750.17 L598.73,772.62" stroke="#dadada" stroke-width="2.73" stroke-linecap="round"/><circle cx="560.84" cy="690.70" r="7.10" fill="#c4d9d5"/><circle cx="580.52" cy="700.89" r="6.64" fill="#c4d9d5"/><circle cx="603.02" cy="700.89" r="6.64" fill="#c4d9d5"/><circle cx="628.97" cy="692.31" r="5.76" fill="#c4d9d5"/><circle cx="563.33" cy="659.26" r="3.00" fill="#dadada"/><circle cx="550.83" cy="648.29" r="2.95" fill="#dadada"/><circle cx="541.15" cy="635.19" r="2.95" fill="#dadada"/><circle cx="530.78" cy="626.16" r="2.95" fill="#dadada"/><circle cx="522.44" cy="617.17" r="3.13" fill="#dadada"/><circle cx="558.35" cy="639.07" r="2.95" fill="#dadada"/><circle cx="554.75" cy="626.39" r="2.95" fill="#dadada"/><circle cx="550.83" cy="612.79" r="2.95" fill="#dadada"/><circle cx="547.05" cy="601.50" r="3.13" fill="#dadada"/><circle cx="569.87" cy="649.53" r="2.95" fill="#dadada"/><circle cx="571.07" cy="635.19" r="2.95" fill="#dadada"/><circle cx="569.37" cy="621.78" r="2.95" fill="#dadada"/><circle cx="570.89" cy="607.95" r="3.13" fill="#dadada"/><circle cx="584.26" cy="648.84" r="2.95" fill="#dadada"/><circle cx="586.42" cy="638.84" r="2.95" fill="#dadada"/><circle cx="588.87" cy="627.31" r="2.95" fill="#dadada"/><circle cx="588.41" cy="615.79" r="3.13" fill="#dadada"/><circle cx="600.53" cy="638.70" r="2.95" fill="#d6c4b0"/><circle cx="606.75" cy="621.69" r="2.95" fill="#d6c4b0"/><circle cx="606.75" cy="609.29" r="3.13" fill="#d6c4b0"/><circle cx="619.11" cy="617.81" r="3.13" fill="#dadada"/><circle cx="556.60" cy="667.19" r="2.95" fill="#dadada"/><circle cx="547.15" cy="667.19" r="2.95" fill="#dadada"/><circle cx="539.77" cy="658.94" r="2.95" fill="#dadada"/><circle cx="536.45" cy="648.52" r="3.13" fill="#dadada"/><circle cx="541.94" cy="688.85" r="4.15" fill="#dadada"/><circle cx="524.65" cy="685.40" r="4.15" fill="#dadada"/><circle cx="508.05" cy="674.79" r="3.92" fill="#dadada"/><circle cx="494.13" cy="664.97" r="3.04" fill="#dadada"/><circle cx="481.09" cy="664.05" r="3.13" fill="#dadada"/><circle cx="489.24" cy="651.28" r="3.13" fill="#d6c4b0"/><circle cx="517.41" cy="661.79" r="3.23" fill="#c4d9d5"/><circle cx="510.54" cy="645.61" r="3.00" fill="#dadada"/><circle cx="521.47" cy="648.98" r="3.00" fill="#dadada"/><circle cx="507.73" cy="658.20" r="3.69" fill="#c4d9d5"/><circle cx="525.16" cy="670.32" r="3.00" fill="#dadada"/><circle cx="493.72" cy="679.04" r="3.13" fill="#d6c4b0"/><circle cx="483.07" cy="682.45" r="3.23" fill="#d6c4b0"/><circle cx="507.41" cy="688.53" r="3.00" fill="#dadada"/><circle cx="500.72" cy="695.26" r="3.23" fill="#dadada"/><circle cx="560.75" cy="701.39" r="3.00" fill="#c6976b"/><circle cx="544.75" cy="704.76" r="3.00" fill="#dadada"/><circle cx="530.69" cy="715.55" r="3.00" fill="#dadada"/><circle cx="518.47" cy="712.13" r="2.95" fill="#dadada"/><circle cx="505.89" cy="714.81" r="2.95" fill="#dadada"/><circle cx="493.44" cy="714.67" r="3.13" fill="#dadada"/><circle cx="519.53" cy="727.81" r="2.95" fill="#dadada"/><circle cx="505.89" cy="740.39" r="2.95" fill="#dadada"/><circle cx="495.75" cy="734.03" r="3.00" fill="#dadada"/><circle cx="497.59" cy="749.71" r="3.00" fill="#dadada"/><circle cx="512.34" cy="749.71" r="3.00" fill="#dadada"/><circle cx="582.60" cy="687.24" r="2.95" fill="#dadada"/><circle cx="585.87" cy="675.95" r="2.95" fill="#dadada"/><circle cx="593.57" cy="665.90" r="2.95" fill="#dadada"/><circle cx="602.10" cy="657.28" r="3.13" fill="#dadada"/><circle cx="572.87" cy="716.28" r="2.95" fill="#dadada"/><circle cx="563.60" cy="728.04" r="2.95" fill="#dadada"/><circle cx="550.14" cy="742.88" r="2.95" fill="#dadada"/><circle cx="547.10" cy="731.17" r="3.00" fill="#dadada"/><circle cx="537.74" cy="740.49" r="3.00" fill="#dadada"/><circle cx="560.79" cy="748.37" r="3.00" fill="#b5651d"/><circle cx="538.99" cy="754.41" r="3.00" fill="#b5651d"/><circle cx="551.57" cy="759.34" r="3.13" fill="#178b76"/><circle cx="614.50" cy="689.32" r="2.95" fill="#dadada"/><circle cx="605.00" cy="686.78" r="3.00" fill="#dadada"/><circle cx="636.17" cy="661.89" r="2.95" fill="#dadada"/><circle cx="633.12" cy="648.29" r="3.13" fill="#dadada"/><circle cx="645.34" cy="649.44" r="3.00" fill="#dadada"/><circle cx="626.30" cy="670.09" r="2.95" fill="#dadada"/><circle cx="620.86" cy="658.34" r="3.00" fill="#dadada"/><circle cx="644.33" cy="672.77" r="2.95" fill="#dadada"/><circle cx="653.87" cy="662.90" r="3.00" fill="#dadada"/><circle cx="620.22" cy="679.68" r="2.95" fill="#dadada"/><circle cx="611.69" cy="673.18" r="3.00" fill="#dadada"/><circle cx="643.96" cy="683.65" r="2.95" fill="#b5651d"/><circle cx="656.22" cy="676.55" r="3.00" fill="#b5651d"/><circle cx="629.43" cy="703.38" r="2.95" fill="#b5651d"/><circle cx="626.58" cy="716.38" r="3.00" fill="#b5651d"/><circle cx="658.02" cy="708.17" r="3.69" fill="#dadada"/><circle cx="656.17" cy="689.18" r="3.04" fill="#7fbfb3"/><circle cx="664.33" cy="693.60" r="3.04" fill="#dadada"/><circle cx="676.18" cy="690.56" r="3.04" fill="#dadada"/><circle cx="651.10" cy="697.06" r="3.04" fill="#dadada"/><circle cx="642.20" cy="703.65" r="3.04" fill="#dadada"/><circle cx="671.75" cy="702.45" r="3.04" fill="#dadada"/><circle cx="680.61" cy="710.29" r="3.04" fill="#dadada"/><circle cx="644.28" cy="713.29" r="3.04" fill="#dadada"/><circle cx="670.10" cy="714.99" r="3.04" fill="#dadada"/><circle cx="653.78" cy="719.74" r="3.04" fill="#dadada"/><circle cx="645.29" cy="724.58" r="3.04" fill="#dadada"/><circle cx="671.39" cy="724.58" r="3.04" fill="#dadada"/><circle cx="660.23" cy="728.27" r="3.04" fill="#7fbfb3"/><circle cx="606.11" cy="750.17" r="5.76" fill="#c4d9d5"/><circle cx="604.77" cy="733.02" r="3.00" fill="#dadada"/><circle cx="596.34" cy="738.55" r="3.00" fill="#dadada"/><circle cx="614.64" cy="740.03" r="3.00" fill="#dadada"/><circle cx="584.49" cy="740.49" r="3.13" fill="#178b76"/><circle cx="623.53" cy="748.92" r="3.23" fill="#dadada"/><circle cx="590.57" cy="751.14" r="3.13" fill="#178b76"/><circle cx="615.74" cy="756.30" r="4.15" fill="#7fbfb3"/><circle cx="583.75" cy="761.51" r="3.23" fill="#dadada"/><circle cx="595.74" cy="760.40" r="3.23" fill="#dadada"/><circle cx="606.48" cy="764.09" r="3.23" fill="#dadada"/><circle cx="618.32" cy="768.75" r="3.69" fill="#dadada"/><circle cx="598.73" cy="772.62" r="3.23" fill="#dadada"/><path d="M560.84,899.30 L580.52,909.49" stroke="#dadada" stroke-width="5.26" stroke-linecap="round"/><path d="M580.52,909.49 L603.02,909.49" stroke="#dadada" stroke-width="6.35" stroke-linecap="round"/><path d="M603.02,909.49 L628.97,900.91" stroke="#dadada" stroke-width="5.69" stroke-linecap="round"/><path d="M560.84,899.30 L563.33,867.86" stroke="#dadada" stroke-width="3.72" stroke-linecap="round"/><path d="M563.33,867.86 L550.83,856.89" stroke="#b5651d" stroke-width="2.85" stroke-linecap="round"/><path d="M550.83,856.89 L541.15,843.79" stroke="#b5651d" stroke-width="2.85" stroke-linecap="round"/><path d="M541.15,843.79 L530.78,834.76" stroke="#b5651d" stroke-width="2.85" stroke-linecap="round"/><path d="M530.78,834.76 L522.44,825.77" stroke="#b5651d" stroke-width="2.85" stroke-linecap="round"/><path d="M563.33,867.86 L558.35,847.67" stroke="#dadada" stroke-width="2.85" stroke-linecap="round"/><path d="M558.35,847.67 L554.75,834.99" stroke="#dadada" stroke-width="2.85" stroke-linecap="round"/><path d="M554.75,834.99 L550.83,821.39" stroke="#dadada" stroke-width="2.85" stroke-linecap="round"/><path d="M550.83,821.39 L547.05,810.10" stroke="#dadada" stroke-width="2.85" stroke-linecap="round"/><path d="M563.33,867.86 L569.87,858.13" stroke="#dadada" stroke-width="2.85" stroke-linecap="round"/><path d="M569.87,858.13 L571.07,843.79" stroke="#dadada" stroke-width="2.85" stroke-linecap="round"/><path d="M571.07,843.79 L569.37,830.38" stroke="#dadada" stroke-width="2.85" stroke-linecap="round"/><path d="M569.37,830.38 L570.89,816.55" stroke="#dadada" stroke-width="2.85" stroke-linecap="round"/><path d="M563.33,867.86 L584.26,857.44" stroke="#dadada" stroke-width="3.02" stroke-linecap="round"/><path d="M584.26,857.44 L586.42,847.44" stroke="#7fbfb3" stroke-width="2.85" stroke-linecap="round"/><path d="M586.42,847.44 L588.87,835.91" stroke="#7fbfb3" stroke-width="2.85" stroke-linecap="round"/><path d="M588.87,835.91 L588.41,824.39" stroke="#7fbfb3" stroke-width="2.85" stroke-linecap="round"/><path d="M584.26,857.44 L600.53,847.30" stroke="#d6c4b0" stroke-width="2.85" stroke-linecap="round"/><path d="M600.53,847.30 L606.75,830.29" stroke="#d6c4b0" stroke-width="2.85" stroke-linecap="round"/><path d="M606.75,830.29 L606.75,817.89" stroke="#d6c4b0" stroke-width="2.85" stroke-linecap="round"/><path d="M606.75,830.29 L619.11,826.41" stroke="#dadada" stroke-width="2.85" stroke-linecap="round"/><path d="M563.33,867.86 L556.60,875.79" stroke="#dadada" stroke-width="2.85" stroke-linecap="round"/><path d="M556.60,875.79 L547.15,875.79" stroke="#dadada" stroke-width="2.85" stroke-linecap="round"/><path d="M547.15,875.79 L539.77,867.54" stroke="#dadada" stroke-width="2.85" stroke-linecap="round"/><path d="M539.77,867.54 L536.45,857.12" stroke="#dadada" stroke-width="2.85" stroke-linecap="round"/><path d="M560.84,899.30 L541.94,897.45" stroke="#dadada" stroke-width="3.94" stroke-linecap="round"/><path d="M541.94,897.45 L524.65,894.00" stroke="#dadada" stroke-width="3.94" stroke-linecap="round"/><path d="M524.65,894.00 L508.05,883.39" stroke="#dadada" stroke-width="3.72" stroke-linecap="round"/><path d="M508.05,883.39 L494.13,873.57" stroke="#dadada" stroke-width="2.85" stroke-linecap="round"/><path d="M494.13,873.57 L481.09,872.65" stroke="#dadada" stroke-width="2.85" stroke-linecap="round"/><path d="M494.13,873.57 L489.24,859.88" stroke="#dadada" stroke-width="2.85" stroke-linecap="round"/><path d="M508.05,883.39 L517.41,870.39" stroke="#dadada" stroke-width="3.55" stroke-linecap="round"/><path d="M517.41,870.39 L510.54,854.21" stroke="#dadada" stroke-width="2.85" stroke-linecap="round"/><path d="M517.41,870.39 L521.47,857.58" stroke="#dadada" stroke-width="2.85" stroke-linecap="round"/><path d="M517.41,870.39 L507.73,866.80" stroke="#d9d9d9" stroke-width="3.13" stroke-linecap="round"/><path d="M517.41,870.39 L525.16,878.92" stroke="#dadada" stroke-width="2.85" stroke-linecap="round"/><path d="M508.05,883.39 L493.72,887.64" stroke="#dadada" stroke-width="2.85" stroke-linecap="round"/><path d="M493.72,887.64 L483.07,891.05" stroke="#d6c4b0" stroke-width="2.85" stroke-linecap="round"/><path d="M508.05,883.39 L507.41,897.13" stroke="#dadada" stroke-width="2.85" stroke-linecap="round"/><path d="M507.41,897.13 L500.72,903.86" stroke="#dadada" stroke-width="2.85" stroke-linecap="round"/><path d="M560.84,899.30 L544.75,913.36" stroke="#dadada" stroke-width="3.13" stroke-linecap="round"/><path d="M544.75,913.36 L530.69,924.15" stroke="#dadada" stroke-width="3.13" stroke-linecap="round"/><path d="M530.69,924.15 L518.47,920.73" stroke="#dadada" stroke-width="2.85" stroke-linecap="round"/><path d="M518.47,920.73 L505.89,923.41" stroke="#dadada" stroke-width="2.85" stroke-linecap="round"/><path d="M505.89,923.41 L493.44,923.27" stroke="#dadada" stroke-width="2.85" stroke-linecap="round"/><path d="M530.69,924.15 L519.53,936.41" stroke="#dadada" stroke-width="2.85" stroke-linecap="round"/><path d="M519.53,936.41 L505.89,948.99" stroke="#dadada" stroke-width="2.85" stroke-linecap="round"/><path d="M505.89,948.99 L495.75,942.63" stroke="#dadada" stroke-width="2.85" stroke-linecap="round"/><path d="M505.89,948.99 L497.59,958.31" stroke="#d6c4b0" stroke-width="2.85" stroke-linecap="round"/><path d="M505.89,948.99 L512.34,958.31" stroke="#dadada" stroke-width="2.85" stroke-linecap="round"/><path d="M580.52,909.49 L582.60,895.84" stroke="#dadada" stroke-width="2.85" stroke-linecap="round"/><path d="M582.60,895.84 L585.87,884.55" stroke="#dadada" stroke-width="2.85" stroke-linecap="round"/><path d="M585.87,884.55 L593.57,874.50" stroke="#dadada" stroke-width="2.85" stroke-linecap="round"/><path d="M593.57,874.50 L602.10,865.88" stroke="#dadada" stroke-width="2.85" stroke-linecap="round"/><path d="M580.52,909.49 L572.87,924.88" stroke="#55aa9a" stroke-width="3.13" stroke-linecap="round"/><path d="M572.87,924.88 L563.60,936.64" stroke="#55aa9a" stroke-width="3.13" stroke-linecap="round"/><path d="M563.60,936.64 L550.14,951.48" stroke="#55aa9a" stroke-width="3.13" stroke-linecap="round"/><path d="M550.14,951.48 L547.10,939.77" stroke="#dadada" stroke-width="2.85" stroke-linecap="round"/><path d="M550.14,951.48 L537.74,949.09" stroke="#dadada" stroke-width="2.85" stroke-linecap="round"/><path d="M550.14,951.48 L560.79,956.97" stroke="#dadada" stroke-width="2.85" stroke-linecap="round"/><path d="M550.14,951.48 L538.99,963.01" stroke="#b5651d" stroke-width="2.85" stroke-linecap="round"/><path d="M550.14,951.48 L551.57,967.94" stroke="#2a9a86" stroke-width="2.85" stroke-linecap="round"/><path d="M628.97,900.91 L614.50,897.92" stroke="#dadada" stroke-width="2.85" stroke-linecap="round"/><path d="M614.50,897.92 L605.00,895.38" stroke="#dadada" stroke-width="2.85" stroke-linecap="round"/><path d="M628.97,900.91 L636.17,870.49" stroke="#dadada" stroke-width="2.85" stroke-linecap="round"/><path d="M636.17,870.49 L633.12,856.89" stroke="#dadada" stroke-width="2.85" stroke-linecap="round"/><path d="M636.17,870.49 L645.34,858.04" stroke="#dadada" stroke-width="2.85" stroke-linecap="round"/><path d="M628.97,900.91 L626.30,878.69" stroke="#dadada" stroke-width="2.85" stroke-linecap="round"/><path d="M626.30,878.69 L620.86,866.94" stroke="#dadada" stroke-width="2.85" stroke-linecap="round"/><path d="M628.97,900.91 L644.33,881.37" stroke="#dadada" stroke-width="2.85" stroke-linecap="round"/><path d="M644.33,881.37 L653.87,871.50" stroke="#dadada" stroke-width="2.85" stroke-linecap="round"/><path d="M628.97,900.91 L620.22,888.28" stroke="#dadada" stroke-width="2.85" stroke-linecap="round"/><path d="M620.22,888.28 L611.69,881.78" stroke="#dadada" stroke-width="2.85" stroke-linecap="round"/><path d="M628.97,900.91 L643.96,892.25" stroke="#b5651d" stroke-width="2.85" stroke-linecap="round"/><path d="M643.96,892.25 L656.22,885.15" stroke="#b5651d" stroke-width="2.85" stroke-linecap="round"/><path d="M628.97,900.91 L629.43,911.98" stroke="#dadada" stroke-width="2.85" stroke-linecap="round"/><path d="M629.43,911.98 L626.58,924.98" stroke="#dadada" stroke-width="2.85" stroke-linecap="round"/><path d="M628.97,900.91 L658.02,916.77" stroke="#dadada" stroke-width="3.94" stroke-linecap="round"/><path d="M658.02,916.77 L656.17,897.78" stroke="#7fbfb3" stroke-width="2.73" stroke-linecap="round"/><path d="M658.02,916.77 L664.33,902.20" stroke="#dadada" stroke-width="2.73" stroke-linecap="round"/><path d="M658.02,916.77 L676.18,899.16" stroke="#dadada" stroke-width="2.73" stroke-linecap="round"/><path d="M658.02,916.77 L651.10,905.66" stroke="#dadada" stroke-width="2.73" stroke-linecap="round"/><path d="M658.02,916.77 L642.20,912.25" stroke="#dccbb8" stroke-width="2.73" stroke-linecap="round"/><path d="M658.02,916.77 L671.75,911.05" stroke="#dadada" stroke-width="2.73" stroke-linecap="round"/><path d="M658.02,916.77 L680.61,918.89" stroke="#dadada" stroke-width="2.73" stroke-linecap="round"/><path d="M658.02,916.77 L644.28,921.89" stroke="#dadada" stroke-width="2.73" stroke-linecap="round"/><path d="M658.02,916.77 L670.10,923.59" stroke="#c6976b" stroke-width="2.73" stroke-linecap="round"/><path d="M658.02,916.77 L653.78,928.34" stroke="#dadada" stroke-width="2.73" stroke-linecap="round"/><path d="M658.02,916.77 L645.29,933.18" stroke="#dadada" stroke-width="2.73" stroke-linecap="round"/><path d="M658.02,916.77 L671.39,933.18" stroke="#dadada" stroke-width="2.73" stroke-linecap="round"/><path d="M658.02,916.77 L660.23,936.87" stroke="#dadada" stroke-width="2.73" stroke-linecap="round"/><path d="M628.97,900.91 L606.11,958.77" stroke="#d9d9d9" stroke-width="5.47" stroke-linecap="round"/><path d="M606.11,958.77 L604.77,941.62" stroke="#dadada" stroke-width="2.73" stroke-linecap="round"/><path d="M606.11,958.77 L596.34,947.15" stroke="#dadada" stroke-width="2.73" stroke-linecap="round"/><path d="M606.11,958.77 L614.64,948.63" stroke="#dadada" stroke-width="2.73" stroke-linecap="round"/><path d="M606.11,958.77 L584.49,949.09" stroke="#178b76" stroke-width="2.73" stroke-linecap="round"/><path d="M606.11,958.77 L623.53,957.52" stroke="#dadada" stroke-width="2.73" stroke-linecap="round"/><path d="M606.11,958.77 L590.57,959.74" stroke="#3a9f8d" stroke-width="2.73" stroke-linecap="round"/><path d="M606.11,958.77 L615.74,964.90" stroke="#dadada" stroke-width="2.73" stroke-linecap="round"/><path d="M606.11,958.77 L583.75,970.11" stroke="#dadada" stroke-width="2.73" stroke-linecap="round"/><path d="M606.11,958.77 L595.74,969.00" stroke="#dadada" stroke-width="2.73" stroke-linecap="round"/><path d="M606.11,958.77 L606.48,972.69" stroke="#dadada" stroke-width="2.73" stroke-linecap="round"/><path d="M606.11,958.77 L618.32,977.35" stroke="#dadada" stroke-width="2.73" stroke-linecap="round"/><path d="M606.11,958.77 L598.73,981.22" stroke="#d6c4b0" stroke-width="2.73" stroke-linecap="round"/><circle cx="560.84" cy="899.30" r="7.10" fill="#dadada"/><circle cx="580.52" cy="909.49" r="6.64" fill="#dadada"/><circle cx="603.02" cy="909.49" r="6.64" fill="#dadada"/><circle cx="628.97" cy="900.91" r="5.76" fill="#dadada"/><circle cx="563.33" cy="867.86" r="3.00" fill="#dadada"/><circle cx="550.83" cy="856.89" r="2.95" fill="#b5651d"/><circle cx="541.15" cy="843.79" r="2.95" fill="#b5651d"/><circle cx="530.78" cy="834.76" r="2.95" fill="#b5651d"/><circle cx="522.44" cy="825.77" r="3.13" fill="#b5651d"/><circle cx="558.35" cy="847.67" r="2.95" fill="#dadada"/><circle cx="554.75" cy="834.99" r="2.95" fill="#dadada"/><circle cx="550.83" cy="821.39" r="2.95" fill="#dadada"/><circle cx="547.05" cy="810.10" r="3.13" fill="#dadada"/><circle cx="569.87" cy="858.13" r="2.95" fill="#dadada"/><circle cx="571.07" cy="843.79" r="2.95" fill="#dadada"/><circle cx="569.37" cy="830.38" r="2.95" fill="#dadada"/><circle cx="570.89" cy="816.55" r="3.13" fill="#dadada"/><circle cx="584.26" cy="857.44" r="2.95" fill="#dadada"/><circle cx="586.42" cy="847.44" r="2.95" fill="#7fbfb3"/><circle cx="588.87" cy="835.91" r="2.95" fill="#7fbfb3"/><circle cx="588.41" cy="824.39" r="3.13" fill="#7fbfb3"/><circle cx="600.53" cy="847.30" r="2.95" fill="#d6c4b0"/><circle cx="606.75" cy="830.29" r="2.95" fill="#d6c4b0"/><circle cx="606.75" cy="817.89" r="3.13" fill="#d6c4b0"/><circle cx="619.11" cy="826.41" r="3.13" fill="#dadada"/><circle cx="556.60" cy="875.79" r="2.95" fill="#dadada"/><circle cx="547.15" cy="875.79" r="2.95" fill="#dadada"/><circle cx="539.77" cy="867.54" r="2.95" fill="#dadada"/><circle cx="536.45" cy="857.12" r="3.13" fill="#dadada"/><circle cx="541.94" cy="897.45" r="4.15" fill="#dadada"/><circle cx="524.65" cy="894.00" r="4.15" fill="#dadada"/><circle cx="508.05" cy="883.39" r="3.92" fill="#dadada"/><circle cx="494.13" cy="873.57" r="3.04" fill="#dadada"/><circle cx="481.09" cy="872.65" r="3.13" fill="#dadada"/><circle cx="489.24" cy="859.88" r="3.13" fill="#dadada"/><circle cx="517.41" cy="870.39" r="3.23" fill="#dadada"/><circle cx="510.54" cy="854.21" r="3.00" fill="#dadada"/><circle cx="521.47" cy="857.58" r="3.00" fill="#dadada"/><circle cx="507.73" cy="866.80" r="3.69" fill="#c4d9d5"/><circle cx="525.16" cy="878.92" r="3.00" fill="#dadada"/><circle cx="493.72" cy="887.64" r="3.13" fill="#dadada"/><circle cx="483.07" cy="891.05" r="3.23" fill="#d6c4b0"/><circle cx="507.41" cy="897.13" r="3.00" fill="#dadada"/><circle cx="500.72" cy="903.86" r="3.23" fill="#dadada"/><circle cx="560.75" cy="909.99" r="3.00" fill="#c6976b"/><circle cx="544.75" cy="913.36" r="3.00" fill="#dadada"/><circle cx="530.69" cy="924.15" r="3.00" fill="#dadada"/><circle cx="518.47" cy="920.73" r="2.95" fill="#dadada"/><circle cx="505.89" cy="923.41" r="2.95" fill="#dadada"/><circle cx="493.44" cy="923.27" r="3.13" fill="#dadada"/><circle cx="519.53" cy="936.41" r="2.95" fill="#dadada"/><circle cx="505.89" cy="948.99" r="2.95" fill="#dadada"/><circle cx="495.75" cy="942.63" r="3.00" fill="#dadada"/><circle cx="497.59" cy="958.31" r="3.00" fill="#d6c4b0"/><circle cx="512.34" cy="958.31" r="3.00" fill="#dadada"/><circle cx="582.60" cy="895.84" r="2.95" fill="#dadada"/><circle cx="585.87" cy="884.55" r="2.95" fill="#dadada"/><circle cx="593.57" cy="874.50" r="2.95" fill="#dadada"/><circle cx="602.10" cy="865.88" r="3.13" fill="#dadada"/><circle cx="572.87" cy="924.88" r="2.95" fill="#55aa9a"/><circle cx="563.60" cy="936.64" r="2.95" fill="#55aa9a"/><circle cx="550.14" cy="951.48" r="2.95" fill="#55aa9a"/><circle cx="547.10" cy="939.77" r="3.00" fill="#dadada"/><circle cx="537.74" cy="949.09" r="3.00" fill="#dadada"/><circle cx="560.79" cy="956.97" r="3.00" fill="#dadada"/><circle cx="538.99" cy="963.01" r="3.00" fill="#b5651d"/><circle cx="551.57" cy="967.94" r="3.13" fill="#2a9a86"/><circle cx="614.50" cy="897.92" r="2.95" fill="#dadada"/><circle cx="605.00" cy="895.38" r="3.00" fill="#dadada"/><circle cx="636.17" cy="870.49" r="2.95" fill="#dadada"/><circle cx="633.12" cy="856.89" r="3.13" fill="#dadada"/><circle cx="645.34" cy="858.04" r="3.00" fill="#dadada"/><circle cx="626.30" cy="878.69" r="2.95" fill="#dadada"/><circle cx="620.86" cy="866.94" r="3.00" fill="#dadada"/><circle cx="644.33" cy="881.37" r="2.95" fill="#dadada"/><circle cx="653.87" cy="871.50" r="3.00" fill="#dadada"/><circle cx="620.22" cy="888.28" r="2.95" fill="#dadada"/><circle cx="611.69" cy="881.78" r="3.00" fill="#dadada"/><circle cx="643.96" cy="892.25" r="2.95" fill="#b5651d"/><circle cx="656.22" cy="885.15" r="3.00" fill="#b5651d"/><circle cx="629.43" cy="911.98" r="2.95" fill="#dadada"/><circle cx="626.58" cy="924.98" r="3.00" fill="#dadada"/><circle cx="658.02" cy="916.77" r="3.69" fill="#dadada"/><circle cx="656.17" cy="897.78" r="3.04" fill="#7fbfb3"/><circle cx="664.33" cy="902.20" r="3.04" fill="#dadada"/><circle cx="676.18" cy="899.16" r="3.04" fill="#dadada"/><circle cx="651.10" cy="905.66" r="3.04" fill="#dadada"/><circle cx="642.20" cy="912.25" r="3.04" fill="#dccbb8"/><circle cx="671.75" cy="911.05" r="3.04" fill="#dadada"/><circle cx="680.61" cy="918.89" r="3.04" fill="#dadada"/><circle cx="644.28" cy="921.89" r="3.04" fill="#dadada"/><circle cx="670.10" cy="923.59" r="3.04" fill="#c6976b"/><circle cx="653.78" cy="928.34" r="3.04" fill="#dadada"/><circle cx="645.29" cy="933.18" r="3.04" fill="#dadada"/><circle cx="671.39" cy="933.18" r="3.04" fill="#dadada"/><circle cx="660.23" cy="936.87" r="3.04" fill="#dadada"/><circle cx="606.11" cy="958.77" r="5.76" fill="#c4d9d5"/><circle cx="604.77" cy="941.62" r="3.00" fill="#dadada"/><circle cx="596.34" cy="947.15" r="3.00" fill="#dadada"/><circle cx="614.64" cy="948.63" r="3.00" fill="#dadada"/><circle cx="584.49" cy="949.09" r="3.13" fill="#178b76"/><circle cx="623.53" cy="957.52" r="3.23" fill="#dadada"/><circle cx="590.57" cy="959.74" r="3.13" fill="#3a9f8d"/><circle cx="615.74" cy="964.90" r="4.15" fill="#dadada"/><circle cx="583.75" cy="970.11" r="3.23" fill="#dadada"/><circle cx="595.74" cy="969.00" r="3.23" fill="#dadada"/><circle cx="606.48" cy="972.69" r="3.23" fill="#dadada"/><circle cx="618.32" cy="977.35" r="3.69" fill="#dadada"/><circle cx="598.73" cy="981.22" r="3.23" fill="#d6c4b0"/><text x="577" y="588.2" font-size="7.4" text-anchor="middle" fill="#231f20"><tspan fill="#b77b3f">Aged</tspan> versus <tspan fill="#3ea594">young</tspan></text><text x="577.9" y="798.5" font-size="7.4" text-anchor="middle" fill="#231f20"><tspan fill="#b77b3f">oFMTiAged</tspan> versus <tspan fill="#3ea594">yFMTiAged</tspan></text>
</svg>
</body></html>
